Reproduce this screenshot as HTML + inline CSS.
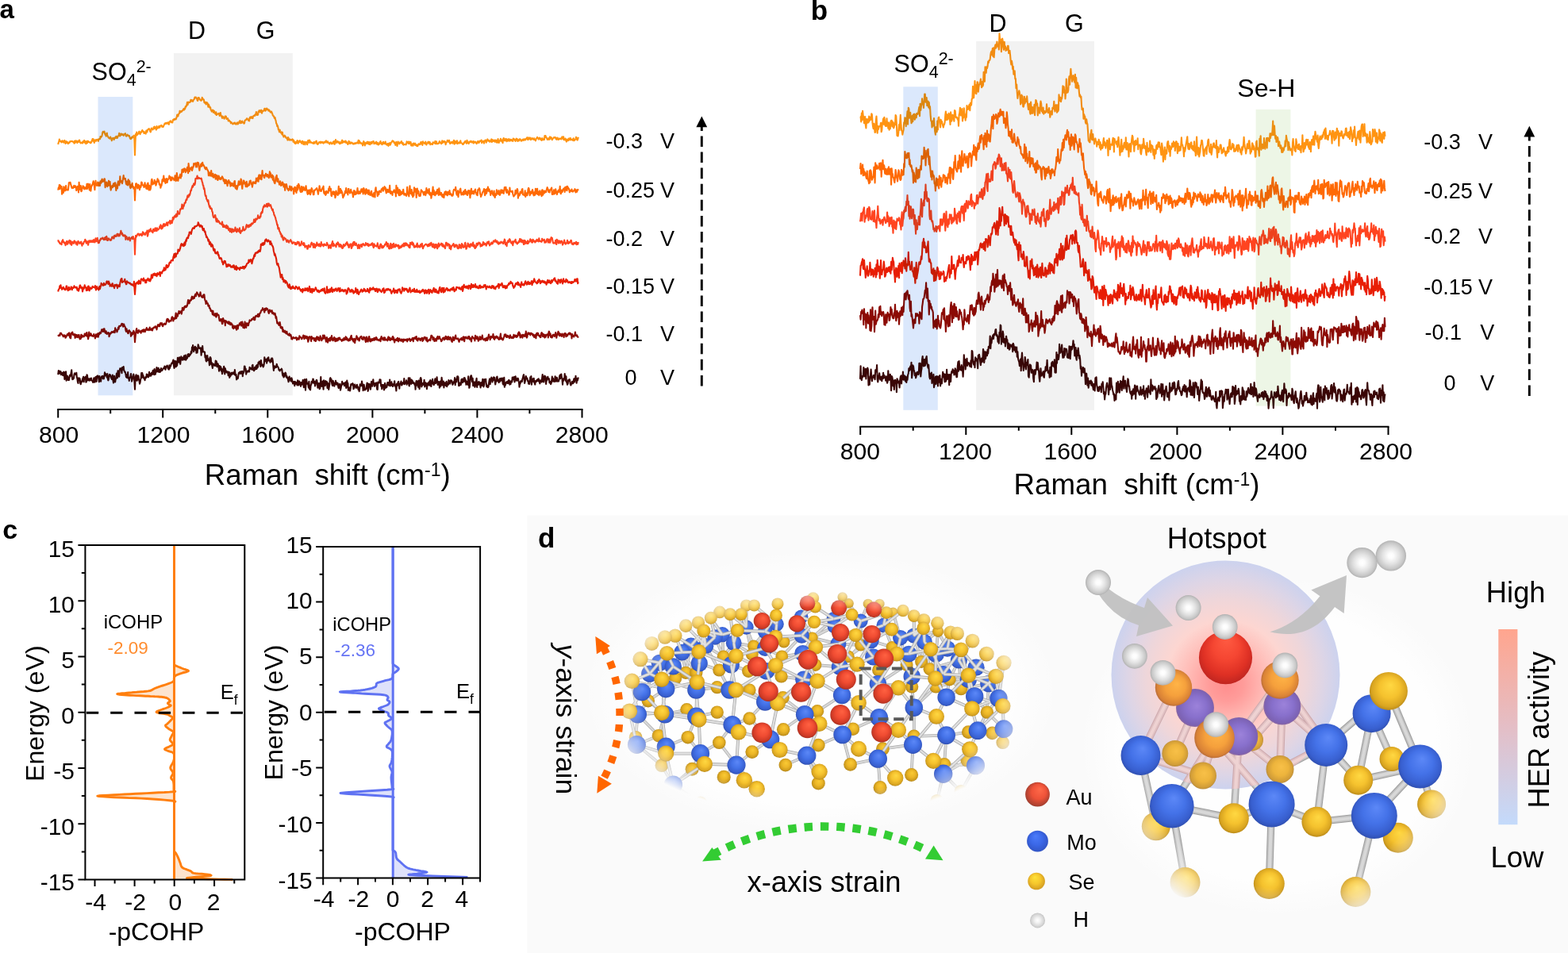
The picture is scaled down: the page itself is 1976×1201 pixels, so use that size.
<!DOCTYPE html>
<html lang="en"><head><meta charset="utf-8"><title>Figure</title>
<style>
html,body{margin:0;padding:0;background:#fff;}
body{width:1976px;height:1201px;overflow:hidden;}
svg{display:block;font-family:"Liberation Sans",Arial,Helvetica,sans-serif;}
</style></head><body>
<svg width="1976" height="1201" viewBox="0 0 1976 1201">
<rect width="1976" height="1201" fill="#fff"/>
<g id="panel-d">
<defs>
<radialGradient id="gY" cx="0.5" cy="0.5" r="0.6" fx="0.55" fy="0.34"><stop offset="0" stop-color="#FFD842"/><stop offset="0.45" stop-color="#F5C22E"/><stop offset="0.75" stop-color="#D9A521"/><stop offset="0.92" stop-color="#AE8016"/><stop offset="1" stop-color="#7E5E0E"/></radialGradient>
<radialGradient id="gYb" cx="0.5" cy="0.5" r="0.6" fx="0.55" fy="0.34"><stop offset="0" stop-color="#FACA34"/><stop offset="0.45" stop-color="#ECB627"/><stop offset="0.75" stop-color="#CC9A1C"/><stop offset="0.92" stop-color="#A47814"/><stop offset="1" stop-color="#7A5A0D"/></radialGradient>
<radialGradient id="gB" cx="0.5" cy="0.5" r="0.6" fx="0.55" fy="0.32"><stop offset="0" stop-color="#5C88F7"/><stop offset="0.45" stop-color="#4472E8"/><stop offset="0.75" stop-color="#385FCF"/><stop offset="0.92" stop-color="#2D4AA6"/><stop offset="1" stop-color="#22367A"/></radialGradient>
<radialGradient id="gR" cx="0.5" cy="0.5" r="0.6" fx="0.58" fy="0.32"><stop offset="0" stop-color="#FF6242"/><stop offset="0.45" stop-color="#F04C32"/><stop offset="0.75" stop-color="#CE3A26"/><stop offset="0.92" stop-color="#9E2C1E"/><stop offset="1" stop-color="#6E2016"/></radialGradient>
<radialGradient id="gH" cx="0.5" cy="0.5" r="0.5" fx="0.5" fy="0.5"><stop offset="0" stop-color="#FFFFFF"/><stop offset="0.18" stop-color="#FCFCFC"/><stop offset="0.55" stop-color="#E2E2E2"/><stop offset="0.85" stop-color="#C8C8C8"/><stop offset="1" stop-color="#B2B2B2"/></radialGradient>
<radialGradient id="gO" cx="0.5" cy="0.5" r="0.56" fx="0.6" fy="0.4"><stop offset="0" stop-color="#FFB447"/><stop offset="0.5" stop-color="#F5A03C"/><stop offset="0.82" stop-color="#D98236"/><stop offset="1" stop-color="#9C5A3A"/></radialGradient>
<radialGradient id="gP" cx="0.5" cy="0.5" r="0.56" fx="0.55" fy="0.45"><stop offset="0" stop-color="#9C82DA"/><stop offset="0.5" stop-color="#8870CC"/><stop offset="0.82" stop-color="#7C62B4"/><stop offset="1" stop-color="#9A6C8C"/></radialGradient>
<radialGradient id="gYt" cx="0.5" cy="0.5" r="0.56" fx="0.55" fy="0.4"><stop offset="0" stop-color="#F8C048"/><stop offset="0.5" stop-color="#EDB43C"/><stop offset="0.82" stop-color="#D09C38"/><stop offset="1" stop-color="#A07A40"/></radialGradient>
<radialGradient id="gAu" cx="0.5" cy="0.5" r="0.62" fx="0.52" fy="0.14"><stop offset="0" stop-color="#FF5B42"/><stop offset="0.4" stop-color="#F54632"/><stop offset="0.7" stop-color="#DE3024"/><stop offset="0.9" stop-color="#BC2420"/><stop offset="1" stop-color="#A01E1C"/></radialGradient>
<radialGradient id="gLR" cx="0.5" cy="0.5" r="0.6" fx="0.62" fy="0.28"><stop offset="0" stop-color="#FF6A4A"/><stop offset="0.5" stop-color="#EE5238"/><stop offset="0.85" stop-color="#A84030"/><stop offset="1" stop-color="#5A3A34"/></radialGradient>
<radialGradient id="gLB" cx="0.5" cy="0.5" r="0.6" fx="0.4" fy="0.25"><stop offset="0" stop-color="#4C7CFA"/><stop offset="0.5" stop-color="#3B68E8"/><stop offset="0.85" stop-color="#3256C8"/><stop offset="1" stop-color="#2C4AA8"/></radialGradient>
<radialGradient id="gLY" cx="0.5" cy="0.5" r="0.6" fx="0.4" fy="0.25"><stop offset="0" stop-color="#FFE23A"/><stop offset="0.5" stop-color="#F5C62C"/><stop offset="0.85" stop-color="#D6A022"/><stop offset="1" stop-color="#B08018"/></radialGradient>
<radialGradient id="gLH" cx="0.5" cy="0.5" r="0.5" fx="0.5" fy="0.5"><stop offset="0" stop-color="#FFFFFF"/><stop offset="0.3" stop-color="#F4F4F4"/><stop offset="0.8" stop-color="#D6D6D6"/><stop offset="1" stop-color="#C2C2C2"/></radialGradient>
<radialGradient id="glow" gradientUnits="userSpaceOnUse" cx="1544.5" cy="850.5" r="144" fx="1546" fy="864"><stop offset="0" stop-color="#FF8E8E"/><stop offset="0.15" stop-color="#FF9C9A"/><stop offset="0.35" stop-color="#FFBDB8"/><stop offset="0.52" stop-color="#FDD6D1"/><stop offset="0.7" stop-color="#EED6DA"/><stop offset="0.86" stop-color="#DDD5E6"/><stop offset="1" stop-color="#CCD2EE"/></radialGradient>
<radialGradient id="vgL" gradientUnits="userSpaceOnUse" cx="0" cy="0" r="1" gradientTransform="translate(1032 883) scale(277 147)"><stop offset="0" stop-color="#fff"/><stop offset="0.80" stop-color="#fff"/><stop offset="0.9" stop-color="#888"/><stop offset="1" stop-color="#000"/></radialGradient>
<mask id="mL" maskUnits="userSpaceOnUse" x="660" y="650" width="700" height="551"><rect x="660" y="650" width="700" height="551" fill="url(#vgL)"/></mask>
<radialGradient id="vgR" gradientUnits="userSpaceOnUse" cx="0" cy="0" r="1" gradientTransform="translate(1622 940) scale(235 235)"><stop offset="0" stop-color="#fff"/><stop offset="0.766" stop-color="#fff"/><stop offset="0.885" stop-color="#888"/><stop offset="1" stop-color="#000"/></radialGradient>
<mask id="mR" maskUnits="userSpaceOnUse" x="1340" y="650" width="520" height="551"><rect x="1340" y="650" width="520" height="551" fill="url(#vgR)"/></mask>
<radialGradient id="haloL" gradientUnits="userSpaceOnUse" cx="0" cy="0" r="1" gradientTransform="translate(1034 872) scale(300 180)"><stop offset="0" stop-color="#fff"/><stop offset="0.8" stop-color="#fff"/><stop offset="1" stop-color="#fff" stop-opacity="0"/></radialGradient>
<radialGradient id="haloR" gradientUnits="userSpaceOnUse" cx="0" cy="0" r="1" gradientTransform="translate(1610 940) scale(250 215)"><stop offset="0" stop-color="#fff"/><stop offset="0.8" stop-color="#fff"/><stop offset="1" stop-color="#fff" stop-opacity="0"/></radialGradient>
<linearGradient id="bar" x1="0" y1="0" x2="0" y2="1"><stop offset="0" stop-color="#FFA58E"/><stop offset="0.5" stop-color="#E4BEC6"/><stop offset="1" stop-color="#C3DAFB"/></linearGradient>
</defs>
<rect x="664.3" y="649.5" width="1312" height="552" fill="#fafafa"/>
<ellipse cx="1034" cy="872" rx="300" ry="180" fill="url(#haloL)" opacity="0.8"/>
<ellipse cx="1610" cy="940" rx="250" ry="215" fill="url(#haloR)" opacity="0.8"/>
<text x="678" y="689.5" font-size="35" font-weight="bold">d</text>
<g mask="url(#mL)">
<path d="M818.8 849.1L851.1 855M818.8 849.1L816.8 883.2M848.4 839.9L851.1 855M848.4 839.9L864.2 847.8M848.4 839.9L877.4 847.8M831.3 835.3L851.1 855M831.3 835.3L864.2 847.8M881.3 835.9L877.4 847.8M881.3 835.9L864.2 847.8M881.3 835.9L906.3 844.5M859.6 822.1L864.2 847.8M859.6 822.1L877.4 847.8M859.6 822.1L851.1 855M870.8 813.6L864.2 847.8M870.8 813.6L877.4 847.8M889.2 814.2L911.6 827.4M889.2 814.2L906.3 844.5M889.2 814.2L877.4 847.8M921.4 837.9L911.6 827.4M921.4 837.9L906.3 844.5M921.4 837.9L943.2 845.8M924.7 810.3L911.6 827.4M924.7 810.3L949.7 814.2M924.7 810.3L947.8 824.7M910.3 799.7L911.6 827.4M901.1 803L911.6 827.4M940.5 790.5L949.7 814.2M940.5 790.5L947.8 824.7M964.2 795.8L949.7 814.2M964.2 795.8L987.9 808.9M964.2 795.8L947.8 824.7M964.2 816.8L949.7 814.2M964.2 816.8L947.8 824.7M964.2 816.8L985.3 827.4M965.5 845.8L984.6 852.4M965.5 845.8L943.2 845.8M965.5 845.8L985.3 827.4M1010.3 801.1L1023.4 803.7M1010.3 801.1L987.9 808.9M1010.3 801.1L985.3 827.4M1009.6 777.4L1023.4 803.7M1011.6 823.4L1027.4 837.9M1011.6 823.4L1023.4 803.7M1011.6 823.4L985.3 827.4M1012.9 856.3L1027.4 837.9M1012.9 856.3L984.6 852.4M1012.9 856.3L986.6 879.2M808.9 872.1L816.8 883.2M839.2 868.2L851.1 855M839.2 868.2L816.8 883.2M839.2 868.2L864.2 847.8M877.4 869.5L877.4 847.8M877.4 869.5L864.2 847.8M877.4 869.5L903.7 866.2M919.5 869.5L903.7 866.2M919.5 869.5L944.5 869.5M919.5 869.5L906.3 844.5M978.7 786.6L987.9 808.9M1050.5 780L1069.6 760.3M1050.5 780L1061.7 752.4M1050.5 780L1023.4 803.7M1084.7 782.6L1093.9 760.9M1084.7 782.6L1069.6 760.3M1084.7 782.6L1084.7 812.9M1051.8 789.2L1023.4 803.7M1051.8 789.2L1069.6 760.3M1134.7 803.7L1124.2 815.5M1134.7 803.7L1125.5 772.1M1134.7 803.7L1142.6 837.9M1113.7 787.9L1125.5 772.1M1113.7 787.9L1108.4 760.9M1113.7 787.9L1124.2 815.5M1151.8 801.1L1182.1 795.8M1151.8 801.1L1124.2 815.5M1151.8 801.1L1161.1 833.9M1165 808.9L1182.1 795.8M1165 808.9L1161.1 833.9M1165 808.9L1171.6 843.2M1056.4 811.6L1068.9 827.4M1056.4 811.6L1084.7 812.9M1056.4 811.6L1023.4 803.7M1097.9 807.6L1084.7 812.9M1097.9 807.6L1124.2 815.5M1097.9 807.6L1068.9 827.4M1145.3 824.1L1142.6 837.9M1145.3 824.1L1161.1 833.9M1145.3 824.1L1124.2 815.5M1179.5 824.7L1171.6 843.2M1179.5 824.7L1161.1 833.9M1179.5 824.7L1182.1 795.8M1193.9 817.5L1182.1 795.8M1193.9 817.5L1171.6 843.2M1193.9 817.5L1161.1 833.9M1208.4 832L1196.6 856.3M1208.4 832L1211.1 868.2M1208.4 832L1171.6 843.2M1230.1 841.2L1211.1 868.2M1230.1 841.2L1196.6 856.3M1058.4 840.5L1068.9 827.4M1058.4 840.5L1027.4 837.9M1058.4 840.5L1084.7 812.9M1100.5 828L1107.1 844.5M1100.5 828L1084.7 812.9M1100.5 828L1124.2 815.5M1188.7 849.7L1179.5 865.5M1188.7 849.7L1171.6 843.2M1188.7 849.7L1211.1 868.2M1149.2 852.4L1149.2 865.5M1149.2 852.4L1142.6 837.9M1149.2 852.4L1161.1 833.9M1106.4 861.6L1107.1 844.5M1106.4 861.6L1149.2 865.5M1106.4 861.6L1142.6 837.9M1220.3 856.3L1211.1 868.2M1220.3 856.3L1196.6 856.3M1220.3 856.3L1179.5 865.5M1245.9 861.6L1211.1 868.2M1245.9 861.6L1243.9 897.6M1061.1 876.1L1030 896.3M1192.6 878.7L1179.5 865.5M1192.6 878.7L1211.1 868.2M1192.6 878.7L1196.6 856.3M1228.2 877.4L1211.1 868.2M1228.2 877.4L1243.9 897.6M1228.2 877.4L1196.6 856.3M1258.4 880L1243.9 897.6M803.7 900.3L816.8 883.2M803.7 900.3L801.1 929.2M803.7 900.3L830 927.2M837.9 900.3L816.8 883.2M837.9 900.3L830 927.2M837.9 900.3L865.5 894.3M877.4 902.9L865.5 894.3M877.4 902.9L903.7 897.6M877.4 902.9L866.8 929.2M922.8 913.4L944.5 905.5M922.8 913.4L903.7 897.6M922.8 913.4L906.3 935.8M964.2 884.5L986.6 879.2M964.2 884.5L944.5 869.5M964.2 884.5L944.5 905.5M1014.2 900.3L1030 896.3M1014.2 900.3L987.2 919.3M1014.2 900.3L986.6 879.2M970.8 931.8L987.2 919.3M970.8 931.8L947.8 947.6M970.8 931.8L944.5 905.5M839.2 941.1L830 927.2M839.2 941.1L833.9 964.7M839.2 941.1L866.8 929.2M882.6 949.6L872.1 969.3M882.6 949.6L866.8 929.2M882.6 949.6L906.3 935.8M928 964.1L912.2 979.2M928 964.1L947.8 947.6M928 964.1L906.3 935.8M1016.8 952.2L1031.3 939.1M1016.8 952.2L989.9 964.1M1016.8 952.2L1031.3 987.1M802.4 938.4L830 927.2M802.4 938.4L833.9 964.7M848.4 989.1L833.9 964.7M848.4 989.1L872.1 969.3M848.4 989.1L882.6 1012.1M1151.8 891.7L1149.2 865.5M1151.8 891.7L1151.8 927.9M1151.8 891.7L1179.5 865.5M1107.8 904.2L1074.9 918.7M1107.8 904.2L1112.4 943.7M1061.7 925.9L1074.9 918.7M1061.7 925.9L1031.3 939.1M1061.7 925.9L1071.6 963.4M1150.5 938.4L1148.6 976.6M1150.5 938.4L1112.4 943.7M1192.6 926.6L1220.3 922.6M1192.6 926.6L1190 963.4M1192.6 926.6L1151.8 927.9M1232.1 920.7L1220.3 922.6M1232.1 920.7L1250.5 923.9M1232.1 920.7L1243.9 897.6M1265 918.7L1250.5 923.9M1265 918.7L1263.7 935.8M1265 918.7L1243.9 897.6M1106.4 956.2L1112.4 943.7M1106.4 956.2L1071.6 963.4M1106.4 956.2L1109.1 992.4M1188.7 975.3L1211.1 997.6M1188.7 975.3L1218.9 958.2M1188.7 975.3L1180.8 1009.5M1229.5 964.7L1218.9 958.2M1229.5 964.7L1211.1 997.6M1229.5 964.7L1190 963.4" stroke="#a9a9a9" stroke-width="3.8" stroke-linecap="round" fill="none"/><path d="M818.8 849.1L851.1 855M818.8 849.1L816.8 883.2M848.4 839.9L851.1 855M848.4 839.9L864.2 847.8M848.4 839.9L877.4 847.8M831.3 835.3L851.1 855M831.3 835.3L864.2 847.8M881.3 835.9L877.4 847.8M881.3 835.9L864.2 847.8M881.3 835.9L906.3 844.5M859.6 822.1L864.2 847.8M859.6 822.1L877.4 847.8M859.6 822.1L851.1 855M870.8 813.6L864.2 847.8M870.8 813.6L877.4 847.8M889.2 814.2L911.6 827.4M889.2 814.2L906.3 844.5M889.2 814.2L877.4 847.8M921.4 837.9L911.6 827.4M921.4 837.9L906.3 844.5M921.4 837.9L943.2 845.8M924.7 810.3L911.6 827.4M924.7 810.3L949.7 814.2M924.7 810.3L947.8 824.7M910.3 799.7L911.6 827.4M901.1 803L911.6 827.4M940.5 790.5L949.7 814.2M940.5 790.5L947.8 824.7M964.2 795.8L949.7 814.2M964.2 795.8L987.9 808.9M964.2 795.8L947.8 824.7M964.2 816.8L949.7 814.2M964.2 816.8L947.8 824.7M964.2 816.8L985.3 827.4M965.5 845.8L984.6 852.4M965.5 845.8L943.2 845.8M965.5 845.8L985.3 827.4M1010.3 801.1L1023.4 803.7M1010.3 801.1L987.9 808.9M1010.3 801.1L985.3 827.4M1009.6 777.4L1023.4 803.7M1011.6 823.4L1027.4 837.9M1011.6 823.4L1023.4 803.7M1011.6 823.4L985.3 827.4M1012.9 856.3L1027.4 837.9M1012.9 856.3L984.6 852.4M1012.9 856.3L986.6 879.2M808.9 872.1L816.8 883.2M839.2 868.2L851.1 855M839.2 868.2L816.8 883.2M839.2 868.2L864.2 847.8M877.4 869.5L877.4 847.8M877.4 869.5L864.2 847.8M877.4 869.5L903.7 866.2M919.5 869.5L903.7 866.2M919.5 869.5L944.5 869.5M919.5 869.5L906.3 844.5M978.7 786.6L987.9 808.9M1050.5 780L1069.6 760.3M1050.5 780L1061.7 752.4M1050.5 780L1023.4 803.7M1084.7 782.6L1093.9 760.9M1084.7 782.6L1069.6 760.3M1084.7 782.6L1084.7 812.9M1051.8 789.2L1023.4 803.7M1051.8 789.2L1069.6 760.3M1134.7 803.7L1124.2 815.5M1134.7 803.7L1125.5 772.1M1134.7 803.7L1142.6 837.9M1113.7 787.9L1125.5 772.1M1113.7 787.9L1108.4 760.9M1113.7 787.9L1124.2 815.5M1151.8 801.1L1182.1 795.8M1151.8 801.1L1124.2 815.5M1151.8 801.1L1161.1 833.9M1165 808.9L1182.1 795.8M1165 808.9L1161.1 833.9M1165 808.9L1171.6 843.2M1056.4 811.6L1068.9 827.4M1056.4 811.6L1084.7 812.9M1056.4 811.6L1023.4 803.7M1097.9 807.6L1084.7 812.9M1097.9 807.6L1124.2 815.5M1097.9 807.6L1068.9 827.4M1145.3 824.1L1142.6 837.9M1145.3 824.1L1161.1 833.9M1145.3 824.1L1124.2 815.5M1179.5 824.7L1171.6 843.2M1179.5 824.7L1161.1 833.9M1179.5 824.7L1182.1 795.8M1193.9 817.5L1182.1 795.8M1193.9 817.5L1171.6 843.2M1193.9 817.5L1161.1 833.9M1208.4 832L1196.6 856.3M1208.4 832L1211.1 868.2M1208.4 832L1171.6 843.2M1230.1 841.2L1211.1 868.2M1230.1 841.2L1196.6 856.3M1058.4 840.5L1068.9 827.4M1058.4 840.5L1027.4 837.9M1058.4 840.5L1084.7 812.9M1100.5 828L1107.1 844.5M1100.5 828L1084.7 812.9M1100.5 828L1124.2 815.5M1188.7 849.7L1179.5 865.5M1188.7 849.7L1171.6 843.2M1188.7 849.7L1211.1 868.2M1149.2 852.4L1149.2 865.5M1149.2 852.4L1142.6 837.9M1149.2 852.4L1161.1 833.9M1106.4 861.6L1107.1 844.5M1106.4 861.6L1149.2 865.5M1106.4 861.6L1142.6 837.9M1220.3 856.3L1211.1 868.2M1220.3 856.3L1196.6 856.3M1220.3 856.3L1179.5 865.5M1245.9 861.6L1211.1 868.2M1245.9 861.6L1243.9 897.6M1061.1 876.1L1030 896.3M1192.6 878.7L1179.5 865.5M1192.6 878.7L1211.1 868.2M1192.6 878.7L1196.6 856.3M1228.2 877.4L1211.1 868.2M1228.2 877.4L1243.9 897.6M1228.2 877.4L1196.6 856.3M1258.4 880L1243.9 897.6M803.7 900.3L816.8 883.2M803.7 900.3L801.1 929.2M803.7 900.3L830 927.2M837.9 900.3L816.8 883.2M837.9 900.3L830 927.2M837.9 900.3L865.5 894.3M877.4 902.9L865.5 894.3M877.4 902.9L903.7 897.6M877.4 902.9L866.8 929.2M922.8 913.4L944.5 905.5M922.8 913.4L903.7 897.6M922.8 913.4L906.3 935.8M964.2 884.5L986.6 879.2M964.2 884.5L944.5 869.5M964.2 884.5L944.5 905.5M1014.2 900.3L1030 896.3M1014.2 900.3L987.2 919.3M1014.2 900.3L986.6 879.2M970.8 931.8L987.2 919.3M970.8 931.8L947.8 947.6M970.8 931.8L944.5 905.5M839.2 941.1L830 927.2M839.2 941.1L833.9 964.7M839.2 941.1L866.8 929.2M882.6 949.6L872.1 969.3M882.6 949.6L866.8 929.2M882.6 949.6L906.3 935.8M928 964.1L912.2 979.2M928 964.1L947.8 947.6M928 964.1L906.3 935.8M1016.8 952.2L1031.3 939.1M1016.8 952.2L989.9 964.1M1016.8 952.2L1031.3 987.1M802.4 938.4L830 927.2M802.4 938.4L833.9 964.7M848.4 989.1L833.9 964.7M848.4 989.1L872.1 969.3M848.4 989.1L882.6 1012.1M1151.8 891.7L1149.2 865.5M1151.8 891.7L1151.8 927.9M1151.8 891.7L1179.5 865.5M1107.8 904.2L1074.9 918.7M1107.8 904.2L1112.4 943.7M1061.7 925.9L1074.9 918.7M1061.7 925.9L1031.3 939.1M1061.7 925.9L1071.6 963.4M1150.5 938.4L1148.6 976.6M1150.5 938.4L1112.4 943.7M1192.6 926.6L1220.3 922.6M1192.6 926.6L1190 963.4M1192.6 926.6L1151.8 927.9M1232.1 920.7L1220.3 922.6M1232.1 920.7L1250.5 923.9M1232.1 920.7L1243.9 897.6M1265 918.7L1250.5 923.9M1265 918.7L1263.7 935.8M1265 918.7L1243.9 897.6M1106.4 956.2L1112.4 943.7M1106.4 956.2L1071.6 963.4M1106.4 956.2L1109.1 992.4M1188.7 975.3L1211.1 997.6M1188.7 975.3L1218.9 958.2M1188.7 975.3L1180.8 1009.5M1229.5 964.7L1218.9 958.2M1229.5 964.7L1211.1 997.6M1229.5 964.7L1190 963.4" stroke="#c6c6c6" stroke-width="3" stroke-linecap="round" fill="none"/><path d="M818.8 849.1L851.1 855M818.8 849.1L816.8 883.2M848.4 839.9L851.1 855M848.4 839.9L864.2 847.8M848.4 839.9L877.4 847.8M831.3 835.3L851.1 855M831.3 835.3L864.2 847.8M881.3 835.9L877.4 847.8M881.3 835.9L864.2 847.8M881.3 835.9L906.3 844.5M859.6 822.1L864.2 847.8M859.6 822.1L877.4 847.8M859.6 822.1L851.1 855M870.8 813.6L864.2 847.8M870.8 813.6L877.4 847.8M889.2 814.2L911.6 827.4M889.2 814.2L906.3 844.5M889.2 814.2L877.4 847.8M921.4 837.9L911.6 827.4M921.4 837.9L906.3 844.5M921.4 837.9L943.2 845.8M924.7 810.3L911.6 827.4M924.7 810.3L949.7 814.2M924.7 810.3L947.8 824.7M910.3 799.7L911.6 827.4M901.1 803L911.6 827.4M940.5 790.5L949.7 814.2M940.5 790.5L947.8 824.7M964.2 795.8L949.7 814.2M964.2 795.8L987.9 808.9M964.2 795.8L947.8 824.7M964.2 816.8L949.7 814.2M964.2 816.8L947.8 824.7M964.2 816.8L985.3 827.4M965.5 845.8L984.6 852.4M965.5 845.8L943.2 845.8M965.5 845.8L985.3 827.4M1010.3 801.1L1023.4 803.7M1010.3 801.1L987.9 808.9M1010.3 801.1L985.3 827.4M1009.6 777.4L1023.4 803.7M1011.6 823.4L1027.4 837.9M1011.6 823.4L1023.4 803.7M1011.6 823.4L985.3 827.4M1012.9 856.3L1027.4 837.9M1012.9 856.3L984.6 852.4M1012.9 856.3L986.6 879.2M808.9 872.1L816.8 883.2M839.2 868.2L851.1 855M839.2 868.2L816.8 883.2M839.2 868.2L864.2 847.8M877.4 869.5L877.4 847.8M877.4 869.5L864.2 847.8M877.4 869.5L903.7 866.2M919.5 869.5L903.7 866.2M919.5 869.5L944.5 869.5M919.5 869.5L906.3 844.5M978.7 786.6L987.9 808.9M1050.5 780L1069.6 760.3M1050.5 780L1061.7 752.4M1050.5 780L1023.4 803.7M1084.7 782.6L1093.9 760.9M1084.7 782.6L1069.6 760.3M1084.7 782.6L1084.7 812.9M1051.8 789.2L1023.4 803.7M1051.8 789.2L1069.6 760.3M1134.7 803.7L1124.2 815.5M1134.7 803.7L1125.5 772.1M1134.7 803.7L1142.6 837.9M1113.7 787.9L1125.5 772.1M1113.7 787.9L1108.4 760.9M1113.7 787.9L1124.2 815.5M1151.8 801.1L1182.1 795.8M1151.8 801.1L1124.2 815.5M1151.8 801.1L1161.1 833.9M1165 808.9L1182.1 795.8M1165 808.9L1161.1 833.9M1165 808.9L1171.6 843.2M1056.4 811.6L1068.9 827.4M1056.4 811.6L1084.7 812.9M1056.4 811.6L1023.4 803.7M1097.9 807.6L1084.7 812.9M1097.9 807.6L1124.2 815.5M1097.9 807.6L1068.9 827.4M1145.3 824.1L1142.6 837.9M1145.3 824.1L1161.1 833.9M1145.3 824.1L1124.2 815.5M1179.5 824.7L1171.6 843.2M1179.5 824.7L1161.1 833.9M1179.5 824.7L1182.1 795.8M1193.9 817.5L1182.1 795.8M1193.9 817.5L1171.6 843.2M1193.9 817.5L1161.1 833.9M1208.4 832L1196.6 856.3M1208.4 832L1211.1 868.2M1208.4 832L1171.6 843.2M1230.1 841.2L1211.1 868.2M1230.1 841.2L1196.6 856.3M1058.4 840.5L1068.9 827.4M1058.4 840.5L1027.4 837.9M1058.4 840.5L1084.7 812.9M1100.5 828L1107.1 844.5M1100.5 828L1084.7 812.9M1100.5 828L1124.2 815.5M1188.7 849.7L1179.5 865.5M1188.7 849.7L1171.6 843.2M1188.7 849.7L1211.1 868.2M1149.2 852.4L1149.2 865.5M1149.2 852.4L1142.6 837.9M1149.2 852.4L1161.1 833.9M1106.4 861.6L1107.1 844.5M1106.4 861.6L1149.2 865.5M1106.4 861.6L1142.6 837.9M1220.3 856.3L1211.1 868.2M1220.3 856.3L1196.6 856.3M1220.3 856.3L1179.5 865.5M1245.9 861.6L1211.1 868.2M1245.9 861.6L1243.9 897.6M1061.1 876.1L1030 896.3M1192.6 878.7L1179.5 865.5M1192.6 878.7L1211.1 868.2M1192.6 878.7L1196.6 856.3M1228.2 877.4L1211.1 868.2M1228.2 877.4L1243.9 897.6M1228.2 877.4L1196.6 856.3M1258.4 880L1243.9 897.6M803.7 900.3L816.8 883.2M803.7 900.3L801.1 929.2M803.7 900.3L830 927.2M837.9 900.3L816.8 883.2M837.9 900.3L830 927.2M837.9 900.3L865.5 894.3M877.4 902.9L865.5 894.3M877.4 902.9L903.7 897.6M877.4 902.9L866.8 929.2M922.8 913.4L944.5 905.5M922.8 913.4L903.7 897.6M922.8 913.4L906.3 935.8M964.2 884.5L986.6 879.2M964.2 884.5L944.5 869.5M964.2 884.5L944.5 905.5M1014.2 900.3L1030 896.3M1014.2 900.3L987.2 919.3M1014.2 900.3L986.6 879.2M970.8 931.8L987.2 919.3M970.8 931.8L947.8 947.6M970.8 931.8L944.5 905.5M839.2 941.1L830 927.2M839.2 941.1L833.9 964.7M839.2 941.1L866.8 929.2M882.6 949.6L872.1 969.3M882.6 949.6L866.8 929.2M882.6 949.6L906.3 935.8M928 964.1L912.2 979.2M928 964.1L947.8 947.6M928 964.1L906.3 935.8M1016.8 952.2L1031.3 939.1M1016.8 952.2L989.9 964.1M1016.8 952.2L1031.3 987.1M802.4 938.4L830 927.2M802.4 938.4L833.9 964.7M848.4 989.1L833.9 964.7M848.4 989.1L872.1 969.3M848.4 989.1L882.6 1012.1M1151.8 891.7L1149.2 865.5M1151.8 891.7L1151.8 927.9M1151.8 891.7L1179.5 865.5M1107.8 904.2L1074.9 918.7M1107.8 904.2L1112.4 943.7M1061.7 925.9L1074.9 918.7M1061.7 925.9L1031.3 939.1M1061.7 925.9L1071.6 963.4M1150.5 938.4L1148.6 976.6M1150.5 938.4L1112.4 943.7M1192.6 926.6L1220.3 922.6M1192.6 926.6L1190 963.4M1192.6 926.6L1151.8 927.9M1232.1 920.7L1220.3 922.6M1232.1 920.7L1250.5 923.9M1232.1 920.7L1243.9 897.6M1265 918.7L1250.5 923.9M1265 918.7L1263.7 935.8M1265 918.7L1243.9 897.6M1106.4 956.2L1112.4 943.7M1106.4 956.2L1071.6 963.4M1106.4 956.2L1109.1 992.4M1188.7 975.3L1211.1 997.6M1188.7 975.3L1218.9 958.2M1188.7 975.3L1180.8 1009.5M1229.5 964.7L1218.9 958.2M1229.5 964.7L1211.1 997.6M1229.5 964.7L1190 963.4" stroke="#dadada" stroke-width="1.6" stroke-linecap="round" fill="none"/>
<circle cx="1061.7" cy="752.4" r="6.2" fill="url(#gYb)"/>
<circle cx="1069.6" cy="760.3" r="6.2" fill="url(#gYb)"/>
<circle cx="1093.9" cy="760.9" r="6.2" fill="url(#gYb)"/>
<circle cx="1108.4" cy="760.9" r="6.2" fill="url(#gYb)"/>
<circle cx="1125.5" cy="772.1" r="6.5" fill="url(#gYb)"/>
<circle cx="1182.1" cy="795.8" r="7.1" fill="url(#gYb)"/>
<circle cx="1023.4" cy="803.7" r="7.3" fill="url(#gYb)"/>
<circle cx="987.9" cy="808.9" r="7.5" fill="url(#gYb)"/>
<circle cx="1084.7" cy="812.9" r="7.6" fill="url(#gYb)"/>
<circle cx="949.7" cy="814.2" r="7.6" fill="url(#gYb)"/>
<circle cx="1124.2" cy="815.5" r="7.6" fill="url(#gYb)"/>
<circle cx="947.8" cy="824.7" r="7.9" fill="url(#gYb)"/>
<circle cx="985.3" cy="827.4" r="7.9" fill="url(#gYb)"/>
<circle cx="911.6" cy="827.4" r="7.9" fill="url(#gYb)"/>
<circle cx="1068.9" cy="827.4" r="7.9" fill="url(#gYb)"/>
<circle cx="1161.1" cy="833.9" r="8" fill="url(#gYb)"/>
<circle cx="1027.4" cy="837.9" r="8" fill="url(#gYb)"/>
<circle cx="1142.6" cy="837.9" r="8" fill="url(#gYb)"/>
<circle cx="1171.6" cy="843.2" r="8" fill="url(#gYb)"/>
<circle cx="906.3" cy="844.5" r="8" fill="url(#gYb)"/>
<circle cx="1107.1" cy="844.5" r="8" fill="url(#gYb)"/>
<circle cx="943.2" cy="845.8" r="8.1" fill="url(#gYb)"/>
<circle cx="864.2" cy="847.8" r="8.1" fill="url(#gYb)"/>
<circle cx="877.4" cy="847.8" r="8.1" fill="url(#gYb)"/>
<circle cx="984.6" cy="852.4" r="8.1" fill="url(#gYb)"/>
<circle cx="851.1" cy="855" r="8.1" fill="url(#gYb)"/>
<circle cx="1196.6" cy="856.3" r="8.1" fill="url(#gYb)"/>
<circle cx="1179.5" cy="865.5" r="8.1" fill="url(#gYb)"/>
<circle cx="1149.2" cy="865.5" r="8.1" fill="url(#gYb)"/>
<circle cx="903.7" cy="866.2" r="8.1" fill="url(#gYb)"/>
<circle cx="1211.1" cy="868.2" r="8.1" fill="url(#gYb)"/>
<circle cx="944.5" cy="869.5" r="8.1" fill="url(#gYb)"/>
<circle cx="986.6" cy="879.2" r="8.2" fill="url(#gYb)"/>
<circle cx="816.8" cy="883.2" r="8.2" fill="url(#gYb)"/>
<circle cx="865.5" cy="894.3" r="8.2" fill="url(#gYb)"/>
<circle cx="1030" cy="896.3" r="8.2" fill="url(#gYb)"/>
<circle cx="903.7" cy="897.6" r="8.2" fill="url(#gYb)"/>
<circle cx="1243.9" cy="897.6" r="8.2" fill="url(#gYb)"/>
<circle cx="944.5" cy="905.5" r="8.2" fill="url(#gYb)"/>
<circle cx="1074.9" cy="918.7" r="8.3" fill="url(#gYb)"/>
<circle cx="987.2" cy="919.3" r="8.3" fill="url(#gYb)"/>
<circle cx="1220.3" cy="922.6" r="8.3" fill="url(#gYb)"/>
<circle cx="1250.5" cy="923.9" r="8.3" fill="url(#gYb)"/>
<circle cx="830" cy="927.2" r="8.3" fill="url(#gYb)"/>
<circle cx="1151.8" cy="927.9" r="8.3" fill="url(#gYb)"/>
<circle cx="866.8" cy="929.2" r="8.3" fill="url(#gYb)"/>
<circle cx="801.1" cy="929.2" r="8.3" fill="url(#gYb)"/>
<circle cx="906.3" cy="935.8" r="8.3" fill="url(#gYb)"/>
<circle cx="1263.7" cy="935.8" r="8.3" fill="url(#gYb)"/>
<circle cx="1031.3" cy="939.1" r="8.4" fill="url(#gYb)"/>
<circle cx="1112.4" cy="943.7" r="8.4" fill="url(#gYb)"/>
<circle cx="947.8" cy="947.6" r="8.4" fill="url(#gYb)"/>
<circle cx="1218.9" cy="958.2" r="8.4" fill="url(#gYb)"/>
<circle cx="1071.6" cy="963.4" r="8.4" fill="url(#gYb)"/>
<circle cx="1190" cy="963.4" r="8.4" fill="url(#gYb)"/>
<circle cx="989.9" cy="964.1" r="8.4" fill="url(#gYb)"/>
<circle cx="833.9" cy="964.7" r="8.4" fill="url(#gYb)"/>
<circle cx="872.1" cy="969.3" r="8.5" fill="url(#gYb)"/>
<circle cx="1148.6" cy="976.6" r="8.5" fill="url(#gYb)"/>
<circle cx="912.2" cy="979.2" r="8.5" fill="url(#gYb)"/>
<circle cx="1031.3" cy="987.1" r="8.5" fill="url(#gYb)"/>
<circle cx="1109.1" cy="992.4" r="8.5" fill="url(#gYb)"/>
<circle cx="1211.1" cy="997.6" r="8.6" fill="url(#gYb)"/>
<circle cx="1180.8" cy="1009.5" r="8.6" fill="url(#gYb)"/>
<circle cx="882.6" cy="1012.1" r="8.6" fill="url(#gYb)"/>
<circle cx="1009.6" cy="777.4" r="8.8" fill="url(#gB)"/>
<circle cx="1050.5" cy="780" r="8.9" fill="url(#gB)"/>
<circle cx="1084.7" cy="782.6" r="9" fill="url(#gB)"/>
<circle cx="978.7" cy="786.6" r="9.1" fill="url(#gB)"/>
<circle cx="1113.7" cy="787.9" r="9.2" fill="url(#gB)"/>
<circle cx="1051.8" cy="789.2" r="9.2" fill="url(#gB)"/>
<circle cx="940.5" cy="790.5" r="9.2" fill="url(#gB)"/>
<circle cx="964.2" cy="795.8" r="9.4" fill="url(#gB)"/>
<circle cx="910.3" cy="799.7" r="9.6" fill="url(#gB)"/>
<circle cx="1010.3" cy="801.1" r="9.6" fill="url(#gB)"/>
<circle cx="1151.8" cy="801.1" r="9.6" fill="url(#gB)"/>
<circle cx="901.1" cy="803" r="9.7" fill="url(#gB)"/>
<circle cx="1134.7" cy="803.7" r="9.7" fill="url(#gB)"/>
<circle cx="1097.9" cy="807.6" r="9.8" fill="url(#gB)"/>
<circle cx="1165" cy="808.9" r="9.9" fill="url(#gB)"/>
<circle cx="924.7" cy="810.3" r="9.9" fill="url(#gB)"/>
<circle cx="1056.4" cy="811.6" r="10" fill="url(#gB)"/>
<circle cx="870.8" cy="813.6" r="10" fill="url(#gB)"/>
<circle cx="889.2" cy="814.2" r="10.1" fill="url(#gB)"/>
<circle cx="964.2" cy="816.8" r="10.1" fill="url(#gB)"/>
<circle cx="1193.9" cy="817.5" r="10.2" fill="url(#gB)"/>
<circle cx="859.6" cy="822.1" r="10.3" fill="url(#gB)"/>
<circle cx="1011.6" cy="823.4" r="10.4" fill="url(#gB)"/>
<circle cx="1145.3" cy="824.1" r="10.4" fill="url(#gB)"/>
<circle cx="1179.5" cy="824.7" r="10.4" fill="url(#gB)"/>
<circle cx="1100.5" cy="828" r="10.5" fill="url(#gB)"/>
<circle cx="1208.4" cy="832" r="10.6" fill="url(#gB)"/>
<circle cx="831.3" cy="835.3" r="10.6" fill="url(#gB)"/>
<circle cx="881.3" cy="835.9" r="10.6" fill="url(#gB)"/>
<circle cx="921.4" cy="837.9" r="10.6" fill="url(#gB)"/>
<circle cx="848.4" cy="839.9" r="10.6" fill="url(#gB)"/>
<circle cx="1058.4" cy="840.5" r="10.6" fill="url(#gB)"/>
<circle cx="1230.1" cy="841.2" r="10.6" fill="url(#gB)"/>
<circle cx="965.5" cy="845.8" r="10.7" fill="url(#gB)"/>
<circle cx="818.8" cy="849.1" r="10.7" fill="url(#gB)"/>
<circle cx="1188.7" cy="849.7" r="10.7" fill="url(#gB)"/>
<circle cx="1149.2" cy="852.4" r="10.7" fill="url(#gB)"/>
<circle cx="1012.9" cy="856.3" r="10.7" fill="url(#gB)"/>
<circle cx="1220.3" cy="856.3" r="10.7" fill="url(#gB)"/>
<circle cx="1106.4" cy="861.6" r="10.7" fill="url(#gB)"/>
<circle cx="1245.9" cy="861.6" r="10.7" fill="url(#gB)"/>
<path d="M819.6 849.4L833.9 856.3M818.2 848.2L807 830.7M817.7 849.5L796.4 858.3M819.9 847.8L840.5 823.4M848 839L840.5 823.4M847.7 840.7L833.9 856.3M849.9 840.9L878.4 859.6M831.8 834.7L840.5 823.4M831.4 836.3L833.9 856.3M830.1 835L807 830.7M881.3 835.2L880.7 821.4M881.2 837.1L878.4 859.6M881.6 833.9L886.8 795.1M858.7 822.2L840.5 823.4M860.7 822.1L880.7 821.4M859.2 821.1L850.8 801.1M871.3 813.9L880.7 821.4M869.8 812.9L850.8 801.1M871.6 812.6L886.8 795.1M889.1 813.3L886.8 795.1M888.8 812.7L880 784.6M888 812.9L864.2 788.6M921.7 837.3L927.4 826.7M921.7 839.5L927.4 869.5M919.4 837.1L880.7 821.4M925 809.5L929.3 794.5M924.9 811.1L927.4 826.7M924.5 808.5L920.1 774.1M911.2 799.5L929.3 794.5M909.1 799.5L886.8 795.1M909.5 798.7L895.8 778.7M900.3 802.6L886.8 795.1M900.8 801.8L895.8 778.7M900 803.9L880.7 821.4M940.2 789.7L933.9 774.1M939.5 789.7L920.1 774.1M940.5 789.1L940.5 762.9M964.9 796.1L977.4 802.4M964.9 794.8L978 775.4M962.5 795.7L929.3 794.5M964.9 816.1L977.4 802.4M964.9 817.9L977.4 838.6M962.4 817.3L927.4 826.7M966.1 845.4L977.4 838.6M963.6 844.8L927.4 826.7M966.3 847.8L980 886.4M963.6 847L927.4 869.5M1011.2 801.8L1028 815.5M1011.1 800.2L1026.1 783.9M1008.6 801.1L977.4 802.4M1010.4 777.7L1026.1 783.9M1010.5 776.7L1027.4 764.9M1010.4 776.2L1024.7 753.7M1012.4 823L1028 815.5M1009.9 824.2L977.4 838.6M1012.5 825.2L1030 858.3M1013.8 856.4L1030 858.3M1011.1 855.4L977.4 838.6M1013.7 854.3L1028 815.5M1011.2 857.8L980 886.4M808.3 871.4L796.4 858.3M808.2 873.3L793.2 896.3M810.2 871.3L833.9 856.3M810.2 873.4L833.9 898.3M838.9 867.6L833.9 856.3M838.9 869.7L833.9 898.3M841.2 867.7L878.4 859.6M837.1 867.7L796.4 858.3M877.5 871.3L880.7 906.8M875.2 868.8L833.9 856.3M917.4 869L878.4 859.6M919.9 867.3L927.4 826.7M978.6 787.4L977.4 802.4M978.8 785.3L980 760.9M977.3 785.4L950.4 762.9M1051.7 779.7L1073.6 774.7M1049.3 780.2L1026.1 783.9M1049.4 779.2L1027.4 764.9M1084.2 782.2L1073.6 774.7M1084.4 783.5L1078.2 800.4M1086.3 782.1L1117 772.1M1052.9 788.5L1073.6 774.7M1050.6 788.9L1026.1 783.9M1053.2 789.8L1078.2 800.4M1134.2 803.2L1123.6 793.2M1134.5 804.7L1130.1 824.1M1136.2 803.1L1163.7 791.8M1113.8 787.1L1117 772.1M1114.9 787L1138 769.5M1111.9 788.5L1078.2 800.4M1152.4 800.6L1163.7 791.8M1152.5 800.1L1164.3 781.3M1151.8 799.8L1151.8 776.1M1165.4 809.4L1172.9 818.2M1164.9 808.1L1163.7 791.8M1165 807.6L1164.3 781.3M1057.5 811L1078.2 800.4M1055 811.8L1028 815.5M1057.6 812.9L1080.1 837.2M1096.9 807.3L1078.2 800.4M1099.2 806.9L1123.6 793.2M1097 809.1L1080.1 837.2M1144.5 824.1L1130.1 824.1M1146.6 823.8L1172.9 818.2M1146.2 822.5L1163.7 791.8M1179.4 826.2L1178.8 855M1181.1 824.4L1211.1 818.8M1180.4 823.4L1197.9 797.1M1194.8 817.6L1211.1 818.8M1194.1 816.5L1197.9 797.1M1192.9 817.5L1172.9 818.2M1208.6 831.3L1211.1 818.8M1209 832.9L1220.3 851.1M1209.3 830.8L1225.5 807.6M1229.6 841.7L1220.3 851.1M1230.8 840.3L1243.3 824.1M1231.4 841.7L1255.1 852.4M1229.2 840.1L1211.1 818.8M1059.5 840.4L1080.1 837.2M1057 841.4L1030 858.3M1056.9 839.3L1028 815.5M1059.4 838.5L1078.2 800.4M1099.5 828.5L1080.1 837.2M1102 827.8L1130.1 824.1M1099.4 826.6L1078.2 800.4M1190.3 849.8L1220.3 851.1M1187.9 848.2L1172.9 818.2M1189.8 848.2L1211.1 818.8M1148.4 853.1L1132.1 866.8M1150.7 852.5L1178.8 855M1148.3 851L1130.1 824.1M1150.4 850.7L1172.9 818.2M1107.7 861.8L1132.1 866.8M1105.2 862.8L1082.1 885.8M1105.1 860.4L1080.1 837.2M1107.6 859.7L1130.1 824.1M1222 856.1L1255.1 852.4M1220.5 858.2L1224.9 893M1219.8 854.4L1211.1 818.8M1221.4 854.7L1243.3 824.1M1246.4 861.1L1255.1 852.4M1244.6 861.1L1220.3 851.1M1246.9 860.3L1265 835.3M1246.8 863L1263.7 889.7M1062.1 876.5L1082.1 885.8M1059.5 875.2L1030 858.3M1062 874.1L1080.1 837.2M1192 879.9L1180.1 902.9M1191.9 877.5L1178.8 855M1194.2 879.4L1224.9 893M1194 877.3L1220.3 851.1M1228 878.2L1224.9 893M1227.8 876.1L1220.3 851.1M1229.5 876.1L1255.1 852.4M1229.9 878L1263.7 889.7M1258.3 878.6L1255.1 852.4M1256.7 880.7L1224.9 893M1258.8 877.8L1265 835.3M805.2 900.2L833.9 898.3M803.3 898.2L796.4 858.3M840 900.6L880.7 906.8M837.7 898.1L833.9 856.3M835.7 900.1L793.2 896.3M877.4 900.7L878.4 859.6M875.2 902.7L833.9 898.3M923.2 913.9L930.7 922.6M920.7 913.1L880.7 906.8M923 911.2L927.4 869.5M965 884.6L980 886.4M962.4 883.7L927.4 869.5M1015.1 900.9L1032.6 912.1M1012.5 899.6L980 886.4M1015 898.2L1030 858.3M971.4 932.5L982.6 945M968.8 931.4L930.7 922.6M971.2 929.6L980 886.4M838.9 938.9L833.9 898.3M882.9 950.3L887.9 962.8M882.5 947.5L880.7 906.8M880.5 949.6L839.2 949.6M928.5 965L937.9 983.2M929.3 965.6L953.7 994.3M926 964L887.9 962.8M928.2 962L930.7 922.6M1017.6 953.3L1032.6 972.6M1015.1 951.9L982.6 945M1017.6 950.2L1032.6 912.1M804.2 939L839.2 949.6M801.9 936.3L793.2 896.3M848 987.1L839.2 949.6M850.4 987.8L887.9 962.8M1153.3 892.3L1180.1 902.9M1150.9 890.5L1132.1 866.8M1150.9 893.1L1132.1 920M1153.2 889.9L1178.8 855M1109 905L1132.1 920M1106.5 903.3L1082.1 885.8M1109 902.3L1132.1 866.8M1062.7 926.8L1082.1 943.7M1060.3 925.2L1032.6 912.1M1062.7 923.9L1082.1 885.8M1149.6 937.5L1132.1 920M1151.8 939.4L1176.2 958.8M1152 936.6L1180.1 902.9M1192 925.4L1180.1 902.9M1194.1 927.5L1222.2 944.3M1191.8 928.2L1176.2 958.8M1194.2 924.9L1224.9 893M1231.6 921.8L1222.2 944.3M1231.7 919.3L1224.9 893M1233.7 919.1L1263.7 889.7M1264.9 917.2L1263.7 889.7M1105.2 955.6L1082.1 943.7M1107.5 957.4L1128.2 980.5M1107.7 954.4L1132.1 920M1188.1 974.4L1176.2 958.8M1190.4 973.7L1222.2 944.3M1229.1 963.7L1222.2 944.3" stroke="#a2a2a2" stroke-width="3.9" stroke-linecap="round" fill="none"/><path d="M819.6 849.4L833.9 856.3M818.2 848.2L807 830.7M817.7 849.5L796.4 858.3M819.9 847.8L840.5 823.4M848 839L840.5 823.4M847.7 840.7L833.9 856.3M849.9 840.9L878.4 859.6M831.8 834.7L840.5 823.4M831.4 836.3L833.9 856.3M830.1 835L807 830.7M881.3 835.2L880.7 821.4M881.2 837.1L878.4 859.6M881.6 833.9L886.8 795.1M858.7 822.2L840.5 823.4M860.7 822.1L880.7 821.4M859.2 821.1L850.8 801.1M871.3 813.9L880.7 821.4M869.8 812.9L850.8 801.1M871.6 812.6L886.8 795.1M889.1 813.3L886.8 795.1M888.8 812.7L880 784.6M888 812.9L864.2 788.6M921.7 837.3L927.4 826.7M921.7 839.5L927.4 869.5M919.4 837.1L880.7 821.4M925 809.5L929.3 794.5M924.9 811.1L927.4 826.7M924.5 808.5L920.1 774.1M911.2 799.5L929.3 794.5M909.1 799.5L886.8 795.1M909.5 798.7L895.8 778.7M900.3 802.6L886.8 795.1M900.8 801.8L895.8 778.7M900 803.9L880.7 821.4M940.2 789.7L933.9 774.1M939.5 789.7L920.1 774.1M940.5 789.1L940.5 762.9M964.9 796.1L977.4 802.4M964.9 794.8L978 775.4M962.5 795.7L929.3 794.5M964.9 816.1L977.4 802.4M964.9 817.9L977.4 838.6M962.4 817.3L927.4 826.7M966.1 845.4L977.4 838.6M963.6 844.8L927.4 826.7M966.3 847.8L980 886.4M963.6 847L927.4 869.5M1011.2 801.8L1028 815.5M1011.1 800.2L1026.1 783.9M1008.6 801.1L977.4 802.4M1010.4 777.7L1026.1 783.9M1010.5 776.7L1027.4 764.9M1010.4 776.2L1024.7 753.7M1012.4 823L1028 815.5M1009.9 824.2L977.4 838.6M1012.5 825.2L1030 858.3M1013.8 856.4L1030 858.3M1011.1 855.4L977.4 838.6M1013.7 854.3L1028 815.5M1011.2 857.8L980 886.4M808.3 871.4L796.4 858.3M808.2 873.3L793.2 896.3M810.2 871.3L833.9 856.3M810.2 873.4L833.9 898.3M838.9 867.6L833.9 856.3M838.9 869.7L833.9 898.3M841.2 867.7L878.4 859.6M837.1 867.7L796.4 858.3M877.5 871.3L880.7 906.8M875.2 868.8L833.9 856.3M917.4 869L878.4 859.6M919.9 867.3L927.4 826.7M978.6 787.4L977.4 802.4M978.8 785.3L980 760.9M977.3 785.4L950.4 762.9M1051.7 779.7L1073.6 774.7M1049.3 780.2L1026.1 783.9M1049.4 779.2L1027.4 764.9M1084.2 782.2L1073.6 774.7M1084.4 783.5L1078.2 800.4M1086.3 782.1L1117 772.1M1052.9 788.5L1073.6 774.7M1050.6 788.9L1026.1 783.9M1053.2 789.8L1078.2 800.4M1134.2 803.2L1123.6 793.2M1134.5 804.7L1130.1 824.1M1136.2 803.1L1163.7 791.8M1113.8 787.1L1117 772.1M1114.9 787L1138 769.5M1111.9 788.5L1078.2 800.4M1152.4 800.6L1163.7 791.8M1152.5 800.1L1164.3 781.3M1151.8 799.8L1151.8 776.1M1165.4 809.4L1172.9 818.2M1164.9 808.1L1163.7 791.8M1165 807.6L1164.3 781.3M1057.5 811L1078.2 800.4M1055 811.8L1028 815.5M1057.6 812.9L1080.1 837.2M1096.9 807.3L1078.2 800.4M1099.2 806.9L1123.6 793.2M1097 809.1L1080.1 837.2M1144.5 824.1L1130.1 824.1M1146.6 823.8L1172.9 818.2M1146.2 822.5L1163.7 791.8M1179.4 826.2L1178.8 855M1181.1 824.4L1211.1 818.8M1180.4 823.4L1197.9 797.1M1194.8 817.6L1211.1 818.8M1194.1 816.5L1197.9 797.1M1192.9 817.5L1172.9 818.2M1208.6 831.3L1211.1 818.8M1209 832.9L1220.3 851.1M1209.3 830.8L1225.5 807.6M1229.6 841.7L1220.3 851.1M1230.8 840.3L1243.3 824.1M1231.4 841.7L1255.1 852.4M1229.2 840.1L1211.1 818.8M1059.5 840.4L1080.1 837.2M1057 841.4L1030 858.3M1056.9 839.3L1028 815.5M1059.4 838.5L1078.2 800.4M1099.5 828.5L1080.1 837.2M1102 827.8L1130.1 824.1M1099.4 826.6L1078.2 800.4M1190.3 849.8L1220.3 851.1M1187.9 848.2L1172.9 818.2M1189.8 848.2L1211.1 818.8M1148.4 853.1L1132.1 866.8M1150.7 852.5L1178.8 855M1148.3 851L1130.1 824.1M1150.4 850.7L1172.9 818.2M1107.7 861.8L1132.1 866.8M1105.2 862.8L1082.1 885.8M1105.1 860.4L1080.1 837.2M1107.6 859.7L1130.1 824.1M1222 856.1L1255.1 852.4M1220.5 858.2L1224.9 893M1219.8 854.4L1211.1 818.8M1221.4 854.7L1243.3 824.1M1246.4 861.1L1255.1 852.4M1244.6 861.1L1220.3 851.1M1246.9 860.3L1265 835.3M1246.8 863L1263.7 889.7M1062.1 876.5L1082.1 885.8M1059.5 875.2L1030 858.3M1062 874.1L1080.1 837.2M1192 879.9L1180.1 902.9M1191.9 877.5L1178.8 855M1194.2 879.4L1224.9 893M1194 877.3L1220.3 851.1M1228 878.2L1224.9 893M1227.8 876.1L1220.3 851.1M1229.5 876.1L1255.1 852.4M1229.9 878L1263.7 889.7M1258.3 878.6L1255.1 852.4M1256.7 880.7L1224.9 893M1258.8 877.8L1265 835.3M805.2 900.2L833.9 898.3M803.3 898.2L796.4 858.3M840 900.6L880.7 906.8M837.7 898.1L833.9 856.3M835.7 900.1L793.2 896.3M877.4 900.7L878.4 859.6M875.2 902.7L833.9 898.3M923.2 913.9L930.7 922.6M920.7 913.1L880.7 906.8M923 911.2L927.4 869.5M965 884.6L980 886.4M962.4 883.7L927.4 869.5M1015.1 900.9L1032.6 912.1M1012.5 899.6L980 886.4M1015 898.2L1030 858.3M971.4 932.5L982.6 945M968.8 931.4L930.7 922.6M971.2 929.6L980 886.4M838.9 938.9L833.9 898.3M882.9 950.3L887.9 962.8M882.5 947.5L880.7 906.8M880.5 949.6L839.2 949.6M928.5 965L937.9 983.2M929.3 965.6L953.7 994.3M926 964L887.9 962.8M928.2 962L930.7 922.6M1017.6 953.3L1032.6 972.6M1015.1 951.9L982.6 945M1017.6 950.2L1032.6 912.1M804.2 939L839.2 949.6M801.9 936.3L793.2 896.3M848 987.1L839.2 949.6M850.4 987.8L887.9 962.8M1153.3 892.3L1180.1 902.9M1150.9 890.5L1132.1 866.8M1150.9 893.1L1132.1 920M1153.2 889.9L1178.8 855M1109 905L1132.1 920M1106.5 903.3L1082.1 885.8M1109 902.3L1132.1 866.8M1062.7 926.8L1082.1 943.7M1060.3 925.2L1032.6 912.1M1062.7 923.9L1082.1 885.8M1149.6 937.5L1132.1 920M1151.8 939.4L1176.2 958.8M1152 936.6L1180.1 902.9M1192 925.4L1180.1 902.9M1194.1 927.5L1222.2 944.3M1191.8 928.2L1176.2 958.8M1194.2 924.9L1224.9 893M1231.6 921.8L1222.2 944.3M1231.7 919.3L1224.9 893M1233.7 919.1L1263.7 889.7M1264.9 917.2L1263.7 889.7M1105.2 955.6L1082.1 943.7M1107.5 957.4L1128.2 980.5M1107.7 954.4L1132.1 920M1188.1 974.4L1176.2 958.8M1190.4 973.7L1222.2 944.3M1229.1 963.7L1222.2 944.3" stroke="#c8c8c8" stroke-width="3" stroke-linecap="round" fill="none"/><path d="M819.6 849.4L833.9 856.3M818.2 848.2L807 830.7M817.7 849.5L796.4 858.3M819.9 847.8L840.5 823.4M848 839L840.5 823.4M847.7 840.7L833.9 856.3M849.9 840.9L878.4 859.6M831.8 834.7L840.5 823.4M831.4 836.3L833.9 856.3M830.1 835L807 830.7M881.3 835.2L880.7 821.4M881.2 837.1L878.4 859.6M881.6 833.9L886.8 795.1M858.7 822.2L840.5 823.4M860.7 822.1L880.7 821.4M859.2 821.1L850.8 801.1M871.3 813.9L880.7 821.4M869.8 812.9L850.8 801.1M871.6 812.6L886.8 795.1M889.1 813.3L886.8 795.1M888.8 812.7L880 784.6M888 812.9L864.2 788.6M921.7 837.3L927.4 826.7M921.7 839.5L927.4 869.5M919.4 837.1L880.7 821.4M925 809.5L929.3 794.5M924.9 811.1L927.4 826.7M924.5 808.5L920.1 774.1M911.2 799.5L929.3 794.5M909.1 799.5L886.8 795.1M909.5 798.7L895.8 778.7M900.3 802.6L886.8 795.1M900.8 801.8L895.8 778.7M900 803.9L880.7 821.4M940.2 789.7L933.9 774.1M939.5 789.7L920.1 774.1M940.5 789.1L940.5 762.9M964.9 796.1L977.4 802.4M964.9 794.8L978 775.4M962.5 795.7L929.3 794.5M964.9 816.1L977.4 802.4M964.9 817.9L977.4 838.6M962.4 817.3L927.4 826.7M966.1 845.4L977.4 838.6M963.6 844.8L927.4 826.7M966.3 847.8L980 886.4M963.6 847L927.4 869.5M1011.2 801.8L1028 815.5M1011.1 800.2L1026.1 783.9M1008.6 801.1L977.4 802.4M1010.4 777.7L1026.1 783.9M1010.5 776.7L1027.4 764.9M1010.4 776.2L1024.7 753.7M1012.4 823L1028 815.5M1009.9 824.2L977.4 838.6M1012.5 825.2L1030 858.3M1013.8 856.4L1030 858.3M1011.1 855.4L977.4 838.6M1013.7 854.3L1028 815.5M1011.2 857.8L980 886.4M808.3 871.4L796.4 858.3M808.2 873.3L793.2 896.3M810.2 871.3L833.9 856.3M810.2 873.4L833.9 898.3M838.9 867.6L833.9 856.3M838.9 869.7L833.9 898.3M841.2 867.7L878.4 859.6M837.1 867.7L796.4 858.3M877.5 871.3L880.7 906.8M875.2 868.8L833.9 856.3M917.4 869L878.4 859.6M919.9 867.3L927.4 826.7M978.6 787.4L977.4 802.4M978.8 785.3L980 760.9M977.3 785.4L950.4 762.9M1051.7 779.7L1073.6 774.7M1049.3 780.2L1026.1 783.9M1049.4 779.2L1027.4 764.9M1084.2 782.2L1073.6 774.7M1084.4 783.5L1078.2 800.4M1086.3 782.1L1117 772.1M1052.9 788.5L1073.6 774.7M1050.6 788.9L1026.1 783.9M1053.2 789.8L1078.2 800.4M1134.2 803.2L1123.6 793.2M1134.5 804.7L1130.1 824.1M1136.2 803.1L1163.7 791.8M1113.8 787.1L1117 772.1M1114.9 787L1138 769.5M1111.9 788.5L1078.2 800.4M1152.4 800.6L1163.7 791.8M1152.5 800.1L1164.3 781.3M1151.8 799.8L1151.8 776.1M1165.4 809.4L1172.9 818.2M1164.9 808.1L1163.7 791.8M1165 807.6L1164.3 781.3M1057.5 811L1078.2 800.4M1055 811.8L1028 815.5M1057.6 812.9L1080.1 837.2M1096.9 807.3L1078.2 800.4M1099.2 806.9L1123.6 793.2M1097 809.1L1080.1 837.2M1144.5 824.1L1130.1 824.1M1146.6 823.8L1172.9 818.2M1146.2 822.5L1163.7 791.8M1179.4 826.2L1178.8 855M1181.1 824.4L1211.1 818.8M1180.4 823.4L1197.9 797.1M1194.8 817.6L1211.1 818.8M1194.1 816.5L1197.9 797.1M1192.9 817.5L1172.9 818.2M1208.6 831.3L1211.1 818.8M1209 832.9L1220.3 851.1M1209.3 830.8L1225.5 807.6M1229.6 841.7L1220.3 851.1M1230.8 840.3L1243.3 824.1M1231.4 841.7L1255.1 852.4M1229.2 840.1L1211.1 818.8M1059.5 840.4L1080.1 837.2M1057 841.4L1030 858.3M1056.9 839.3L1028 815.5M1059.4 838.5L1078.2 800.4M1099.5 828.5L1080.1 837.2M1102 827.8L1130.1 824.1M1099.4 826.6L1078.2 800.4M1190.3 849.8L1220.3 851.1M1187.9 848.2L1172.9 818.2M1189.8 848.2L1211.1 818.8M1148.4 853.1L1132.1 866.8M1150.7 852.5L1178.8 855M1148.3 851L1130.1 824.1M1150.4 850.7L1172.9 818.2M1107.7 861.8L1132.1 866.8M1105.2 862.8L1082.1 885.8M1105.1 860.4L1080.1 837.2M1107.6 859.7L1130.1 824.1M1222 856.1L1255.1 852.4M1220.5 858.2L1224.9 893M1219.8 854.4L1211.1 818.8M1221.4 854.7L1243.3 824.1M1246.4 861.1L1255.1 852.4M1244.6 861.1L1220.3 851.1M1246.9 860.3L1265 835.3M1246.8 863L1263.7 889.7M1062.1 876.5L1082.1 885.8M1059.5 875.2L1030 858.3M1062 874.1L1080.1 837.2M1192 879.9L1180.1 902.9M1191.9 877.5L1178.8 855M1194.2 879.4L1224.9 893M1194 877.3L1220.3 851.1M1228 878.2L1224.9 893M1227.8 876.1L1220.3 851.1M1229.5 876.1L1255.1 852.4M1229.9 878L1263.7 889.7M1258.3 878.6L1255.1 852.4M1256.7 880.7L1224.9 893M1258.8 877.8L1265 835.3M805.2 900.2L833.9 898.3M803.3 898.2L796.4 858.3M840 900.6L880.7 906.8M837.7 898.1L833.9 856.3M835.7 900.1L793.2 896.3M877.4 900.7L878.4 859.6M875.2 902.7L833.9 898.3M923.2 913.9L930.7 922.6M920.7 913.1L880.7 906.8M923 911.2L927.4 869.5M965 884.6L980 886.4M962.4 883.7L927.4 869.5M1015.1 900.9L1032.6 912.1M1012.5 899.6L980 886.4M1015 898.2L1030 858.3M971.4 932.5L982.6 945M968.8 931.4L930.7 922.6M971.2 929.6L980 886.4M838.9 938.9L833.9 898.3M882.9 950.3L887.9 962.8M882.5 947.5L880.7 906.8M880.5 949.6L839.2 949.6M928.5 965L937.9 983.2M929.3 965.6L953.7 994.3M926 964L887.9 962.8M928.2 962L930.7 922.6M1017.6 953.3L1032.6 972.6M1015.1 951.9L982.6 945M1017.6 950.2L1032.6 912.1M804.2 939L839.2 949.6M801.9 936.3L793.2 896.3M848 987.1L839.2 949.6M850.4 987.8L887.9 962.8M1153.3 892.3L1180.1 902.9M1150.9 890.5L1132.1 866.8M1150.9 893.1L1132.1 920M1153.2 889.9L1178.8 855M1109 905L1132.1 920M1106.5 903.3L1082.1 885.8M1109 902.3L1132.1 866.8M1062.7 926.8L1082.1 943.7M1060.3 925.2L1032.6 912.1M1062.7 923.9L1082.1 885.8M1149.6 937.5L1132.1 920M1151.8 939.4L1176.2 958.8M1152 936.6L1180.1 902.9M1192 925.4L1180.1 902.9M1194.1 927.5L1222.2 944.3M1191.8 928.2L1176.2 958.8M1194.2 924.9L1224.9 893M1231.6 921.8L1222.2 944.3M1231.7 919.3L1224.9 893M1233.7 919.1L1263.7 889.7M1264.9 917.2L1263.7 889.7M1105.2 955.6L1082.1 943.7M1107.5 957.4L1128.2 980.5M1107.7 954.4L1132.1 920M1188.1 974.4L1176.2 958.8M1190.4 973.7L1222.2 944.3M1229.1 963.7L1222.2 944.3" stroke="#e2e2e2" stroke-width="1.6" stroke-linecap="round" fill="none"/>
<circle cx="839.2" cy="868.2" r="11.2" fill="url(#gB)"/>
<circle cx="877.4" cy="869.5" r="11.2" fill="url(#gB)"/>
<circle cx="919.5" cy="869.5" r="11.2" fill="url(#gB)"/>
<circle cx="808.9" cy="872.1" r="11.2" fill="url(#gB)"/>
<circle cx="1061.1" cy="876.1" r="11.2" fill="url(#gB)"/>
<circle cx="1228.2" cy="877.4" r="11.2" fill="url(#gB)"/>
<circle cx="1192.6" cy="878.7" r="11.2" fill="url(#gB)"/>
<circle cx="1258.4" cy="880" r="11.2" fill="url(#gB)"/>
<circle cx="964.2" cy="884.5" r="11.2" fill="url(#gB)"/>
<circle cx="1151.8" cy="891.7" r="11.3" fill="url(#gB)"/>
<circle cx="803.7" cy="900.3" r="11.3" fill="url(#gB)"/>
<circle cx="837.9" cy="900.3" r="11.3" fill="url(#gB)"/>
<circle cx="1014.2" cy="900.3" r="11.3" fill="url(#gB)"/>
<circle cx="877.4" cy="902.9" r="11.3" fill="url(#gB)"/>
<circle cx="1107.8" cy="904.2" r="11.3" fill="url(#gB)"/>
<circle cx="922.8" cy="913.4" r="11.4" fill="url(#gB)"/>
<circle cx="1265" cy="918.7" r="11.4" fill="url(#gB)"/>
<circle cx="1232.1" cy="920.7" r="11.4" fill="url(#gB)"/>
<circle cx="1061.7" cy="925.9" r="11.4" fill="url(#gB)"/>
<circle cx="1192.6" cy="926.6" r="11.4" fill="url(#gB)"/>
<circle cx="970.8" cy="931.8" r="11.5" fill="url(#gB)"/>
<circle cx="802.4" cy="938.4" r="11.5" fill="url(#gB)"/>
<circle cx="1150.5" cy="938.4" r="11.5" fill="url(#gB)"/>
<circle cx="839.2" cy="941.1" r="11.5" fill="url(#gB)"/>
<circle cx="882.6" cy="949.6" r="11.5" fill="url(#gB)"/>
<circle cx="1016.8" cy="952.2" r="11.6" fill="url(#gB)"/>
<circle cx="1106.4" cy="956.2" r="11.6" fill="url(#gB)"/>
<circle cx="928" cy="964.1" r="11.6" fill="url(#gB)"/>
<circle cx="1229.5" cy="964.7" r="11.6" fill="url(#gB)"/>
<circle cx="1188.7" cy="975.3" r="11.7" fill="url(#gB)"/>
<circle cx="848.4" cy="989.1" r="11.7" fill="url(#gB)"/>
<circle cx="1024.7" cy="753.7" r="7.5" fill="url(#gY)"/>
<circle cx="980" cy="760.9" r="7.5" fill="url(#gY)"/>
<circle cx="940.5" cy="762.9" r="7.5" fill="url(#gY)"/>
<circle cx="950.4" cy="762.9" r="7.5" fill="url(#gY)"/>
<circle cx="1027.4" cy="764.9" r="7.6" fill="url(#gY)"/>
<circle cx="1138" cy="769.5" r="7.7" fill="url(#gY)"/>
<circle cx="907" cy="771.4" r="7.8" fill="url(#gY)"/>
<circle cx="1117" cy="772.1" r="7.8" fill="url(#gY)"/>
<circle cx="933.9" cy="774.1" r="7.9" fill="url(#gY)"/>
<circle cx="920.1" cy="774.1" r="7.9" fill="url(#gY)"/>
<circle cx="1073.6" cy="774.7" r="7.9" fill="url(#gY)"/>
<circle cx="978" cy="775.4" r="7.9" fill="url(#gY)"/>
<circle cx="1151.8" cy="776.1" r="7.9" fill="url(#gY)"/>
<circle cx="895.8" cy="778.7" r="8" fill="url(#gY)"/>
<circle cx="1164.3" cy="781.3" r="8.1" fill="url(#gY)"/>
<circle cx="1026.1" cy="783.9" r="8.2" fill="url(#gY)"/>
<circle cx="880" cy="784.6" r="8.2" fill="url(#gY)"/>
<circle cx="1181.4" cy="785.3" r="8.2" fill="url(#gY)"/>
<circle cx="864.2" cy="788.6" r="8.3" fill="url(#gY)"/>
<circle cx="1163.7" cy="791.8" r="8.4" fill="url(#gY)"/>
<circle cx="1123.6" cy="793.2" r="8.5" fill="url(#gY)"/>
<circle cx="929.3" cy="794.5" r="8.5" fill="url(#gY)"/>
<circle cx="886.8" cy="795.1" r="8.5" fill="url(#gY)"/>
<circle cx="1197.9" cy="797.1" r="8.6" fill="url(#gY)"/>
<circle cx="1206.4" cy="798.4" r="8.6" fill="url(#gY)"/>
<circle cx="1078.2" cy="800.4" r="8.7" fill="url(#gY)"/>
<circle cx="850.8" cy="801.1" r="8.7" fill="url(#gY)"/>
<circle cx="977.4" cy="802.4" r="8.7" fill="url(#gY)"/>
<circle cx="837.9" cy="803" r="8.8" fill="url(#gY)"/>
<circle cx="1225.5" cy="807.6" r="8.9" fill="url(#gY)"/>
<circle cx="821.4" cy="810.9" r="9" fill="url(#gY)"/>
<circle cx="1028" cy="815.5" r="9.2" fill="url(#gY)"/>
<circle cx="1172.9" cy="818.2" r="9.2" fill="url(#gY)"/>
<circle cx="1211.1" cy="818.8" r="9.3" fill="url(#gY)"/>
<circle cx="880.7" cy="821.4" r="9.3" fill="url(#gY)"/>
<circle cx="840.5" cy="823.4" r="9.4" fill="url(#gY)"/>
<circle cx="1243.3" cy="824.1" r="9.4" fill="url(#gY)"/>
<circle cx="1130.1" cy="824.1" r="9.4" fill="url(#gY)"/>
<circle cx="927.4" cy="826.7" r="9.5" fill="url(#gY)"/>
<circle cx="807" cy="830.7" r="9.6" fill="url(#gY)"/>
<circle cx="1265" cy="835.3" r="9.6" fill="url(#gY)"/>
<circle cx="1080.1" cy="837.2" r="9.6" fill="url(#gY)"/>
<circle cx="977.4" cy="838.6" r="9.6" fill="url(#gY)"/>
<circle cx="1220.3" cy="851.1" r="9.7" fill="url(#gY)"/>
<circle cx="1255.1" cy="852.4" r="9.7" fill="url(#gY)"/>
<circle cx="1178.8" cy="855" r="9.7" fill="url(#gY)"/>
<circle cx="833.9" cy="856.3" r="9.7" fill="url(#gY)"/>
<circle cx="1030" cy="858.3" r="9.7" fill="url(#gY)"/>
<circle cx="796.4" cy="858.3" r="9.7" fill="url(#gY)"/>
<circle cx="878.4" cy="859.6" r="9.7" fill="url(#gY)"/>
<circle cx="1132.1" cy="866.8" r="9.7" fill="url(#gY)"/>
<circle cx="927.4" cy="869.5" r="9.8" fill="url(#gY)"/>
<circle cx="1082.1" cy="885.8" r="9.8" fill="url(#gY)"/>
<circle cx="980" cy="886.4" r="9.8" fill="url(#gY)"/>
<circle cx="1263.7" cy="889.7" r="9.8" fill="url(#gY)"/>
<circle cx="1224.9" cy="893" r="9.8" fill="url(#gY)"/>
<circle cx="793.2" cy="896.3" r="9.9" fill="url(#gY)"/>
<circle cx="833.9" cy="898.3" r="9.9" fill="url(#gY)"/>
<circle cx="1180.1" cy="902.9" r="9.9" fill="url(#gY)"/>
<circle cx="880.7" cy="906.8" r="9.9" fill="url(#gY)"/>
<circle cx="1032.6" cy="912.1" r="9.9" fill="url(#gY)"/>
<circle cx="1132.1" cy="920" r="10" fill="url(#gY)"/>
<circle cx="930.7" cy="922.6" r="10" fill="url(#gY)"/>
<circle cx="1082.1" cy="943.7" r="10" fill="url(#gY)"/>
<circle cx="1222.2" cy="944.3" r="10.1" fill="url(#gY)"/>
<circle cx="982.6" cy="945" r="10.1" fill="url(#gY)"/>
<circle cx="839.2" cy="949.6" r="10.1" fill="url(#gY)"/>
<circle cx="1176.2" cy="958.8" r="10.1" fill="url(#gY)"/>
<circle cx="887.9" cy="962.8" r="10.1" fill="url(#gY)"/>
<circle cx="1032.6" cy="972.6" r="10.2" fill="url(#gY)"/>
<circle cx="1128.2" cy="980.5" r="10.2" fill="url(#gY)"/>
<circle cx="937.9" cy="983.2" r="10.2" fill="url(#gY)"/>
<circle cx="953.7" cy="994.3" r="10.2" fill="url(#gY)"/>
<circle cx="1017.5" cy="760.3" r="9.8" fill="url(#gR)"/>
<circle cx="1057.1" cy="766.2" r="9.9" fill="url(#gR)"/>
<circle cx="1101.2" cy="768.2" r="10" fill="url(#gR)"/>
<circle cx="960.3" cy="782.6" r="10.6" fill="url(#gR)"/>
<circle cx="1004.3" cy="785.9" r="10.7" fill="url(#gR)"/>
<circle cx="1059.1" cy="797.1" r="11.1" fill="url(#gR)"/>
<circle cx="1098.6" cy="799.1" r="11.2" fill="url(#gR)"/>
<circle cx="969.5" cy="810.9" r="11.7" fill="url(#gR)"/>
<circle cx="1055.1" cy="824.1" r="12.2" fill="url(#gR)"/>
<circle cx="1113.7" cy="830" r="12.4" fill="url(#gR)"/>
<circle cx="1018.2" cy="831.3" r="12.4" fill="url(#gR)"/>
<circle cx="954.3" cy="839.9" r="12.4" fill="url(#gR)"/>
<circle cx="1066.3" cy="856.3" r="12.5" fill="url(#gR)"/>
<circle cx="968.2" cy="871.4" r="12.6" fill="url(#gR)"/>
<circle cx="1009.6" cy="872.1" r="12.6" fill="url(#gR)"/>
<circle cx="1113" cy="874.1" r="12.6" fill="url(#gR)"/>
<circle cx="1059.1" cy="900.9" r="12.8" fill="url(#gR)"/>
<circle cx="1017.5" cy="917.4" r="12.8" fill="url(#gR)"/>
<circle cx="1111.1" cy="922.6" r="12.9" fill="url(#gR)"/>
<circle cx="960.3" cy="923.3" r="12.9" fill="url(#gR)"/>
</g>
<rect x="1084.7" y="842.5" width="64" height="63.7" fill="none" stroke="#595959" stroke-width="4" stroke-dasharray="13 6.6"/>
<path d="M760.2 815.4A178 178 0 0 1 764.3 823.7M768.6 833.8A178 178 0 0 1 771.8 842.4M774.9 852.9A178 178 0 0 1 777.1 861.9M779 872.7A178 178 0 0 1 780.2 881.8M780.9 892.8A178 178 0 0 1 781 902M780.4 913A178 178 0 0 1 779.5 922.1M777.7 933A178 178 0 0 1 775.7 942M772.8 952.6A178 178 0 0 1 769.8 961.3M765.6 971.4A178 178 0 0 1 761.6 979.7" fill="none" stroke="#FF6600" stroke-width="9.4"/>
<path d="M750.3 802L768.9 814L751.9 824.3Z" fill="#FF6600"/>
<path d="M752.3 999.7L753.9 977.7L770.9 987.7Z" fill="#FF6600"/>
<path d="M897.8 1077.2A295 295 0 0 1 907 1072.4M915.9 1068.2A295 295 0 0 1 925.5 1064M934.7 1060.4A295 295 0 0 1 944.5 1056.9M953.9 1053.9A295 295 0 0 1 963.9 1051.1M973.5 1048.7A295 295 0 0 1 983.7 1046.6M993.5 1045A295 295 0 0 1 1003.8 1043.6M1013.6 1042.6A295 295 0 0 1 1024 1041.9M1033.9 1041.5A295 295 0 0 1 1044.3 1041.6M1054.2 1041.9A295 295 0 0 1 1064.6 1042.7M1074.4 1043.7A295 295 0 0 1 1084.7 1045.1M1094.4 1046.9A295 295 0 0 1 1104.6 1049M1114.2 1051.4A295 295 0 0 1 1124.2 1054.2M1133.7 1057.3A295 295 0 0 1 1143.4 1060.8M1152.6 1064.5A295 295 0 0 1 1162.1 1068.7" fill="none" stroke="#33CC33" stroke-width="10.4"/>
<path d="M885.1 1085.6L897.3 1067.9L908.8 1083.8Z" fill="#33CC33"/>
<path d="M1188.5 1084.3L1176.6 1065.6L1166 1082.5Z" fill="#33CC33"/>
<text x="1038.5" y="1124.4" font-size="36.4" text-anchor="middle">x-axis strain</text>
<text transform="translate(700.5,906.4) rotate(90)" font-size="35.6" text-anchor="middle"><tspan font-style="italic">y</tspan>-axis strain</text>
<circle cx="1307.5" cy="1001.1" r="15.4" fill="url(#gLR)"/>
<circle cx="1307.5" cy="1060.1" r="13.4" fill="url(#gLB)"/>
<circle cx="1306.1" cy="1110.5" r="10.8" fill="url(#gLY)"/>
<circle cx="1307.5" cy="1159.9" r="9.5" fill="url(#gLH)"/>
<text x="1343.6" y="1014" font-size="27">Au</text>
<text x="1344.2" y="1070.7" font-size="27">Mo</text>
<text x="1346.6" y="1121.1" font-size="27">Se</text>
<text x="1352.6" y="1168.2" font-size="27">H</text>
<clipPath id="cpG"><circle cx="1544.5" cy="850.5" r="144"/></clipPath>
<g mask="url(#mR)">
<path d="M1479 866.5L1437.5 952M1506 892L1480.8 949.5M1479 866.5L1561.3 928M1613 857L1561.3 928M1615.8 890L1578 932.4M1615.8 890L1613 969.5M1530.5 930L1476.8 1015.7M1530.5 930L1516 977.5M1530.5 930L1602.6 1013.4M1561.3 928L1613 969.5M1561.3 928L1554.8 1031.3M1437.5 952L1516 977.5M1613 969.5L1671.2 938.9M1613 857L1671.2 938.9M1615.8 890L1671.2 938.9" stroke="#9e9e9e" stroke-width="9.2" stroke-linecap="round" fill="none"/><path d="M1479 866.5L1437.5 952M1506 892L1480.8 949.5M1479 866.5L1561.3 928M1613 857L1561.3 928M1615.8 890L1578 932.4M1615.8 890L1613 969.5M1530.5 930L1476.8 1015.7M1530.5 930L1516 977.5M1530.5 930L1602.6 1013.4M1561.3 928L1613 969.5M1561.3 928L1554.8 1031.3M1437.5 952L1516 977.5M1613 969.5L1671.2 938.9M1613 857L1671.2 938.9M1615.8 890L1671.2 938.9" stroke="#c0c0c0" stroke-width="7.2" stroke-linecap="round" fill="none"/><path d="M1479 866.5L1437.5 952M1506 892L1480.8 949.5M1479 866.5L1561.3 928M1613 857L1561.3 928M1615.8 890L1578 932.4M1615.8 890L1613 969.5M1530.5 930L1476.8 1015.7M1530.5 930L1516 977.5M1530.5 930L1602.6 1013.4M1561.3 928L1613 969.5M1561.3 928L1554.8 1031.3M1437.5 952L1516 977.5M1613 969.5L1671.2 938.9M1613 857L1671.2 938.9M1615.8 890L1671.2 938.9" stroke="#d8d8d8" stroke-width="3.9" stroke-linecap="round" fill="none"/>
</g>
<circle cx="1544.5" cy="850.5" r="144" fill="url(#glow)"/>
<g clip-path="url(#cpG)">
<path d="M1479 866.5L1437.5 952M1506 892L1480.8 949.5M1479 866.5L1561.3 928M1613 857L1561.3 928M1615.8 890L1578 932.4M1615.8 890L1613 969.5M1530.5 930L1476.8 1015.7M1530.5 930L1516 977.5M1530.5 930L1602.6 1013.4M1561.3 928L1613 969.5M1561.3 928L1554.8 1031.3M1437.5 952L1516 977.5M1613 969.5L1671.2 938.9M1613 857L1671.2 938.9M1615.8 890L1671.2 938.9" stroke="#cda9ad" stroke-width="9.6" stroke-linecap="round" fill="none"/><path d="M1479 866.5L1437.5 952M1506 892L1480.8 949.5M1479 866.5L1561.3 928M1613 857L1561.3 928M1615.8 890L1578 932.4M1615.8 890L1613 969.5M1530.5 930L1476.8 1015.7M1530.5 930L1516 977.5M1530.5 930L1602.6 1013.4M1561.3 928L1613 969.5M1561.3 928L1554.8 1031.3M1437.5 952L1516 977.5M1613 969.5L1671.2 938.9M1613 857L1671.2 938.9M1615.8 890L1671.2 938.9" stroke="#e0c1c3" stroke-width="7.5" stroke-linecap="round" fill="none"/><path d="M1479 866.5L1437.5 952M1506 892L1480.8 949.5M1479 866.5L1561.3 928M1613 857L1561.3 928M1615.8 890L1578 932.4M1615.8 890L1613 969.5M1530.5 930L1476.8 1015.7M1530.5 930L1516 977.5M1530.5 930L1602.6 1013.4M1561.3 928L1613 969.5M1561.3 928L1554.8 1031.3M1437.5 952L1516 977.5M1613 969.5L1671.2 938.9M1613 857L1671.2 938.9M1615.8 890L1671.2 938.9" stroke="#eed2d2" stroke-width="4" stroke-linecap="round" fill="none"/>
</g>
<circle cx="1578" cy="932.4" r="14" fill="url(#gYt)"/>
<circle cx="1506" cy="892" r="24" fill="url(#gP)"/>
<circle cx="1615.8" cy="890" r="23.5" fill="url(#gP)"/>
<circle cx="1561.3" cy="928" r="24" fill="url(#gP)"/>
<circle cx="1480.8" cy="949.5" r="16.5" fill="url(#gYt)"/>
<circle cx="1516" cy="977.5" r="17" fill="url(#gYt)"/>
<circle cx="1613" cy="969.5" r="17.5" fill="url(#gYt)"/>
<circle cx="1479" cy="866.5" r="23.2" fill="url(#gO)"/>
<circle cx="1613" cy="857" r="23.7" fill="url(#gO)"/>
<circle cx="1530.5" cy="930" r="25.3" fill="url(#gO)"/>
<g mask="url(#mR)">
<path d="M1437.5 952L1456.8 1041.3M1476.8 1015.7L1456.8 1041.3M1476.8 1015.7L1554.8 1031.3M1554.8 1031.3L1602.6 1013.4M1602.6 1013.4L1659.4 1035.7M1659.4 1035.7L1731.8 1027.9M1731.8 1027.9L1761.8 1055.7M1476.8 1015.7L1493.5 1112M1602.6 1013.4L1599.3 1113.6M1731.8 1027.9L1708.4 1124M1731.8 1027.9L1789.6 966M1789.6 966L1711.7 983.2M1789.6 966L1804.1 1013.4M1789.6 966L1749.9 870.9M1749.9 870.9L1671.2 938.9M1671.2 938.9L1711.7 983.2M1728.6 899.2L1711.7 983.2M1728.6 899.2L1754 956.5M1789.6 966L1754 956.5M1671.2 938.9L1659.4 1035.7M1728.6 899.2L1749.9 870.9" stroke="#9e9e9e" stroke-width="9.2" stroke-linecap="round" fill="none"/><path d="M1437.5 952L1456.8 1041.3M1476.8 1015.7L1456.8 1041.3M1476.8 1015.7L1554.8 1031.3M1554.8 1031.3L1602.6 1013.4M1602.6 1013.4L1659.4 1035.7M1659.4 1035.7L1731.8 1027.9M1731.8 1027.9L1761.8 1055.7M1476.8 1015.7L1493.5 1112M1602.6 1013.4L1599.3 1113.6M1731.8 1027.9L1708.4 1124M1731.8 1027.9L1789.6 966M1789.6 966L1711.7 983.2M1789.6 966L1804.1 1013.4M1789.6 966L1749.9 870.9M1749.9 870.9L1671.2 938.9M1671.2 938.9L1711.7 983.2M1728.6 899.2L1711.7 983.2M1728.6 899.2L1754 956.5M1789.6 966L1754 956.5M1671.2 938.9L1659.4 1035.7M1728.6 899.2L1749.9 870.9" stroke="#c0c0c0" stroke-width="7.2" stroke-linecap="round" fill="none"/><path d="M1437.5 952L1456.8 1041.3M1476.8 1015.7L1456.8 1041.3M1476.8 1015.7L1554.8 1031.3M1554.8 1031.3L1602.6 1013.4M1602.6 1013.4L1659.4 1035.7M1659.4 1035.7L1731.8 1027.9M1731.8 1027.9L1761.8 1055.7M1476.8 1015.7L1493.5 1112M1602.6 1013.4L1599.3 1113.6M1731.8 1027.9L1708.4 1124M1731.8 1027.9L1789.6 966M1789.6 966L1711.7 983.2M1789.6 966L1804.1 1013.4M1789.6 966L1749.9 870.9M1749.9 870.9L1671.2 938.9M1671.2 938.9L1711.7 983.2M1728.6 899.2L1711.7 983.2M1728.6 899.2L1754 956.5M1789.6 966L1754 956.5M1671.2 938.9L1659.4 1035.7M1728.6 899.2L1749.9 870.9" stroke="#d8d8d8" stroke-width="3.9" stroke-linecap="round" fill="none"/>
<circle cx="1456.8" cy="1041.3" r="18" fill="url(#gY)"/>
<circle cx="1754" cy="956.5" r="15.5" fill="url(#gY)"/>
<circle cx="1711.7" cy="983.2" r="18.5" fill="url(#gY)"/>
<circle cx="1804.1" cy="1013.4" r="18" fill="url(#gY)"/>
<circle cx="1493.5" cy="1112" r="19" fill="url(#gY)"/>
<circle cx="1708.4" cy="1124" r="19" fill="url(#gY)"/>
<circle cx="1599.3" cy="1113.6" r="19.5" fill="url(#gY)"/>
<circle cx="1554.8" cy="1031.3" r="19" fill="url(#gY)"/>
<circle cx="1659.4" cy="1035.7" r="19" fill="url(#gY)"/>
<circle cx="1761.8" cy="1055.7" r="19" fill="url(#gY)"/>
</g>
<circle cx="1728.6" cy="899.2" r="24" fill="url(#gB)"/>
<circle cx="1437.5" cy="952" r="25" fill="url(#gB)"/>
<circle cx="1671.2" cy="938.9" r="27" fill="url(#gB)"/>
<circle cx="1789.6" cy="966" r="27.5" fill="url(#gB)"/>
<circle cx="1749.9" cy="870.9" r="24" fill="url(#gY)"/>
<circle cx="1476.8" cy="1015.7" r="27.8" fill="url(#gB)"/>
<circle cx="1602.6" cy="1013.4" r="29" fill="url(#gB)"/>
<circle cx="1731.8" cy="1027.9" r="29" fill="url(#gB)"/>
<path d="M1397 742Q1416 757 1442 766L1446 753L1478 788.5L1432 802L1435 788Q1403 778 1384 748Z" fill="#c1c1c1" fill-opacity="0.95"/>
<path d="M1600.5 796.3C1622 790 1645 775 1663.4 751.3L1652.4 743.5L1697 724.9L1693.7 772.9L1682 764.9C1665 788 1640 806 1600.5 796.3Z" fill="#c1c1c1" fill-opacity="0.95"/>
<circle cx="1544.5" cy="828.7" r="33.6" fill="url(#gAu)"/>
<circle cx="1384" cy="734" r="16" fill="url(#gH)"/>
<circle cx="1497.6" cy="766" r="16" fill="url(#gH)"/>
<circle cx="1543.7" cy="790" r="15.9" fill="url(#gH)"/>
<circle cx="1429.9" cy="826.8" r="15.9" fill="url(#gH)"/>
<circle cx="1465.5" cy="847.8" r="15.9" fill="url(#gH)"/>
<circle cx="1619.4" cy="838.5" r="15.9" fill="url(#gH)"/>
<circle cx="1532.3" cy="913.1" r="15.9" fill="url(#gH)"/>
<circle cx="1752.8" cy="700.4" r="19.2" fill="url(#gH)"/>
<circle cx="1716.5" cy="709.1" r="19.2" fill="url(#gH)"/>
<text x="1533.4" y="691.3" font-size="36.3" text-anchor="middle">Hotspot</text>
<rect x="1888.3" y="793" width="24.1" height="246.2" fill="url(#bar)"/>
<text x="1910.2" y="759.4" font-size="36.3" text-anchor="middle">High</text>
<text x="1912" y="1093.4" font-size="36.5" text-anchor="middle">Low</text>
<text transform="translate(1951.6,919.6) rotate(-90)" font-size="36.3" text-anchor="middle">HER activity</text>
</g>
<g id="panel-a">
<rect x="123.5" y="122" width="43.8" height="376.3" fill="#dbe8fc"/>
<rect x="219" y="67" width="149.8" height="431.3" fill="#f2f2f2"/>
<polyline points="73.2,182 73.8,179.6 74.3,178.5 74.8,175.6 75.4,177.6 75.9,178 76.5,177.8 77,178.9 77.6,179.4 78.1,177.6 78.7,177.3 79.2,177.7 79.8,179.3 80.3,179.7 80.9,177.4 81.4,176.9 82,179.1 82.5,180.9 83.1,179.5 83.6,178.2 84.2,180 84.7,178.8 85.3,179.7 85.8,181.1 86.4,180.4 86.9,179.5 87.5,180 88,178.4 88.6,178.4 89.1,177.9 89.7,178.2 90.2,178 90.8,178.3 91.3,178.1 91.9,178.7 92.4,178.8 93,179.2 93.5,180.7 94.1,177.5 94.6,180 95.2,178.9 95.7,177.3 96.3,178 96.8,178.7 97.4,180.1 97.9,177.9 98.5,178.8 99,178.9 99.6,176.7 100.1,176.6 100.7,178.8 101.2,179.7 101.8,180.5 102.3,180.1 102.9,179.7 103.4,179.3 104,180.5 104.5,178.3 105.1,178.4 105.6,179.1 106.2,176.9 106.7,179.7 107.3,178.1 107.8,178.4 108.4,181.3 108.9,178.5 109.5,177.9 110,180.3 110.6,177.8 111.1,177.7 111.7,178.8 112.2,179.1 112.8,179.4 113.3,179.1 113.9,180.2 114.4,180.2 115,179.6 115.5,177.7 116.1,176.9 116.6,175.1 117.2,177.7 117.7,175.4 118.3,177.9 118.8,180 119.4,176.9 119.9,176.3 120.5,176.2 121,177.8 121.6,176.1 122.1,176.4 122.7,175.9 123.2,176 123.8,177.9 124.3,175.4 124.9,175.5 125.4,175.2 126,175.3 126.5,172 127.1,173.3 127.6,172.2 128.2,171.9 128.7,170.2 129.3,166.7 129.8,165.9 130.4,166.9 130.9,165.9 131.5,165.5 132,168.2 132.6,169.9 133.1,168.9 133.7,171.7 134.2,168.4 134.8,167.6 135.3,171.3 135.9,171.5 136.4,173 137,173.7 137.5,173.5 138.1,174.6 138.6,174.6 139.2,172.6 139.7,174.3 140.3,174.9 140.8,177.2 141.4,174.2 141.9,174.5 142.5,173.9 143,174 143.6,176.1 144.1,175 144.7,173.4 145.2,173.4 145.8,174 146.3,171.8 146.9,171.8 147.4,173.9 148,173.7 148.5,172.3 149.1,171.1 149.6,171 150.2,167.9 150.7,171.3 151.3,171.5 151.8,170.8 152.4,168.6 152.9,168.5 153.5,169.9 154,170 154.6,169.1 155.1,170 155.7,170.9 156.2,169.2 156.8,168.9 157.3,168.6 157.9,168.2 158.4,170.8 159,171.5 159.5,171.7 160.1,170 160.6,169.6 161.2,170.8 161.7,170.9 162.3,171.6 162.8,170.9 163.4,172.5 163.9,174.5 164.5,175 165,175.2 165.6,173.4 166.1,173.9 166.7,172.4 167.2,173.4 167.8,172.1 168.3,171.3 168.9,170.6 169.4,176.7 170,195.5 170.5,179.4 171.1,168.9 171.6,169.6 172.2,166.6 172.7,170.4 173.3,169.2 173.8,169 174.4,168.5 174.9,166.3 175.5,165.7 176,167 176.6,169.3 177.1,166.7 177.7,166.2 178.2,166.8 178.8,164.8 179.3,164 179.9,165.2 180.4,166 181,165.8 181.5,168 182.1,166.6 182.6,166.6 183.2,168.1 183.7,168.7 184.3,164.6 184.8,164.6 185.4,166.5 185.9,163.8 186.5,163.4 187,162.6 187.6,162.2 188.1,162.2 188.7,163.8 189.2,165.6 189.8,166.5 190.3,164.7 190.9,161.5 191.4,162.6 192,162.6 192.5,163.3 193.1,162.8 193.6,160.4 194.2,162.2 194.7,159.6 195.3,160.3 195.8,161.7 196.4,162.1 196.9,163.6 197.5,159.1 198,160.7 198.6,161.6 199.1,160.5 199.7,161.2 200.2,159.1 200.8,160.5 201.3,160.6 201.9,158.6 202.4,158.2 203,158.4 203.5,157.8 204.1,159.6 204.6,159.2 205.2,160 205.7,160 206.3,158.4 206.8,157.4 207.4,155.9 207.9,155.4 208.5,155 209,156.2 209.6,154.8 210.1,155.4 210.7,155.6 211.2,154.5 211.8,154.4 212.3,156.2 212.9,156.8 213.4,153.8 214,153.3 214.5,152.7 215.1,152.3 215.6,154.3 216.2,153.7 216.7,154 217.3,154.5 217.8,151.6 218.4,150.6 218.9,150.3 219.5,151.2 220,149.8 220.6,150 221.1,150.5 221.7,150.3 222.2,149 222.8,146.7 223.3,144.5 223.9,146.8 224.4,146.4 225,144 225.5,143.3 226.1,142.7 226.6,139.7 227.2,141.7 227.7,140.4 228.3,140.1 228.8,140.9 229.4,139.6 229.9,139.6 230.5,138.9 231,137.8 231.6,137 232.1,138.6 232.7,136.2 233.2,137.3 233.8,134 234.3,134.6 234.9,133.7 235.4,131.9 236,128.8 236.5,132.2 237.1,129.7 237.6,128.6 238.2,129.3 238.7,129.1 239.3,129 239.8,128 240.4,125.8 240.9,127.7 241.5,126 242,126.6 242.6,127.1 243.1,127.9 243.7,126.3 244.2,125.4 244.8,125.1 245.3,122.8 245.9,122.4 246.4,123 247,122.7 247.5,124.1 248.1,124 248.6,126.4 249.2,127 249.7,123 250.3,124.2 250.8,123.2 251.4,125 251.9,125.2 252.5,126.4 253,126.1 253.6,126.8 254.1,125.9 254.7,122.9 255.2,123.8 255.8,124.7 256.3,125.7 256.9,125.6 257.4,129.2 258,128.4 258.5,130.2 259.1,129 259.6,131.4 260.2,128.9 260.7,130.8 261.3,129.5 261.8,131.9 262.4,134.7 262.9,131.6 263.5,132.9 264,135.2 264.6,135.8 265.1,135.2 265.7,138.6 266.2,138.7 266.8,140.6 267.3,140.3 267.9,138.6 268.4,139.1 269,141.9 269.5,139.6 270.1,140.2 270.6,142 271.2,143.4 271.7,143.8 272.3,141.2 272.8,145 273.4,143.7 273.9,143.6 274.5,143.8 275,143.7 275.6,142.9 276.1,143.6 276.7,146.1 277.2,143.1 277.8,142 278.3,145 278.9,146 279.4,147.1 280,148.9 280.5,146.5 281.1,147.2 281.6,147.8 282.2,149.2 282.7,149.6 283.3,147.6 283.8,146.4 284.4,147.6 284.9,146.6 285.5,149.9 286,149.4 286.6,149.5 287.1,149.2 287.7,152.4 288.2,152.2 288.8,151.5 289.3,152.8 289.9,152.7 290.4,153.7 291,155.3 291.5,154 292.1,154.8 292.6,155.2 293.2,156.4 293.7,156.3 294.3,155.7 294.8,154.8 295.4,155.7 295.9,154.5 296.5,156.2 297,156.1 297.6,156.7 298.1,155.5 298.7,154.7 299.2,154.3 299.8,156.6 300.3,155.7 300.9,155.2 301.4,153.2 302,154.5 302.5,152.1 303.1,155.3 303.6,154.8 304.2,154.9 304.7,152.9 305.3,152.6 305.8,154.5 306.4,154 306.9,154.6 307.5,155.7 308,155.2 308.6,151.7 309.1,151.4 309.7,151 310.2,151.1 310.8,149.5 311.3,149.3 311.9,150 312.4,150.4 313,151.8 313.5,150.7 314.1,152.5 314.6,148.7 315.2,147.5 315.7,148.9 316.3,148.4 316.8,147 317.4,148.4 317.9,148.9 318.5,149.1 319,146.6 319.6,146 320.1,145.8 320.7,145.2 321.2,146 321.8,144.2 322.3,144.4 322.9,141 323.4,143.3 324,145.1 324.5,143.4 325.1,144.7 325.6,140.5 326.2,140.8 326.7,139.2 327.3,140.8 327.8,141.5 328.4,139.1 328.9,138.8 329.5,138.9 330,142.6 330.6,140.6 331.1,139.9 331.7,139.9 332.2,139.6 332.8,138.7 333.3,136.8 333.9,136.9 334.4,139.8 335,139.1 335.5,138 336.1,136.5 336.6,137.6 337.2,138.2 337.7,137.7 338.3,139.6 338.8,138.5 339.4,138.8 339.9,140.4 340.5,140.3 341,141.7 341.6,140.7 342.1,140.6 342.7,142.3 343.2,143.2 343.8,145.4 344.3,145.9 344.9,146.2 345.4,147.6 346,149.2 346.5,148 347.1,150.6 347.6,152.1 348.2,155.7 348.7,155.9 349.3,159 349.8,158.2 350.4,160.4 350.9,163.5 351.5,163.7 352,166.2 352.6,163.5 353.1,165.6 353.7,167 354.2,167.6 354.8,166.4 355.3,169.2 355.9,166.7 356.4,170.4 357,171.1 357.5,172.6 358.1,171.8 358.6,170.7 359.2,171.3 359.7,171.9 360.3,173.6 360.8,173.3 361.4,174.3 361.9,175 362.5,176.6 363,173 363.6,174 364.1,175.9 364.7,176.7 365.2,175.6 365.8,175.8 366.3,176.2 366.9,176.7 367.4,176.2 368,176 368.5,175.4 369.1,176.2 369.6,178.8 370.2,176.8 370.7,178.6 371.3,180.5 371.8,179 372.4,181.1 372.9,179 373.5,180.5 374,178.9 374.6,177 375.1,178.3 375.7,180.8 376.2,178.5 376.8,179.2 377.3,177.5 377.9,177.2 378.4,178.8 379,178.6 379.5,179.5 380.1,180.7 380.6,178.1 381.2,177.8 381.7,178.7 382.3,181.9 382.8,179.7 383.4,178.7 383.9,179.6 384.5,182.3 385,179.4 385.6,178.9 386.1,179.2 386.7,180.2 387.2,182.3 387.8,178.7 388.3,176.9 388.9,178.6 389.4,179.7 390,176.6 390.5,177.5 391.1,179.8 391.6,178.8 392.2,179.7 392.7,179.6 393.3,180.2 393.8,180.1 394.4,179.9 394.9,181 395.5,179.1 396,179.3 396.6,180.7 397.1,179 397.7,178.7 398.2,178.1 398.8,177.6 399.3,181.2 399.9,180.5 400.4,182 401,181.1 401.5,180 402.1,179.2 402.6,179.5 403.2,179.3 403.7,180.4 404.3,178.5 404.8,179.2 405.4,179.8 405.9,179.1 406.5,178.9 407,179.8 407.6,180.7 408.1,179.4 408.7,179.3 409.2,178.6 409.8,179.7 410.3,179.3 410.9,177.3 411.4,178.2 412,179.7 412.5,179.8 413.1,178.3 413.6,179.9 414.2,180.3 414.7,180.4 415.3,181.6 415.8,179.7 416.4,180.2 416.9,179.4 417.5,180.6 418,181.3 418.6,180.6 419.1,180.8 419.7,178.8 420.2,180 420.8,178.1 421.3,181.7 421.9,181.7 422.4,178.3 423,176.1 423.5,179.7 424.1,178.5 424.6,179.8 425.2,177.9 425.7,179 426.3,178.5 426.8,179.9 427.4,179.2 427.9,181.3 428.5,179.2 429,181 429.6,180 430.1,180.4 430.7,177.8 431.2,176.7 431.8,179.9 432.3,178.1 432.9,178.7 433.4,178.9 434,178.2 434.5,179.4 435.1,177.8 435.6,177.5 436.2,180.1 436.7,178.8 437.3,180.3 437.8,180.8 438.4,182 438.9,181.1 439.5,177.9 440,178.3 440.6,178.8 441.1,181 441.7,180.7 442.2,179.5 442.8,180.3 443.3,179.6 443.9,180.5 444.4,180.3 445,181.4 445.5,180.9 446.1,181.5 446.6,180.5 447.2,181 447.7,180.2 448.3,180.9 448.8,180.6 449.4,180.1 449.9,179.5 450.5,179.5 451,180.5 451.6,176.8 452.1,180.7 452.7,177.3 453.2,178.9 453.8,179.2 454.3,180.7 454.9,180.6 455.4,180.3 456,180.3 456.5,181.4 457.1,183.4 457.6,181.8 458.2,178.1 458.7,178.9 459.3,180.3 459.8,183.4 460.4,180.7 460.9,179.9 461.5,181.1 462,180.9 462.6,178.8 463.1,180.9 463.7,178.8 464.2,179.4 464.8,181.7 465.3,179.1 465.9,179.4 466.4,182.1 467,180.6 467.5,179.1 468.1,179.1 468.6,181 469.2,178.6 469.7,178.9 470.3,178 470.8,178.1 471.4,181.2 471.9,180.6 472.5,179.9 473,180.8 473.6,179.6 474.1,178.6 474.7,181.2 475.2,181.8 475.8,179.8 476.3,181.1 476.9,182.5 477.4,181.8 478,181.6 478.5,179.3 479.1,179.9 479.6,177.9 480.2,181 480.7,180.5 481.3,182.2 481.8,180.1 482.4,181.5 482.9,178.9 483.5,179.4 484,180.9 484.6,181.1 485.1,180.7 485.7,178.5 486.2,181.5 486.8,181.8 487.3,182.5 487.9,182.7 488.4,180.9 489,181.2 489.5,183.9 490.1,180.8 490.6,181.2 491.2,180.1 491.7,182.7 492.3,181.6 492.8,179.7 493.4,179.5 493.9,178.5 494.5,177.4 495,177.5 495.6,178.1 496.1,178.3 496.7,180.1 497.2,179.4 497.8,180.6 498.3,182.9 498.9,180 499.4,178.9 500,181.4 500.5,184 501.1,180.8 501.6,178.6 502.2,179.6 502.7,179.9 503.3,181.4 503.8,179.6 504.4,180 504.9,180.1 505.5,178.5 506,178 506.6,180.4 507.1,181.4 507.7,180 508.2,182.5 508.8,182.6 509.3,182.1 509.9,182 510.4,181.7 511,182.1 511.5,182.4 512.1,181.5 512.6,178.4 513.2,179.8 513.7,179.4 514.3,178.8 514.8,180.9 515.4,178.6 515.9,181.1 516.5,180.1 517,179 517.6,179.1 518.1,183.3 518.7,183.6 519.2,181.5 519.8,182.5 520.3,183.7 520.9,180.7 521.4,180.5 522,182.4 522.5,181.8 523.1,180.7 523.6,182.9 524.2,182.3 524.7,182.4 525.3,184.1 525.8,182.8 526.4,184.1 526.9,182.7 527.5,181.3 528,181.2 528.6,182.1 529.1,182.2 529.7,181.8 530.2,179.3 530.8,178.9 531.3,179.8 531.9,181.4 532.4,182.9 533,178.4 533.5,179.8 534.1,179.9 534.6,180.3 535.2,180.9 535.7,179.7 536.3,178.7 536.8,181.4 537.4,182.5 537.9,180.6 538.5,180.5 539,179.8 539.6,178.6 540.1,180.8 540.7,179.9 541.2,178.9 541.8,179.3 542.3,182.3 542.9,181.8 543.4,181.4 544,181 544.5,181.9 545.1,182 545.6,179.4 546.2,179.8 546.7,179.5 547.3,180.4 547.8,180.4 548.4,177.9 548.9,181.1 549.5,181 550,178.4 550.6,181.2 551.1,180.9 551.7,181.2 552.2,180.7 552.8,180.8 553.3,179.5 553.9,178 554.4,178.7 555,180 555.5,180.2 556.1,181.1 556.6,180.4 557.2,177.4 557.7,180.1 558.3,179.1 558.8,178 559.4,179 559.9,177.9 560.5,179.6 561,178.7 561.6,182.1 562.1,180.4 562.7,179.4 563.2,178.9 563.8,176.8 564.3,177.7 564.9,178.1 565.4,178.8 566,176.7 566.5,178.7 567.1,181.1 567.6,179.7 568.2,179.7 568.7,180.3 569.3,178.9 569.8,178.8 570.4,180.6 570.9,180.2 571.5,178.3 572,176.8 572.6,181.6 573.1,180.9 573.7,178 574.2,179.2 574.8,180.3 575.3,180 575.9,177.2 576.4,181.1 577,180.8 577.5,179.7 578.1,180.4 578.6,179.5 579.2,179 579.7,180.4 580.3,177.2 580.8,179.9 581.4,180 581.9,180.5 582.5,180.9 583,181.9 583.6,182 584.1,181.4 584.7,179.5 585.2,180.2 585.8,178.9 586.3,177.8 586.9,179.3 587.4,179.6 588,180.8 588.5,176.9 589.1,179.1 589.6,179.9 590.2,179.5 590.7,181.1 591.3,178.6 591.8,179.3 592.4,178.6 592.9,178.8 593.5,177.6 594,178.3 594.6,179.5 595.1,179.2 595.7,179.4 596.2,178 596.8,180.6 597.3,178.5 597.9,178.7 598.4,179.5 599,178.7 599.5,179.7 600.1,179.3 600.6,181.1 601.2,180.2 601.7,179.7 602.3,177.9 602.8,178.9 603.4,180 603.9,179.5 604.5,177.7 605,177.5 605.6,177.8 606.1,178.2 606.7,176.5 607.2,180.1 607.8,178.8 608.3,178.6 608.9,177.8 609.4,177.9 610,180.6 610.5,177.8 611.1,177.3 611.6,176.5 612.2,176.8 612.7,179.6 613.3,177.8 613.8,177.3 614.4,175.4 614.9,176.6 615.5,177.7 616,177.2 616.6,177.1 617.1,178.6 617.7,178.7 618.2,178 618.8,176.8 619.3,175.4 619.9,179 620.4,176.1 621,177.9 621.5,177.4 622.1,176.6 622.6,178.3 623.2,176.8 623.7,178.8 624.3,176.6 624.8,177.7 625.4,179.1 625.9,176.7 626.5,179.8 627,179.2 627.6,175.1 628.1,178.2 628.7,180 629.2,178.1 629.8,177.1 630.3,177.6 630.9,174.8 631.4,176.4 632,178 632.5,176.6 633.1,178.9 633.6,180.1 634.2,174.9 634.7,174 635.3,174.9 635.8,177 636.4,177.3 636.9,175.7 637.5,174.9 638,175.1 638.6,178.2 639.1,175.9 639.7,175.6 640.2,177.4 640.8,176.5 641.3,175.2 641.9,177.8 642.4,177.3 643,175.8 643.5,175.7 644.1,177.3 644.6,176.2 645.2,176.6 645.7,177.5 646.3,177.9 646.8,174.5 647.4,175 647.9,175.3 648.5,176 649,177 649.6,177.9 650.1,176.1 650.7,174.7 651.2,175.8 651.8,175.2 652.3,177.9 652.9,177.1 653.4,176.4 654,177.3 654.5,175.5 655.1,175.3 655.6,175.4 656.2,176.5 656.7,177.7 657.3,177.4 657.8,177.3 658.4,175.9 658.9,176.2 659.5,175.5 660,177 660.6,175.3 661.1,175.3 661.7,175.7 662.2,176.5 662.8,174.9 663.3,174.9 663.9,173.6 664.4,173.2 665,175.9 665.5,176.1 666.1,173.6 666.6,173.4 667.2,175.2 667.7,174.4 668.3,173.5 668.8,176.1 669.4,174.8 669.9,174.5 670.5,175.5 671,174.2 671.6,174.7 672.1,175 672.7,175.9 673.2,174.2 673.8,176 674.3,175.6 674.9,177.3 675.4,175.9 676,174.4 676.5,173.9 677.1,172.9 677.6,174 678.2,174.3 678.7,175.6 679.3,175 679.8,173.6 680.4,175.5 680.9,174.3 681.5,174.8 682,176.4 682.6,176.8 683.1,174.3 683.7,174.2 684.2,176 684.8,176.2 685.3,175.7 685.9,176 686.4,171.1 687,173.2 687.5,171.1 688.1,172.7 688.6,173.3 689.2,174.5 689.7,175.9 690.3,175.8 690.8,175.2 691.4,174.1 691.9,175.9 692.5,175.6 693,172.4 693.6,173.6 694.1,174.7 694.7,173.2 695.2,174.3 695.8,176.3 696.3,174.7 696.9,174.5 697.4,174.4 698,173.2 698.5,173.5 699.1,172.9 699.6,173.6 700.2,173.3 700.7,175.4 701.3,174.8 701.8,175.9 702.4,173.5 702.9,174.3 703.5,175.4 704,176 704.6,174.5 705.1,174.7 705.7,175 706.2,174.6 706.8,174.4 707.3,175.5 707.9,173.8 708.4,172.4 709,173.6 709.5,175 710.1,172.3 710.6,176.3 711.2,175.7 711.7,176.2 712.3,174.6 712.8,175.1 713.4,177.6 713.9,178.6 714.5,177.4 715,175.8 715.6,175.5 716.1,177.2 716.7,175.2 717.2,174.3 717.8,174.9 718.3,176.5 718.9,174 719.4,175.7 720,176.1 720.5,176 721.1,175.6 721.6,176.8 722.2,176.8 722.7,174.2 723.3,177.3 723.8,176.8 724.4,176.5 724.9,175.6 725.5,175.3 726,172.7 726.6,174.3 727.1,176 727.7,176.6 728.2,175.2 728.8,172.8" fill="none" stroke="#FF9412" stroke-width="2.1" stroke-linejoin="round" style="mix-blend-mode:multiply"/>
<polyline points="73.2,239.6 73.8,236.4 74.3,237.9 74.8,233 75.4,238.1 75.9,233.5 76.5,236.2 77,236.7 77.6,235 78.1,244.6 78.7,238.4 79.2,239.1 79.8,242.9 80.3,235.4 80.9,240.5 81.4,238.2 82,240.5 82.5,235.9 83.1,234 83.6,239.5 84.2,239.5 84.7,239 85.3,239.5 85.8,239.5 86.4,234.8 86.9,230.2 87.5,230 88,230 88.6,229.9 89.1,232.2 89.7,233.9 90.2,235.8 90.8,237.2 91.3,236 91.9,235.9 92.4,236.8 93,234.1 93.5,233.9 94.1,235.9 94.6,234.6 95.2,234.4 95.7,235.6 96.3,240 96.8,238.7 97.4,236.4 97.9,234.9 98.5,235.6 99,242.4 99.6,229.8 100.1,235.6 100.7,236.7 101.2,238.9 101.8,234 102.3,241.3 102.9,240.8 103.4,237.6 104,237.1 104.5,234.4 105.1,235.6 105.6,235.4 106.2,238.4 106.7,237.7 107.3,236.3 107.8,237.8 108.4,238 108.9,237.1 109.5,231.9 110,237.9 110.6,232.8 111.1,231.7 111.7,233.8 112.2,236.2 112.8,239.5 113.3,232 113.9,238.1 114.4,240.6 115,235.6 115.5,234.5 116.1,233.1 116.6,232.4 117.2,230.1 117.7,228.2 118.3,231.7 118.8,234.1 119.4,239.2 119.9,233.1 120.5,227.8 121,232.1 121.6,231.9 122.1,234 122.7,232.5 123.2,229.6 123.8,230 124.3,234.2 124.9,234 125.4,230.3 126,233.9 126.5,228.4 127.1,228.8 127.6,230.7 128.2,226.8 128.7,225.7 129.3,228.4 129.8,228.9 130.4,228.5 130.9,227.3 131.5,225.4 132,225.5 132.6,236.2 133.1,229.9 133.7,233.8 134.2,229.5 134.8,233.8 135.3,235.2 135.9,233.8 136.4,230.7 137,227.9 137.5,233.8 138.1,230 138.6,229 139.2,236.7 139.7,239.6 140.3,236.9 140.8,235.3 141.4,233.8 141.9,236.1 142.5,234.7 143,231.2 143.6,232 144.1,234.8 144.7,230.5 145.2,230.3 145.8,233 146.3,240 146.9,235 147.4,233.3 148,237.5 148.5,230.3 149.1,228.4 149.6,231.8 150.2,233.4 150.7,231.8 151.3,222.4 151.8,228.1 152.4,229.5 152.9,228 153.5,229 154,231.2 154.6,228.3 155.1,224.6 155.7,221.1 156.2,225.4 156.8,225.1 157.3,225.8 157.9,224.9 158.4,228.8 159,231.9 159.5,232.5 160.1,228.6 160.6,233.1 161.2,233.5 161.7,226.2 162.3,232.2 162.8,227.8 163.4,228.9 163.9,235.7 164.5,237.2 165,234.4 165.6,232.9 166.1,235.8 166.7,230.9 167.2,235.3 167.8,234.9 168.3,237.6 168.9,236.1 169.4,236.4 170,252.4 170.5,240.7 171.1,231.6 171.6,231.2 172.2,231.4 172.7,234.5 173.3,237.5 173.8,236.6 174.4,232.7 174.9,233.7 175.5,236.7 176,239.2 176.6,234.4 177.1,236.2 177.7,234.9 178.2,229.6 178.8,230.1 179.3,232.3 179.9,233.2 180.4,233.9 181,233.5 181.5,236 182.1,233.2 182.6,230.4 183.2,235.2 183.7,233.7 184.3,237.7 184.8,233.5 185.4,238.2 185.9,231.4 186.5,230.6 187,235.1 187.6,239.5 188.1,233.8 188.7,238.3 189.2,239.5 189.8,237.8 190.3,234.3 190.9,227.4 191.4,225.8 192,228.3 192.5,232.4 193.1,231.7 193.6,230.1 194.2,231.4 194.7,226.9 195.3,230.6 195.8,228.5 196.4,233.7 196.9,232.3 197.5,229.2 198,228.6 198.6,225.3 199.1,229 199.7,227 200.2,228.7 200.8,232.6 201.3,231.7 201.9,232.7 202.4,236.8 203,234.2 203.5,234.1 204.1,230.2 204.6,226.2 205.2,228.6 205.7,225.6 206.3,221.6 206.8,227 207.4,228.9 207.9,225.6 208.5,231 209,228.9 209.6,227.1 210.1,225 210.7,230 211.2,227.3 211.8,226.1 212.3,225.7 212.9,224.6 213.4,221.6 214,223.1 214.5,223.1 215.1,227.4 215.6,223.3 216.2,227.2 216.7,225.2 217.3,223.5 217.8,224.6 218.4,225.5 218.9,225.9 219.5,227.2 220,226.5 220.6,221.2 221.1,221.6 221.7,228.1 222.2,225.3 222.8,218 223.3,222.1 223.9,227.6 224.4,227.8 225,224.5 225.5,223.5 226.1,224.1 226.6,221.7 227.2,219.7 227.7,224.5 228.3,220.2 228.8,222.3 229.4,213.8 229.9,215 230.5,213.4 231,216.9 231.6,214.9 232.1,212.6 232.7,212.4 233.2,214.5 233.8,217.3 234.3,213.6 234.9,215.4 235.4,214.1 236,210.9 236.5,213.3 237.1,218.2 237.6,206.1 238.2,211.4 238.7,216 239.3,211.9 239.8,212.8 240.4,213.5 240.9,212.2 241.5,210.7 242,215 242.6,213 243.1,210.3 243.7,210.5 244.2,206.1 244.8,206.6 245.3,207.5 245.9,207.4 246.4,205.6 247,210.4 247.5,209.5 248.1,210.3 248.6,204.9 249.2,205.2 249.7,204.8 250.3,206.1 250.8,211.7 251.4,214.8 251.9,211.1 252.5,209.9 253,207.9 253.6,206.3 254.1,209.7 254.7,207.3 255.2,204.7 255.8,208.5 256.3,207.7 256.9,208.9 257.4,209.5 258,211.8 258.5,212 259.1,213.3 259.6,211.3 260.2,211.1 260.7,212.8 261.3,213.6 261.8,215 262.4,215.6 262.9,221.3 263.5,217.3 264,218.2 264.6,218.6 265.1,221.6 265.7,217.4 266.2,215 266.8,221.1 267.3,222.3 267.9,221.4 268.4,218.7 269,223.7 269.5,223.4 270.1,220.7 270.6,220.3 271.2,219.9 271.7,225.7 272.3,223.6 272.8,220.8 273.4,221.2 273.9,226.4 274.5,227 275,223.8 275.6,221.6 276.1,222.6 276.7,225.6 277.2,224.9 277.8,224.4 278.3,226.1 278.9,225.2 279.4,223.6 280,222.4 280.5,223.4 281.1,224.5 281.6,227.7 282.2,228.5 282.7,226.4 283.3,231.1 283.8,226.5 284.4,231 284.9,226.8 285.5,227.7 286,231.4 286.6,234.3 287.1,228.7 287.7,229.8 288.2,227.1 288.8,228.8 289.3,231.2 289.9,229.5 290.4,234.6 291,233.7 291.5,234 292.1,230.8 292.6,230.9 293.2,232.2 293.7,234.3 294.3,234.7 294.8,231.8 295.4,228.5 295.9,228 296.5,236.7 297,237 297.6,238 298.1,234 298.7,238.6 299.2,236 299.8,234.4 300.3,231.7 300.9,228.3 301.4,232.9 302,232.8 302.5,232.6 303.1,228.8 303.6,225.6 304.2,227 304.7,232.9 305.3,237.8 305.8,232.5 306.4,231.4 306.9,227.6 307.5,227.8 308,231.5 308.6,229.8 309.1,231.5 309.7,235.2 310.2,232.6 310.8,228.9 311.3,235.4 311.9,234.7 312.4,233.3 313,233.8 313.5,231.4 314.1,233.3 314.6,228.2 315.2,230.1 315.7,227.5 316.3,229.6 316.8,232.3 317.4,230.9 317.9,235.7 318.5,232.3 319,229.2 319.6,230.7 320.1,230.8 320.7,230.9 321.2,229.9 321.8,228.9 322.3,231.2 322.9,224.6 323.4,228.6 324,226.1 324.5,226.3 325.1,223.9 325.6,228.8 326.2,221.1 326.7,220.4 327.3,222.1 327.8,225.5 328.4,220.8 328.9,223.9 329.5,226.3 330,221.3 330.6,215.1 331.1,221.3 331.7,220.9 332.2,220.8 332.8,223.9 333.3,224.1 333.9,220.5 334.4,221.3 335,218.7 335.5,221.5 336.1,221.1 336.6,222.6 337.2,219.9 337.7,221.4 338.3,222.3 338.8,224.3 339.4,222.4 339.9,216.3 340.5,221.3 341,218.4 341.6,223.6 342.1,222.6 342.7,222.4 343.2,220.6 343.8,226.7 344.3,222 344.9,226.5 345.4,229 346,230.7 346.5,231.1 347.1,226.8 347.6,223.1 348.2,222.7 348.7,220.9 349.3,228.6 349.8,228.8 350.4,225.2 350.9,229.5 351.5,229.6 352,232.6 352.6,232.1 353.1,228.3 353.7,230.8 354.2,234 354.8,233.1 355.3,233.1 355.9,229.5 356.4,230.1 357,232.4 357.5,235.5 358.1,232.9 358.6,232.1 359.2,239.8 359.7,233.8 360.3,233.9 360.8,232 361.4,234.1 361.9,237.3 362.5,238.6 363,238 363.6,240.3 364.1,237.7 364.7,238.7 365.2,234.6 365.8,238.9 366.3,235.9 366.9,240.3 367.4,235.4 368,237.6 368.5,238.4 369.1,238.7 369.6,237.7 370.2,244.4 370.7,240.6 371.3,235.8 371.8,235.9 372.4,240.9 372.9,236.8 373.5,243 374,239.1 374.6,233.8 375.1,239.5 375.7,236.6 376.2,231.7 376.8,233.3 377.3,234.1 377.9,237.9 378.4,240.7 379,242 379.5,239.7 380.1,235.1 380.6,241.6 381.2,240.6 381.7,240.1 382.3,235.6 382.8,236.4 383.4,239 383.9,239 384.5,240.1 385,237.2 385.6,234.3 386.1,239 386.7,239.3 387.2,242.9 387.8,244.9 388.3,241.5 388.9,239.7 389.4,243.8 390,244.1 390.5,239.3 391.1,245.3 391.6,243 392.2,241 392.7,237.1 393.3,238.5 393.8,241.5 394.4,242.1 394.9,245.3 395.5,245.2 396,239.7 396.6,240 397.1,239.7 397.7,238.6 398.2,238.2 398.8,237.5 399.3,237.2 399.9,239.6 400.4,241.6 401,244.8 401.5,240.2 402.1,239.4 402.6,234.2 403.2,237.6 403.7,240.6 404.3,239.6 404.8,240.9 405.4,239 405.9,238.5 406.5,236.5 407,236.7 407.6,234.7 408.1,242.5 408.7,244.2 409.2,242.8 409.8,241.7 410.3,245.9 410.9,244.7 411.4,240.9 412,241.7 412.5,242.7 413.1,243 413.6,243.2 414.2,237.7 414.7,238.3 415.3,235.1 415.8,240.4 416.4,240.3 416.9,237.8 417.5,246.6 418,247.2 418.6,242.5 419.1,244.5 419.7,241.2 420.2,244.4 420.8,245.1 421.3,241.7 421.9,244.4 422.4,249.2 423,246.9 423.5,240.6 424.1,242.8 424.6,244.6 425.2,243.8 425.7,246 426.3,241.7 426.8,234.8 427.4,244.3 427.9,240 428.5,241.3 429,237.7 429.6,243.1 430.1,239.7 430.7,241.9 431.2,242.2 431.8,246.5 432.3,249.1 432.9,247 433.4,246.9 434,244.7 434.5,243.8 435.1,240.5 435.6,243.2 436.2,237 436.7,242.8 437.3,242.7 437.8,242.3 438.4,245.4 438.9,238.1 439.5,238 440,242.2 440.6,241.2 441.1,243.4 441.7,241.8 442.2,238.7 442.8,242 443.3,242.5 443.9,243.7 444.4,244 445,248.3 445.5,241.5 446.1,240.1 446.6,245.3 447.2,240.7 447.7,241.8 448.3,244.9 448.8,244 449.4,244 449.9,242.4 450.5,237 451,242.1 451.6,244.3 452.1,243.9 452.7,241.3 453.2,242.2 453.8,243.9 454.3,241.4 454.9,240.2 455.4,238.2 456,241.7 456.5,238.3 457.1,239.1 457.6,244.5 458.2,237 458.7,237.8 459.3,242.8 459.8,241.3 460.4,244.8 460.9,239.4 461.5,238.2 462,243.5 462.6,239.4 463.1,240.9 463.7,240.5 464.2,245 464.8,239.6 465.3,240.9 465.9,243.8 466.4,245.9 467,243.5 467.5,244.5 468.1,240.8 468.6,246.7 469.2,244.8 469.7,245 470.3,247.9 470.8,244.7 471.4,242.9 471.9,244.2 472.5,248.5 473,239.5 473.6,236.2 474.1,241.5 474.7,241.1 475.2,241.5 475.8,247.2 476.3,243 476.9,241.8 477.4,245.1 478,240.5 478.5,241.6 479.1,240.8 479.6,241.7 480.2,242.2 480.7,238.3 481.3,239 481.8,238.8 482.4,236.6 482.9,240.7 483.5,239.2 484,237.2 484.6,235.2 485.1,237.6 485.7,236.5 486.2,240.5 486.8,243.4 487.3,240.5 487.9,238.7 488.4,238.9 489,242.1 489.5,239.3 490.1,241.9 490.6,239.5 491.2,233.8 491.7,243 492.3,244 492.8,241.4 493.4,241.5 493.9,241.7 494.5,245.9 495,241.8 495.6,242.1 496.1,240.7 496.7,239.3 497.2,241.7 497.8,242.7 498.3,240.2 498.9,247.5 499.4,233.8 500,243.3 500.5,238.7 501.1,236.7 501.6,241.9 502.2,244.1 502.7,246.1 503.3,239 503.8,246.3 504.4,240.3 504.9,242 505.5,245.3 506,243 506.6,241.8 507.1,244 507.7,242.5 508.2,238.7 508.8,243.8 509.3,245.6 509.9,244.8 510.4,244 511,245.9 511.5,246.2 512.1,246.9 512.6,244.9 513.2,235.9 513.7,242.6 514.3,244.2 514.8,245.4 515.4,247.5 515.9,240.2 516.5,234.2 517,241.8 517.6,244 518.1,242.9 518.7,239 519.2,246 519.8,242.6 520.3,248.3 520.9,245.3 521.4,246.5 522,236.4 522.5,241.8 523.1,240 523.6,237.7 524.2,239.7 524.7,248.9 525.3,243 525.8,237.5 526.4,243.8 526.9,240.3 527.5,241.3 528,246.7 528.6,246.9 529.1,245.9 529.7,246.8 530.2,243.8 530.8,239.4 531.3,241 531.9,240.6 532.4,241.8 533,242 533.5,243.7 534.1,245.6 534.6,242 535.2,241.5 535.7,243 536.3,246.1 536.8,242.8 537.4,237.1 537.9,243.4 538.5,239.2 539,240.3 539.6,240.5 540.1,243.6 540.7,238 541.2,244.9 541.8,242.4 542.3,246.1 542.9,243.2 543.4,249.8 544,246.4 544.5,243.4 545.1,240.6 545.6,235.6 546.2,245.3 546.7,239.9 547.3,242.7 547.8,245.5 548.4,246.2 548.9,244.2 549.5,241.6 550,244.5 550.6,243.5 551.1,238.9 551.7,239 552.2,243.6 552.8,246 553.3,237.3 553.9,242.1 554.4,242.2 555,245.5 555.5,244.3 556.1,243 556.6,245.9 557.2,247.4 557.7,248.1 558.3,245.1 558.8,245.5 559.4,249.2 559.9,245.2 560.5,242 561,244.3 561.6,241.2 562.1,245.4 562.7,241.9 563.2,242.1 563.8,246.3 564.3,242 564.9,242.1 565.4,244.2 566,244.9 566.5,240 567.1,245 567.6,243.6 568.2,244 568.7,245.7 569.3,246.6 569.8,245.4 570.4,246.7 570.9,245.3 571.5,240.5 572,238.8 572.6,239.2 573.1,239.1 573.7,239.7 574.2,235.9 574.8,240.9 575.3,244.4 575.9,245.7 576.4,244 577,240.3 577.5,248.2 578.1,242.8 578.6,241.6 579.2,242.7 579.7,238.7 580.3,237.7 580.8,241.3 581.4,245.5 581.9,242.8 582.5,244.2 583,245 583.6,245.3 584.1,241 584.7,245.3 585.2,243.3 585.8,240.3 586.3,239 586.9,244.4 587.4,243.9 588,241.4 588.5,245.4 589.1,246 589.6,244.2 590.2,240 590.7,241.7 591.3,243.4 591.8,240.4 592.4,249.3 592.9,244.9 593.5,240.7 594,237.8 594.6,244.2 595.1,243.1 595.7,243 596.2,241 596.8,244.2 597.3,244.4 597.9,240.4 598.4,240.8 599,238.5 599.5,242.6 600.1,242.7 600.6,245.4 601.2,245.4 601.7,246.1 602.3,239 602.8,239.5 603.4,238.4 603.9,237.2 604.5,238.5 605,244.2 605.6,245.6 606.1,248 606.7,246.2 607.2,245.5 607.8,242.9 608.3,241.9 608.9,241.5 609.4,240 610,238.1 610.5,241.5 611.1,246.1 611.6,241 612.2,238.7 612.7,244.2 613.3,242.8 613.8,238 614.4,240.5 614.9,235.5 615.5,240.8 616,240.8 616.6,238.4 617.1,241.6 617.7,240.9 618.2,246 618.8,241.9 619.3,243.7 619.9,240.3 620.4,243 621,244.8 621.5,245.8 622.1,246.5 622.6,240.6 623.2,247.2 623.7,249 624.3,244.8 624.8,244.2 625.4,246 625.9,239.2 626.5,240.9 627,243.3 627.6,244.4 628.1,244.7 628.7,240.1 629.2,244.5 629.8,245.9 630.3,245.1 630.9,241.8 631.4,239.3 632,241 632.5,243.1 633.1,239.6 633.6,240.2 634.2,243.1 634.7,243.8 635.3,240.4 635.8,236.1 636.4,239.3 636.9,236.3 637.5,235.8 638,242 638.6,243 639.1,239.1 639.7,240.4 640.2,241.4 640.8,243.1 641.3,245.6 641.9,244.6 642.4,236.6 643,241.3 643.5,241 644.1,241.3 644.6,241.8 645.2,241.4 645.7,240.7 646.3,244.5 646.8,246 647.4,247.6 647.9,246.7 648.5,246.2 649,244.8 649.6,239.8 650.1,244.4 650.7,242.2 651.2,241.8 651.8,238 652.3,239.3 652.9,249.6 653.4,244 654,245.2 654.5,246.6 655.1,245.2 655.6,241.9 656.2,241.8 656.7,243.5 657.3,241.7 657.8,238.5 658.4,238.1 658.9,245.2 659.5,245.4 660,245.4 660.6,246.1 661.1,244.5 661.7,240.4 662.2,248 662.8,243.4 663.3,243.6 663.9,243.3 664.4,246.3 665,243.3 665.5,238.6 666.1,236.9 666.6,237.7 667.2,243.2 667.7,246.3 668.3,243.3 668.8,241.6 669.4,244.1 669.9,243.4 670.5,240.9 671,239 671.6,241.6 672.1,245.1 672.7,246.4 673.2,245.9 673.8,242.1 674.3,245.6 674.9,237.8 675.4,241.3 676,244 676.5,240.4 677.1,237.8 677.6,245 678.2,242.4 678.7,241.7 679.3,246.1 679.8,245.2 680.4,240.2 680.9,242.1 681.5,242.1 682,245.2 682.6,247.3 683.1,239.5 683.7,239.3 684.2,245.7 684.8,243.6 685.3,242.7 685.9,240.6 686.4,243.1 687,240.8 687.5,241.9 688.1,242.1 688.6,240.3 689.2,237.7 689.7,236.2 690.3,238 690.8,238.8 691.4,242 691.9,242 692.5,242.5 693,239.2 693.6,239.4 694.1,239 694.7,237.5 695.2,236.5 695.8,245 696.3,243.1 696.9,244.8 697.4,243.1 698,239.4 698.5,244.5 699.1,243.9 699.6,242.1 700.2,238.4 700.7,240.4 701.3,243.2 701.8,245.1 702.4,243.2 702.9,241.4 703.5,240.2 704,242.1 704.6,239 705.1,240.5 705.7,234.9 706.2,243 706.8,244.2 707.3,241.5 707.9,239.5 708.4,242.2 709,240.8 709.5,239.2 710.1,237.8 710.6,239 711.2,237 711.7,242 712.3,235.9 712.8,239.1 713.4,239.5 713.9,235.3 714.5,240.1 715,234.7 715.6,236.4 716.1,236.5 716.7,238.1 717.2,238.3 717.8,242.3 718.3,240.8 718.9,240 719.4,240.1 720,240.9 720.5,238.5 721.1,241.4 721.6,241.1 722.2,241.5 722.7,240.5 723.3,240.2 723.8,240.1 724.4,238.2 724.9,239.9 725.5,242.5 726,239.4 726.6,239.7 727.1,241.7 727.7,239.9 728.2,238.9 728.8,240" fill="none" stroke="#FF6A05" stroke-width="2.1" stroke-linejoin="round" style="mix-blend-mode:multiply"/>
<polyline points="73.2,302.2 73.8,304.8 74.3,304.4 74.8,305.2 75.4,307 75.9,306.3 76.5,307.5 77,307.2 77.6,308.1 78.1,304.2 78.7,303.3 79.2,302.2 79.8,305 80.3,304.6 80.9,306.5 81.4,306.2 82,305.7 82.5,309.1 83.1,307.7 83.6,306.1 84.2,303.9 84.7,307.7 85.3,307.6 85.8,304.3 86.4,304.8 86.9,305.7 87.5,302.8 88,304.1 88.6,307.5 89.1,303.5 89.7,305.7 90.2,308.9 90.8,305.7 91.3,304.9 91.9,305.8 92.4,306.6 93,306.7 93.5,303.5 94.1,303.6 94.6,305.2 95.2,305 95.7,307.5 96.3,305.8 96.8,305.2 97.4,308.8 97.9,306.7 98.5,303.7 99,305.3 99.6,305.2 100.1,306.8 100.7,306.9 101.2,305.6 101.8,305 102.3,304.6 102.9,307.6 103.4,309.8 104,307 104.5,307.1 105.1,307.3 105.6,305 106.2,304.4 106.7,304.2 107.3,301.7 107.8,302.7 108.4,305.1 108.9,306.7 109.5,305.3 110,304.2 110.6,305.9 111.1,308.8 111.7,304.6 112.2,303.4 112.8,303.5 113.3,305.2 113.9,303.3 114.4,304.8 115,303.3 115.5,304.9 116.1,303.9 116.6,303.3 117.2,305.2 117.7,302.4 118.3,302 118.8,304.4 119.4,305.3 119.9,304.6 120.5,300.2 121,303.6 121.6,304.1 122.1,303 122.7,299.9 123.2,303.5 123.8,306.3 124.3,305.1 124.9,306 125.4,302.9 126,303.2 126.5,301.8 127.1,300.5 127.6,301.3 128.2,300.6 128.7,300.6 129.3,299.5 129.8,301.1 130.4,301.4 130.9,302.2 131.5,300.1 132,302 132.6,299 133.1,301.1 133.7,301.8 134.2,297.9 134.8,299.9 135.3,303 135.9,302.9 136.4,301.2 137,300.4 137.5,301.5 138.1,301.6 138.6,302.7 139.2,301.9 139.7,302.8 140.3,302.2 140.8,299.9 141.4,298.5 141.9,298.7 142.5,300.2 143,298.4 143.6,300.6 144.1,296.9 144.7,297.6 145.2,296.5 145.8,298 146.3,298 146.9,297.4 147.4,295.1 148,294.7 148.5,294.8 149.1,297.5 149.6,295.4 150.2,296.4 150.7,297.4 151.3,294.5 151.8,294 152.4,290.8 152.9,292.8 153.5,295.5 154,293.8 154.6,295.6 155.1,297.3 155.7,297.4 156.2,296.3 156.8,297.4 157.3,296.5 157.9,296.8 158.4,302 159,299.2 159.5,298.2 160.1,299.6 160.6,300.6 161.2,302.1 161.7,300.2 162.3,299.2 162.8,299.1 163.4,301.9 163.9,303.4 164.5,300.7 165,300.1 165.6,300.5 166.1,298.9 166.7,298.9 167.2,301.2 167.8,298.1 168.3,299.5 168.9,301.1 169.4,301.8 170,320.8 170.5,305.9 171.1,296.9 171.6,298.6 172.2,297.6 172.7,296.5 173.3,295.4 173.8,294.5 174.4,294.5 174.9,295 175.5,296.8 176,295.5 176.6,295.9 177.1,294.8 177.7,295.8 178.2,295.2 178.8,297.1 179.3,296 179.9,292.2 180.4,293.5 181,293.3 181.5,295.5 182.1,294.7 182.6,295.7 183.2,295.8 183.7,293.3 184.3,293 184.8,293.4 185.4,290.6 185.9,297.6 186.5,295.9 187,291.8 187.6,290.1 188.1,292 188.7,291.7 189.2,289.5 189.8,288.3 190.3,290.8 190.9,290.7 191.4,292 192,291.5 192.5,293.3 193.1,288.7 193.6,291.2 194.2,289.5 194.7,288.5 195.3,291.3 195.8,287.2 196.4,288.8 196.9,288.7 197.5,291.2 198,287.4 198.6,289 199.1,289.6 199.7,288.9 200.2,288.6 200.8,287.9 201.3,285.3 201.9,285.8 202.4,283.4 203,287.3 203.5,288.5 204.1,284.7 204.6,287.6 205.2,286.1 205.7,283 206.3,282.1 206.8,285.2 207.4,284.6 207.9,282.4 208.5,284.5 209,283.4 209.6,282.3 210.1,280.4 210.7,282.5 211.2,284.3 211.8,280.4 212.3,280.3 212.9,280 213.4,280.4 214,278 214.5,282.2 215.1,280.4 215.6,280.5 216.2,278.1 216.7,281.1 217.3,279 217.8,274 218.4,276.7 218.9,275.5 219.5,272.9 220,273.4 220.6,271.7 221.1,273.5 221.7,273.5 222.2,269.7 222.8,271.5 223.3,272.3 223.9,266 224.4,269.8 225,269.6 225.5,269.2 226.1,269.6 226.6,266.6 227.2,263.6 227.7,264.1 228.3,262.8 228.8,262.8 229.4,257.5 229.9,258.3 230.5,263.1 231,260.4 231.6,259.9 232.1,258 232.7,255.5 233.2,256 233.8,255.3 234.3,252.5 234.9,251.1 235.4,251.9 236,248.3 236.5,246.4 237.1,248.4 237.6,248.4 238.2,245.3 238.7,246.5 239.3,245 239.8,242.9 240.4,239.9 240.9,240.3 241.5,237.4 242,236.3 242.6,234.1 243.1,235.6 243.7,233.4 244.2,231.5 244.8,231.2 245.3,233 245.9,231 246.4,225.1 247,225.2 247.5,225 248.1,223.3 248.6,221.6 249.2,225.3 249.7,224.7 250.3,224.7 250.8,223.9 251.4,224.8 251.9,225 252.5,225.1 253,225.1 253.6,224.6 254.1,226.1 254.7,229.1 255.2,230.1 255.8,233.7 256.3,234 256.9,238.1 257.4,237.1 258,240.9 258.5,245.1 259.1,247.1 259.6,246.6 260.2,250.8 260.7,251.2 261.3,253 261.8,254.1 262.4,252.3 262.9,256.6 263.5,258.8 264,260.9 264.6,259.6 265.1,263 265.7,262.6 266.2,262.3 266.8,263.2 267.3,266.5 267.9,267.3 268.4,271.7 269,273.7 269.5,274.2 270.1,273.1 270.6,271.8 271.2,271 271.7,273.6 272.3,277.6 272.8,279.5 273.4,275.5 273.9,277.9 274.5,279.8 275,278 275.6,279.4 276.1,279 276.7,280.8 277.2,281.8 277.8,281.6 278.3,282.2 278.9,281.7 279.4,283.2 280,279.5 280.5,283.1 281.1,286 281.6,283.2 282.2,284.3 282.7,286.2 283.3,284.9 283.8,284.5 284.4,285.6 284.9,287.5 285.5,283.7 286,286.6 286.6,287.9 287.1,285.3 287.7,287.1 288.2,290.1 288.8,288.7 289.3,288.1 289.9,292 290.4,288.3 291,288.3 291.5,291 292.1,292.8 292.6,288.6 293.2,288.7 293.7,290 294.3,291.9 294.8,291.3 295.4,289.3 295.9,291.1 296.5,286.5 297,289.1 297.6,291 298.1,292.4 298.7,291.8 299.2,288.3 299.8,291.2 300.3,289.7 300.9,289.3 301.4,291.9 302,287.4 302.5,293.1 303.1,293.9 303.6,292.4 304.2,290.5 304.7,291.2 305.3,291.1 305.8,290.4 306.4,285.8 306.9,289 307.5,289.2 308,290.3 308.6,289.6 309.1,289 309.7,288.4 310.2,285.1 310.8,283.2 311.3,285.3 311.9,284.8 312.4,286.5 313,283.8 313.5,283.8 314.1,285.8 314.6,285.1 315.2,283 315.7,284.6 316.3,284.4 316.8,281.8 317.4,281.4 317.9,282.4 318.5,281.8 319,281.2 319.6,280.2 320.1,276.6 320.7,279.5 321.2,280 321.8,279.1 322.3,275.5 322.9,276.2 323.4,276.7 324,276.1 324.5,275.6 325.1,271.3 325.6,274.1 326.2,274.6 326.7,274.3 327.3,274.8 327.8,272.6 328.4,273.2 328.9,268.3 329.5,269 330,266.7 330.6,267.8 331.1,264 331.7,261.7 332.2,260 332.8,260.7 333.3,258.4 333.9,260.2 334.4,260.3 335,259 335.5,258.5 336.1,256.9 336.6,260.6 337.2,260.1 337.7,256.6 338.3,259.2 338.8,256.6 339.4,258.3 339.9,259.6 340.5,258.6 341,258.2 341.6,260.3 342.1,262.3 342.7,263.3 343.2,265 343.8,263.8 344.3,266.9 344.9,267.6 345.4,270.9 346,271.2 346.5,272.9 347.1,274.2 347.6,276.5 348.2,278.5 348.7,280.5 349.3,283.5 349.8,283.1 350.4,288.4 350.9,287.9 351.5,287.2 352,291 352.6,291.8 353.1,292.9 353.7,295.2 354.2,294.3 354.8,298.5 355.3,296.4 355.9,297.3 356.4,300.9 357,302.6 357.5,302.2 358.1,299.3 358.6,300.3 359.2,300.5 359.7,300.7 360.3,301.6 360.8,303.2 361.4,304.8 361.9,304.6 362.5,302.5 363,303.5 363.6,304.3 364.1,305.7 364.7,303.8 365.2,303.4 365.8,303.1 366.3,302.2 366.9,304.6 367.4,303.9 368,306.2 368.5,307 369.1,305.9 369.6,306 370.2,305.1 370.7,305.8 371.3,306 371.8,308 372.4,306 372.9,308.1 373.5,308.2 374,307.8 374.6,305.2 375.1,304.6 375.7,306.2 376.2,307.1 376.8,305.2 377.3,309.7 377.9,308.7 378.4,308 379,309.3 379.5,307.1 380.1,304.3 380.6,306.8 381.2,306.7 381.7,308 382.3,308.8 382.8,306.1 383.4,306.6 383.9,309.7 384.5,311.8 385,309.9 385.6,309.7 386.1,310 386.7,310 387.2,313.6 387.8,313.6 388.3,309.8 388.9,308.9 389.4,311.1 390,310.9 390.5,311.4 391.1,311.1 391.6,308.3 392.2,306.6 392.7,305.6 393.3,306.6 393.8,308.8 394.4,307.9 394.9,311.9 395.5,307.1 396,307.6 396.6,310.1 397.1,312.3 397.7,308.2 398.2,308.9 398.8,309.8 399.3,305.5 399.9,308.8 400.4,308.9 401,307.9 401.5,309.9 402.1,309.1 402.6,307.4 403.2,310.4 403.7,308 404.3,310.5 404.8,305.1 405.4,308.8 405.9,308 406.5,308.8 407,308.9 407.6,310.4 408.1,307.7 408.7,307.9 409.2,307.7 409.8,309 410.3,308.7 410.9,309 411.4,309.3 412,305.9 412.5,307.2 413.1,308.2 413.6,308.8 414.2,312.8 414.7,311.4 415.3,311.8 415.8,308.9 416.4,310.1 416.9,312.8 417.5,309.1 418,307.7 418.6,305.7 419.1,304.1 419.7,310.3 420.2,306.7 420.8,307.7 421.3,309.6 421.9,309.3 422.4,309.3 423,308.7 423.5,311.3 424.1,306.8 424.6,307.3 425.2,308.1 425.7,305.2 426.3,306.2 426.8,307.4 427.4,310.8 427.9,308.3 428.5,310.5 429,308.1 429.6,311.3 430.1,309 430.7,310.5 431.2,312.9 431.8,312.3 432.3,312.4 432.9,308.1 433.4,309.5 434,310.2 434.5,308.9 435.1,309.2 435.6,307 436.2,307.2 436.7,306 437.3,305.1 437.8,308.7 438.4,307.3 438.9,308.7 439.5,311.9 440,311.7 440.6,308.6 441.1,308.2 441.7,307.4 442.2,308.2 442.8,312.9 443.3,312.5 443.9,309.1 444.4,306.5 445,309.7 445.5,305.1 446.1,308.4 446.6,304.7 447.2,308 447.7,308.9 448.3,308 448.8,306.6 449.4,308.9 449.9,309.6 450.5,309.3 451,313 451.6,309.8 452.1,308.2 452.7,311.1 453.2,313.1 453.8,309.9 454.3,308.9 454.9,308.1 455.4,309.1 456,311.1 456.5,308.1 457.1,308.2 457.6,307 458.2,308.6 458.7,308.3 459.3,309.4 459.8,308.7 460.4,309.1 460.9,306.1 461.5,306.9 462,307.5 462.6,308.7 463.1,307 463.7,307.3 464.2,310 464.8,310.1 465.3,308.2 465.9,308.6 466.4,308.3 467,309.1 467.5,308.5 468.1,307.2 468.6,308.5 469.2,306.2 469.7,309.1 470.3,310.7 470.8,312.2 471.4,307.4 471.9,308.2 472.5,310.2 473,309.8 473.6,309.9 474.1,309.6 474.7,310.6 475.2,309.4 475.8,306.4 476.3,308.7 476.9,312.7 477.4,312.9 478,311.1 478.5,313.2 479.1,309.3 479.6,307.5 480.2,307.9 480.7,309.5 481.3,312.4 481.8,312.2 482.4,310.2 482.9,312.1 483.5,310.8 484,310.3 484.6,309.4 485.1,307.8 485.7,308.4 486.2,307.3 486.8,305 487.3,306.4 487.9,310.6 488.4,309.3 489,306.9 489.5,308.5 490.1,313.2 490.6,310.5 491.2,313.5 491.7,311.9 492.3,306.7 492.8,309 493.4,312.9 493.9,311.5 494.5,308.1 495,309.7 495.6,311.8 496.1,306.8 496.7,309.1 497.2,309.9 497.8,311.5 498.3,309.6 498.9,308 499.4,310.1 500,310.3 500.5,309.7 501.1,308.8 501.6,310.7 502.2,309.1 502.7,313.2 503.3,310.2 503.8,312 504.4,312.3 504.9,311.3 505.5,309.9 506,311.6 506.6,310.5 507.1,308.4 507.7,309.3 508.2,310.2 508.8,306.8 509.3,310.5 509.9,306.6 510.4,308.9 511,309.2 511.5,306.4 512.1,307.4 512.6,307.2 513.2,309.4 513.7,308.3 514.3,309.5 514.8,310.1 515.4,311.7 515.9,308.8 516.5,312.2 517,305.7 517.6,306.7 518.1,307.7 518.7,306 519.2,305.2 519.8,308.5 520.3,306.1 520.9,306.9 521.4,310 522,311.7 522.5,309.6 523.1,310.8 523.6,311.3 524.2,311.1 524.7,309.6 525.3,307.9 525.8,306.5 526.4,311.6 526.9,310.9 527.5,309.8 528,309.5 528.6,310.9 529.1,311.6 529.7,310.2 530.2,307.9 530.8,310.4 531.3,309.2 531.9,306.9 532.4,311 533,313.3 533.5,311.5 534.1,310.2 534.6,309.7 535.2,308.7 535.7,308.7 536.3,307.9 536.8,307.6 537.4,308 537.9,308.8 538.5,309.5 539,310.4 539.6,308.1 540.1,310.1 540.7,308.1 541.2,307.4 541.8,309.6 542.3,306.6 542.9,308.4 543.4,305.8 544,307.4 544.5,310 545.1,311.2 545.6,308.3 546.2,307.4 546.7,311.6 547.3,311.1 547.8,312.6 548.4,308.1 548.9,311.7 549.5,311.1 550,308.1 550.6,309.3 551.1,313.3 551.7,311.7 552.2,308.4 552.8,306.6 553.3,310.7 553.9,309.6 554.4,308.4 555,308.4 555.5,308.1 556.1,306.7 556.6,308.3 557.2,309.8 557.7,307.2 558.3,310.7 558.8,308.7 559.4,310 559.9,311.3 560.5,311.9 561,313.1 561.6,308 562.1,305.8 562.7,305.7 563.2,307.3 563.8,309.7 564.3,307.8 564.9,307.2 565.4,308 566,308.1 566.5,312.9 567.1,309.1 567.6,312.6 568.2,314.3 568.7,311.3 569.3,310 569.8,309.7 570.4,308.6 570.9,308.4 571.5,307 572,309.5 572.6,311.3 573.1,308.9 573.7,310.9 574.2,309.4 574.8,308.4 575.3,309.5 575.9,309.1 576.4,312.4 577,313.1 577.5,313.3 578.1,312.4 578.6,308.4 579.2,308.3 579.7,309 580.3,312.5 580.8,309.3 581.4,312.6 581.9,307 582.5,307.9 583,308.4 583.6,311.1 584.1,311.8 584.7,310.6 585.2,311.2 585.8,307.6 586.3,305.7 586.9,310.1 587.4,313.8 588,313 588.5,310.1 589.1,310.5 589.6,306.5 590.2,308 590.7,308.2 591.3,311.2 591.8,310.4 592.4,311.3 592.9,307.5 593.5,308.1 594,307.3 594.6,309.8 595.1,309.7 595.7,309.5 596.2,305.5 596.8,310.7 597.3,308.9 597.9,308.8 598.4,313 599,312.8 599.5,310.4 600.1,311.4 600.6,306.9 601.2,306.6 601.7,309.1 602.3,307.7 602.8,307.6 603.4,305.5 603.9,306.1 604.5,306.3 605,306.5 605.6,310.6 606.1,308.7 606.7,308.3 607.2,310 607.8,308.1 608.3,309.1 608.9,305 609.4,306.2 610,308.1 610.5,306.5 611.1,308.1 611.6,307.1 612.2,308.4 612.7,309.6 613.3,307.8 613.8,305.5 614.4,304.9 614.9,306.6 615.5,306.9 616,304.3 616.6,307.9 617.1,309.5 617.7,307.9 618.2,307.9 618.8,307.8 619.3,305.6 619.9,306.4 620.4,307.3 621,306.7 621.5,304.5 622.1,303.4 622.6,304.4 623.2,304.6 623.7,304.6 624.3,302.3 624.8,304.4 625.4,304.7 625.9,305.5 626.5,303.7 627,306.3 627.6,306.1 628.1,307.7 628.7,305.4 629.2,307.1 629.8,306.9 630.3,305.6 630.9,306.1 631.4,304.5 632,305.2 632.5,305.6 633.1,305.6 633.6,306.2 634.2,307.1 634.7,304.3 635.3,305.9 635.8,301.6 636.4,302.5 636.9,308.1 637.5,307.7 638,306.3 638.6,310.1 639.1,305.5 639.7,305.1 640.2,303.3 640.8,305.3 641.3,304 641.9,301.4 642.4,301.4 643,302.6 643.5,305.4 644.1,305.9 644.6,306.6 645.2,306.1 645.7,304.3 646.3,309.1 646.8,304.8 647.4,305.6 647.9,304 648.5,303.7 649,303.9 649.6,301.7 650.1,305.8 650.7,304.9 651.2,306.4 651.8,307.4 652.3,306.7 652.9,305.6 653.4,305.8 654,303.9 654.5,304.9 655.1,301 655.6,301.6 656.2,304.6 656.7,301.6 657.3,303.7 657.8,305.3 658.4,304.5 658.9,302.7 659.5,305.2 660,308 660.6,307.8 661.1,302.7 661.7,306.7 662.2,303.9 662.8,306.6 663.3,304.9 663.9,305.4 664.4,306.9 665,303.3 665.5,307 666.1,304.7 666.6,305.4 667.2,304.2 667.7,303.4 668.3,301.3 668.8,302.5 669.4,304.8 669.9,302.5 670.5,305.6 671,305.5 671.6,301.8 672.1,302.9 672.7,304.1 673.2,303.5 673.8,304.2 674.3,305.5 674.9,303.5 675.4,304.3 676,303.4 676.5,301.7 677.1,303.7 677.6,302.6 678.2,302.7 678.7,304.5 679.3,300.2 679.8,303.2 680.4,303.9 680.9,303.8 681.5,304.4 682,304.2 682.6,304.8 683.1,300.9 683.7,301.7 684.2,303.1 684.8,302.9 685.3,303.3 685.9,301.8 686.4,305.8 687,304.2 687.5,304.8 688.1,305.4 688.6,303.1 689.2,301.8 689.7,301.1 690.3,303.3 690.8,305.6 691.4,305.3 691.9,301.6 692.5,304.6 693,305.8 693.6,304.7 694.1,301 694.7,299.2 695.2,300.7 695.8,299.8 696.3,302.8 696.9,305.5 697.4,306.6 698,306.3 698.5,306.3 699.1,306.5 699.6,305 700.2,302.7 700.7,306.7 701.3,308 701.8,301.7 702.4,305.4 702.9,305 703.5,303.3 704,306.5 704.6,303.5 705.1,303.5 705.7,304 706.2,306.4 706.8,304 707.3,304.6 707.9,303.6 708.4,304.8 709,308.6 709.5,307.7 710.1,305.9 710.6,305.3 711.2,302.6 711.7,306.4 712.3,305.9 712.8,307.8 713.4,306.7 713.9,306.5 714.5,305.4 715,302.7 715.6,305.9 716.1,307 716.7,304.9 717.2,306.2 717.8,306.1 718.3,304.9 718.9,304.1 719.4,302.8 720,303.1 720.5,306.8 721.1,307.7 721.6,306.8 722.2,308.2 722.7,307.9 723.3,305.8 723.8,307 724.4,306.2 724.9,305.8 725.5,307.1 726,304.8 726.6,308.2 727.1,307.9 727.7,306.2 728.2,307.8 728.8,305.1" fill="none" stroke="#FF4420" stroke-width="2.1" stroke-linejoin="round" style="mix-blend-mode:multiply"/>
<polyline points="73.2,367.4 73.8,365 74.3,364.3 74.8,363.7 75.4,360.3 75.9,362.6 76.5,359.4 77,362.9 77.6,362.4 78.1,364.9 78.7,363.7 79.2,363.6 79.8,361.8 80.3,363.9 80.9,363.4 81.4,364.5 82,365.2 82.5,365.3 83.1,363.8 83.6,360.5 84.2,360.6 84.7,363.8 85.3,365.3 85.8,366.2 86.4,363.6 86.9,361.9 87.5,364.4 88,365.2 88.6,364.1 89.1,363.7 89.7,361.4 90.2,362.4 90.8,365.3 91.3,362.6 91.9,362.4 92.4,362.9 93,362.8 93.5,360.3 94.1,361.6 94.6,361.9 95.2,362.4 95.7,362 96.3,363.2 96.8,361.8 97.4,365.6 97.9,363.7 98.5,366 99,366.7 99.6,364.8 100.1,362.1 100.7,359.5 101.2,359.6 101.8,361.7 102.3,363.1 102.9,362.1 103.4,362.2 104,367.4 104.5,365.3 105.1,362.2 105.6,364 106.2,362.1 106.7,359.2 107.3,362.2 107.8,361.7 108.4,362.9 108.9,366.2 109.5,364.5 110,362.4 110.6,365.7 111.1,360.7 111.7,360.6 112.2,364.7 112.8,366.3 113.3,364 113.9,362.4 114.4,363.5 115,363.9 115.5,363.8 116.1,362.7 116.6,360.9 117.2,361.3 117.7,361.9 118.3,362.1 118.8,361.8 119.4,362.5 119.9,360.1 120.5,363.6 121,365.6 121.6,363.1 122.1,361 122.7,363 123.2,364.1 123.8,363.4 124.3,365.6 124.9,362.7 125.4,360.8 126,364.1 126.5,361.7 127.1,360.6 127.6,356.8 128.2,358.3 128.7,358.1 129.3,358.7 129.8,359.9 130.4,359.4 130.9,356.8 131.5,359.3 132,359 132.6,359 133.1,357.9 133.7,357.7 134.2,355.3 134.8,354.3 135.3,355.6 135.9,356.2 136.4,358 137,354.6 137.5,356.3 138.1,357.1 138.6,360.7 139.2,359.3 139.7,358.9 140.3,359.8 140.8,360.9 141.4,357.3 141.9,357.3 142.5,360.4 143,361 143.6,360.8 144.1,363.1 144.7,358.9 145.2,360 145.8,359.3 146.3,360.1 146.9,358.5 147.4,359.3 148,363.1 148.5,361 149.1,359.3 149.6,360.8 150.2,359.5 150.7,361.3 151.3,356.8 151.8,354.7 152.4,352.1 152.9,351.3 153.5,351.1 154,355.9 154.6,355.3 155.1,355.3 155.7,354.7 156.2,354.2 156.8,353.7 157.3,351.7 157.9,356.2 158.4,354.9 159,358.3 159.5,358.1 160.1,354.2 160.6,355 161.2,355.9 161.7,355.9 162.3,356.1 162.8,357.1 163.4,356.8 163.9,356.6 164.5,358 165,358.5 165.6,357.9 166.1,359.2 166.7,358.3 167.2,359.3 167.8,358.9 168.3,360.5 168.9,354.8 169.4,362.8 170,370.9 170.5,364.2 171.1,357.1 171.6,356.7 172.2,357.4 172.7,356.1 173.3,355.3 173.8,355.4 174.4,358 174.9,353.5 175.5,354.6 176,357.3 176.6,355.3 177.1,357.5 177.7,351.9 178.2,351.3 178.8,352.3 179.3,352 179.9,352 180.4,354 181,350.6 181.5,353.2 182.1,353.6 182.6,352.8 183.2,356.3 183.7,353.3 184.3,356.2 184.8,352.6 185.4,353.1 185.9,352.9 186.5,350.8 187,352.5 187.6,353.8 188.1,353.2 188.7,351.8 189.2,354.4 189.8,352.7 190.3,351.8 190.9,346.2 191.4,348 192,350.3 192.5,347.6 193.1,345.2 193.6,345.2 194.2,346.7 194.7,344.6 195.3,345.7 195.8,347.1 196.4,345.3 196.9,345.1 197.5,348.1 198,346.4 198.6,344 199.1,345.5 199.7,346.1 200.2,345.2 200.8,344.4 201.3,342.8 201.9,347.9 202.4,343.3 203,343.2 203.5,343.6 204.1,344.4 204.6,342 205.2,342 205.7,340.3 206.3,341 206.8,337.3 207.4,340.8 207.9,340.2 208.5,340.3 209,338.4 209.6,334.2 210.1,334.1 210.7,334.7 211.2,337.3 211.8,335.2 212.3,335.8 212.9,333.9 213.4,331.3 214,330.5 214.5,331.2 215.1,331.2 215.6,328.2 216.2,328.2 216.7,327.7 217.3,328 217.8,328.5 218.4,324 218.9,322.7 219.5,320 220,324.7 220.6,323.1 221.1,319.3 221.7,323.5 222.2,320.7 222.8,319.8 223.3,319.3 223.9,319.4 224.4,314.5 225,315.3 225.5,316.6 226.1,316 226.6,314.4 227.2,312.6 227.7,309.9 228.3,307.9 228.8,307.1 229.4,309.4 229.9,309.6 230.5,307.8 231,307.9 231.6,310.3 232.1,307.5 232.7,305.2 233.2,308.9 233.8,305.6 234.3,302.4 234.9,303.8 235.4,300.2 236,299.6 236.5,299.1 237.1,300.2 237.6,296.3 238.2,296.8 238.7,292.6 239.3,292.8 239.8,292.7 240.4,292.6 240.9,294.9 241.5,291.5 242,289.7 242.6,288.3 243.1,287.3 243.7,287.7 244.2,287 244.8,287.9 245.3,285.2 245.9,285.9 246.4,285.6 247,284.8 247.5,284.9 248.1,284.7 248.6,284 249.2,283.8 249.7,280.3 250.3,281.5 250.8,283.2 251.4,284.9 251.9,285.6 252.5,284.8 253,283.8 253.6,285.4 254.1,285.9 254.7,284.9 255.2,288 255.8,290.2 256.3,289.9 256.9,288.1 257.4,290.6 258,292.4 258.5,291.6 259.1,295 259.6,296.3 260.2,299 260.7,298.3 261.3,299.6 261.8,300.8 262.4,303.6 262.9,302 263.5,303.7 264,307.8 264.6,306.6 265.1,305.3 265.7,309.3 266.2,310.7 266.8,307.6 267.3,310 267.9,309 268.4,311.4 269,314.6 269.5,316 270.1,313.9 270.6,314.1 271.2,318.8 271.7,319.2 272.3,318.6 272.8,319.6 273.4,318.5 273.9,317.3 274.5,317.8 275,321.5 275.6,321.1 276.1,324 276.7,325.9 277.2,326 277.8,324.8 278.3,325.1 278.9,325.4 279.4,327.4 280,330.2 280.5,330 281.1,333.2 281.6,332.1 282.2,330.6 282.7,328.8 283.3,329.4 283.8,329.1 284.4,332.3 284.9,332.7 285.5,336.3 286,335.8 286.6,335.9 287.1,333.4 287.7,333 288.2,335 288.8,335.1 289.3,333.7 289.9,333.9 290.4,335.2 291,336.6 291.5,336.6 292.1,335.6 292.6,335.4 293.2,336.9 293.7,336.7 294.3,334.2 294.8,334.4 295.4,336.8 295.9,339.3 296.5,339.2 297,336.6 297.6,335.2 298.1,340.1 298.7,338.8 299.2,337.2 299.8,337.6 300.3,338.4 300.9,337.7 301.4,337.8 302,340.1 302.5,337.6 303.1,336.9 303.6,338 304.2,337.9 304.7,337.4 305.3,337.8 305.8,336.2 306.4,336.9 306.9,336 307.5,338.7 308,336.1 308.6,336 309.1,337.2 309.7,334.9 310.2,335.2 310.8,333.1 311.3,332.3 311.9,331.7 312.4,331.3 313,331.5 313.5,327.5 314.1,329.8 314.6,330 315.2,328.5 315.7,327.2 316.3,327.9 316.8,327.4 317.4,332.2 317.9,330.2 318.5,327.6 319,325.5 319.6,325.6 320.1,322.3 320.7,320.9 321.2,322.9 321.8,318.9 322.3,319.5 322.9,318.3 323.4,318.7 324,318.8 324.5,317.3 325.1,318.2 325.6,316.4 326.2,317.2 326.7,315.4 327.3,316.8 327.8,316.9 328.4,313.7 328.9,307.7 329.5,308.1 330,308.8 330.6,306.5 331.1,306.4 331.7,308.9 332.2,306.3 332.8,305.9 333.3,307.7 333.9,303.7 334.4,302.3 335,303.4 335.5,301.4 336.1,302.8 336.6,304.2 337.2,304.5 337.7,303.2 338.3,302.5 338.8,304 339.4,304.1 339.9,305 340.5,308 341,304.1 341.6,307.6 342.1,306.6 342.7,309.2 343.2,309.6 343.8,310.6 344.3,312.2 344.9,316.5 345.4,318.3 346,321.6 346.5,320.1 347.1,322.2 347.6,324 348.2,326.6 348.7,330.9 349.3,333.6 349.8,333.3 350.4,332.1 350.9,335.4 351.5,336.3 352,338.7 352.6,342.6 353.1,345.2 353.7,349.6 354.2,347.2 354.8,346.2 355.3,346 355.9,352 356.4,349.9 357,352 357.5,355.3 358.1,352.9 358.6,355 359.2,353.5 359.7,356.7 360.3,354.1 360.8,355.1 361.4,355.8 361.9,356.9 362.5,359.6 363,361 363.6,362.1 364.1,362.7 364.7,358.4 365.2,359.8 365.8,363 366.3,364.2 366.9,364 367.4,361.9 368,363.2 368.5,362 369.1,360.6 369.6,363.1 370.2,362.6 370.7,362.5 371.3,363.5 371.8,364.2 372.4,362.6 372.9,360.9 373.5,361.7 374,361.7 374.6,362.9 375.1,364.4 375.7,363.7 376.2,363.1 376.8,361.7 377.3,363.9 377.9,363.8 378.4,365.3 379,366.7 379.5,366.2 380.1,364.8 380.6,366 381.2,368.4 381.7,364.1 382.3,365.6 382.8,366.1 383.4,366.2 383.9,365.7 384.5,363.2 385,363.9 385.6,366.2 386.1,363.8 386.7,363.7 387.2,363.1 387.8,365.6 388.3,367.3 388.9,364.1 389.4,363.6 390,360.9 390.5,364.9 391.1,368.2 391.6,367 392.2,364.1 392.7,365.7 393.3,368.9 393.8,364.7 394.4,363.9 394.9,366.9 395.5,364.9 396,366.7 396.6,364.7 397.1,364.6 397.7,362.3 398.2,363.2 398.8,365.1 399.3,365.7 399.9,367.5 400.4,367.5 401,365.8 401.5,367.6 402.1,368.4 402.6,366.5 403.2,366.6 403.7,367.2 404.3,366.5 404.8,365 405.4,366 405.9,366.3 406.5,364.1 407,365.3 407.6,366.5 408.1,365.5 408.7,363.2 409.2,368.6 409.8,369.5 410.3,369.7 410.9,368.5 411.4,366.4 412,361.3 412.5,366.3 413.1,369 413.6,365.1 414.2,366.2 414.7,365.8 415.3,368.4 415.8,364.4 416.4,367.8 416.9,367.2 417.5,363.8 418,362.4 418.6,365.5 419.1,368 419.7,365.2 420.2,364.9 420.8,364.7 421.3,366.8 421.9,366 422.4,364.7 423,363.9 423.5,363.4 424.1,365.6 424.6,367 425.2,365.4 425.7,365.5 426.3,363 426.8,365.5 427.4,365.3 427.9,367.5 428.5,363.1 429,367.1 429.6,366.2 430.1,366.1 430.7,366.5 431.2,364.9 431.8,366.4 432.3,366.8 432.9,365.6 433.4,367.4 434,366.9 434.5,365.2 435.1,365.3 435.6,365.3 436.2,366.7 436.7,370.5 437.3,367.5 437.8,368.8 438.4,364.1 438.9,363.2 439.5,363.5 440,364.9 440.6,365.2 441.1,367.8 441.7,366.5 442.2,366 442.8,367.6 443.3,364.9 443.9,365.7 444.4,367.8 445,366.2 445.5,369.6 446.1,368.8 446.6,367.4 447.2,367.4 447.7,368.2 448.3,363.1 448.8,366.4 449.4,364.9 449.9,369.8 450.5,364.8 451,366.1 451.6,368.7 452.1,370.9 452.7,368.8 453.2,368.2 453.8,367.9 454.3,366.2 454.9,365.4 455.4,364.6 456,366.2 456.5,367.8 457.1,366 457.6,366.9 458.2,366.7 458.7,363.8 459.3,366.3 459.8,364.7 460.4,366.9 460.9,367.5 461.5,366.9 462,367 462.6,365.7 463.1,363.9 463.7,366.9 464.2,365.4 464.8,368.4 465.3,368.7 465.9,364.2 466.4,362.8 467,365.6 467.5,365.2 468.1,364.3 468.6,363.7 469.2,364.4 469.7,364.8 470.3,362.3 470.8,364.4 471.4,364 471.9,365 472.5,364 473,367 473.6,366.4 474.1,364.4 474.7,363.5 475.2,366.4 475.8,368.2 476.3,367.5 476.9,364.2 477.4,364.7 478,365.6 478.5,364.5 479.1,366.1 479.6,367 480.2,366.9 480.7,368.2 481.3,366.8 481.8,365.6 482.4,364 482.9,366.5 483.5,363.2 484,369 484.6,368.7 485.1,368.1 485.7,365.5 486.2,365.8 486.8,364.2 487.3,364.2 487.9,365.7 488.4,364.8 489,363.9 489.5,365.1 490.1,364.6 490.6,365.1 491.2,366 491.7,364.8 492.3,365.7 492.8,368.2 493.4,369.8 493.9,367.5 494.5,367.8 495,366.3 495.6,367.1 496.1,363.6 496.7,365.7 497.2,369.4 497.8,366.2 498.3,367.3 498.9,365.9 499.4,368.5 500,366 500.5,369.2 501.1,367.9 501.6,364.7 502.2,365.9 502.7,364.6 503.3,364.7 503.8,364.3 504.4,368.2 504.9,367.8 505.5,369.8 506,367.8 506.6,367.5 507.1,362.3 507.7,363.4 508.2,364.9 508.8,364.5 509.3,366.7 509.9,363.5 510.4,364.9 511,365.1 511.5,363.9 512.1,364.3 512.6,363.9 513.2,366.8 513.7,367.2 514.3,368.2 514.8,367.8 515.4,364.6 515.9,364.4 516.5,362.7 517,365.5 517.6,368.4 518.1,366.9 518.7,366.8 519.2,366.9 519.8,365.2 520.3,367.3 520.9,365.5 521.4,366.4 522,363.7 522.5,367.9 523.1,367.9 523.6,366.5 524.2,366.2 524.7,367.9 525.3,364.8 525.8,366.5 526.4,368 526.9,366.9 527.5,368 528,367.2 528.6,366.3 529.1,369 529.7,367.6 530.2,368.5 530.8,367.5 531.3,366.4 531.9,367.3 532.4,365.3 533,364.9 533.5,365.8 534.1,367.3 534.6,367.9 535.2,369.9 535.7,365.6 536.3,365.6 536.8,368.8 537.4,366.3 537.9,369.6 538.5,367.8 539,366.1 539.6,367.3 540.1,364.8 540.7,370.2 541.2,368.8 541.8,367.2 542.3,365.1 542.9,366 543.4,367.9 544,366.5 544.5,369 545.1,366.6 545.6,365.9 546.2,364.3 546.7,362.9 547.3,367.8 547.8,366.2 548.4,364.5 548.9,368.3 549.5,364.8 550,366.6 550.6,367.8 551.1,369.1 551.7,368.9 552.2,366.8 552.8,369.5 553.3,365.9 553.9,363 554.4,361.9 555,365.8 555.5,366.9 556.1,368.2 556.6,365.4 557.2,362.7 557.7,363.3 558.3,367 558.8,368.6 559.4,362.7 559.9,366.8 560.5,367.7 561,366.5 561.6,365.5 562.1,364.6 562.7,363.2 563.2,363.9 563.8,363.4 564.3,366.2 564.9,366.2 565.4,365 566,365.7 566.5,366 567.1,366.6 567.6,364.4 568.2,365 568.7,364.8 569.3,363.5 569.8,365.5 570.4,362.7 570.9,365.2 571.5,362 572,364.4 572.6,367.2 573.1,366.7 573.7,365.3 574.2,364.2 574.8,365.5 575.3,361.7 575.9,362.3 576.4,362.5 577,362.3 577.5,362.4 578.1,363.2 578.6,364 579.2,362.3 579.7,364 580.3,363.3 580.8,364.9 581.4,364.2 581.9,362.1 582.5,361.1 583,367 583.6,364.7 584.1,360.3 584.7,358.8 585.2,361.9 585.8,360.8 586.3,362.5 586.9,360.9 587.4,362.5 588,362.9 588.5,360.5 589.1,361.2 589.6,361.6 590.2,364 590.7,359.9 591.3,360.3 591.8,359.9 592.4,361.2 592.9,364.2 593.5,363.2 594,357.9 594.6,360.7 595.1,362 595.7,360 596.2,359 596.8,361.9 597.3,359.7 597.9,360.4 598.4,361.2 599,358 599.5,362.3 600.1,361.3 600.6,362.1 601.2,360.6 601.7,362.8 602.3,363 602.8,363.1 603.4,363.3 603.9,360.1 604.5,360.1 605,359.6 605.6,362.9 606.1,362 606.7,361.2 607.2,361.1 607.8,362.3 608.3,361.6 608.9,361.7 609.4,362.1 610,359.3 610.5,359.4 611.1,360.7 611.6,359.1 612.2,361.7 612.7,364.4 613.3,361.7 613.8,361.4 614.4,360.5 614.9,361.5 615.5,362.2 616,362.2 616.6,362.2 617.1,360.7 617.7,362.2 618.2,362.4 618.8,363 619.3,363.1 619.9,360.3 620.4,360.1 621,360.7 621.5,362.7 622.1,360.6 622.6,363.7 623.2,362.7 623.7,362.4 624.3,364.3 624.8,361.9 625.4,361 625.9,361.5 626.5,360.9 627,359.9 627.6,360 628.1,357.7 628.7,363.2 629.2,360.2 629.8,358.3 630.3,359.1 630.9,359.7 631.4,358.6 632,358.4 632.5,356.7 633.1,359 633.6,361.9 634.2,362.3 634.7,362.1 635.3,360.1 635.8,360.3 636.4,362 636.9,363.5 637.5,360.4 638,361.4 638.6,363 639.1,361.2 639.7,359.4 640.2,359.4 640.8,359.1 641.3,356.7 641.9,358.1 642.4,357.2 643,357.3 643.5,354.7 644.1,356 644.6,356.6 645.2,357.3 645.7,356.6 646.3,360.5 646.8,360.8 647.4,362.9 647.9,360.6 648.5,361.6 649,360.3 649.6,358 650.1,357.1 650.7,358.4 651.2,356.7 651.8,357.9 652.3,355.6 652.9,359.1 653.4,356.2 654,358.2 654.5,359.4 655.1,358.6 655.6,360 656.2,361.9 656.7,357.8 657.3,355.4 657.8,358.7 658.4,359 658.9,358.4 659.5,359.5 660,358.1 660.6,359.5 661.1,357.6 661.7,355.5 662.2,354.3 662.8,357.4 663.3,357.6 663.9,358.7 664.4,356.1 665,357.8 665.5,354.7 666.1,357.3 666.6,358.2 667.2,356.1 667.7,358.1 668.3,357.7 668.8,357.1 669.4,355.6 669.9,354.2 670.5,359.2 671,357 671.6,354.3 672.1,356 672.7,353.8 673.2,351.4 673.8,353.1 674.3,355 674.9,355.5 675.4,355.9 676,355.8 676.5,357.3 677.1,357.1 677.6,353.7 678.2,355.9 678.7,354.4 679.3,352.1 679.8,353.3 680.4,353.6 680.9,357.1 681.5,356.2 682,354.2 682.6,355.7 683.1,354.3 683.7,353.7 684.2,355.2 684.8,354.9 685.3,356.1 685.9,354.4 686.4,355.4 687,356.7 687.5,355.4 688.1,356 688.6,358.7 689.2,356.4 689.7,354.2 690.3,352.9 690.8,356.2 691.4,356.1 691.9,355.6 692.5,353.4 693,356.2 693.6,355.1 694.1,357.2 694.7,355.3 695.2,353 695.8,355.6 696.3,354 696.9,353.2 697.4,352.9 698,351.4 698.5,351.3 699.1,350.3 699.6,354.3 700.2,353.2 700.7,354.7 701.3,355.6 701.8,356.9 702.4,355.2 702.9,357.8 703.5,352.4 704,353.1 704.6,354.5 705.1,352.7 705.7,356.5 706.2,355.9 706.8,352.7 707.3,352.1 707.9,354.6 708.4,355 709,357.5 709.5,354.9 710.1,351.4 710.6,355.1 711.2,355 711.7,354.9 712.3,353.8 712.8,355.7 713.4,351.8 713.9,353.5 714.5,354.6 715,353.2 715.6,355.2 716.1,356.3 716.7,356.2 717.2,355.7 717.8,355.1 718.3,356.1 718.9,356.3 719.4,357 720,355.2 720.5,356.9 721.1,355 721.6,356.2 722.2,355.9 722.7,355.6 723.3,354.8 723.8,354.7 724.4,352.1 724.9,352 725.5,353 726,354.8 726.6,352.2 727.1,351.3 727.7,351.3 728.2,357.3 728.8,355.3" fill="none" stroke="#E81E05" stroke-width="2.1" stroke-linejoin="round" style="mix-blend-mode:multiply"/>
<polyline points="73.2,422 73.8,423.2 74.3,422.7 74.8,421.9 75.4,423 75.9,419.8 76.5,419.8 77,419.9 77.6,421.3 78.1,421.5 78.7,422 79.2,423.2 79.8,424.3 80.3,424.1 80.9,422.3 81.4,423.8 82,422.9 82.5,425.8 83.1,425.1 83.6,423.7 84.2,423 84.7,421.2 85.3,422.3 85.8,420.7 86.4,422.8 86.9,419.5 87.5,419.6 88,425 88.6,426.1 89.1,426.3 89.7,420.8 90.2,419.5 90.8,419.1 91.3,418.5 91.9,421.8 92.4,421 93,422.4 93.5,421.8 94.1,421.1 94.6,425.9 95.2,425 95.7,421.8 96.3,424.7 96.8,422.3 97.4,422.2 97.9,425.2 98.5,422.3 99,422.2 99.6,422.1 100.1,425.7 100.7,427.4 101.2,424.8 101.8,426.9 102.3,421.8 102.9,422.1 103.4,424.9 104,423.1 104.5,423.5 105.1,423.5 105.6,424.3 106.2,423.8 106.7,420.5 107.3,421.3 107.8,420.9 108.4,423.2 108.9,419.8 109.5,419 110,424 110.6,423.8 111.1,427.3 111.7,424.4 112.2,418.5 112.8,423 113.3,423.2 113.9,422.3 114.4,420.2 115,421.5 115.5,423.3 116.1,423.5 116.6,423.1 117.2,423.9 117.7,423.4 118.3,421.1 118.8,422.6 119.4,423.5 119.9,426.4 120.5,424.1 121,421.2 121.6,424.2 122.1,424.5 122.7,422.3 123.2,420.3 123.8,424.6 124.3,420.1 124.9,420.1 125.4,421.3 126,418.8 126.5,419 127.1,419.8 127.6,417.9 128.2,415.3 128.7,415.2 129.3,415.9 129.8,418 130.4,414.6 130.9,417.8 131.5,414.4 132,417.2 132.6,419.6 133.1,419.5 133.7,417.3 134.2,420.4 134.8,421 135.3,420.4 135.9,419.3 136.4,419 137,419.5 137.5,424.1 138.1,422.3 138.6,421.5 139.2,419.6 139.7,420.2 140.3,419.3 140.8,418.1 141.4,419 141.9,418.2 142.5,418.8 143,418.5 143.6,417.1 144.1,418.7 144.7,419.2 145.2,413.2 145.8,415.4 146.3,416.2 146.9,416 147.4,418.4 148,416.8 148.5,414.9 149.1,412.5 149.6,414.8 150.2,410.9 150.7,411.6 151.3,410.9 151.8,410.8 152.4,410.7 152.9,408.8 153.5,407.8 154,409.2 154.6,408.1 155.1,411.7 155.7,411.1 156.2,408.6 156.8,411.1 157.3,411.2 157.9,412.6 158.4,416.1 159,418 159.5,414.2 160.1,416.7 160.6,416.7 161.2,420 161.7,420.2 162.3,417.6 162.8,416.2 163.4,417.2 163.9,418.1 164.5,418.4 165,423.8 165.6,421.9 166.1,422.5 166.7,419.4 167.2,421.1 167.8,419.4 168.3,416.9 168.9,418.1 169.4,421.7 170,431.2 170.5,425.9 171.1,419.8 171.6,416.3 172.2,414.1 172.7,418 173.3,419.6 173.8,419.8 174.4,417 174.9,416 175.5,418.2 176,417.1 176.6,417.4 177.1,418.6 177.7,419.7 178.2,416.7 178.8,416.6 179.3,417.3 179.9,415.8 180.4,418.1 181,415.2 181.5,416.8 182.1,415.7 182.6,418.3 183.2,417 183.7,415.1 184.3,415 184.8,413.1 185.4,415.9 185.9,415.3 186.5,414.8 187,415.8 187.6,416.2 188.1,414.5 188.7,412.5 189.2,415.8 189.8,415.6 190.3,414.9 190.9,415.8 191.4,414 192,416.6 192.5,414.2 193.1,413.2 193.6,413.4 194.2,412.4 194.7,412.3 195.3,412.7 195.8,411.2 196.4,412.6 196.9,412.2 197.5,415.4 198,412.3 198.6,410.3 199.1,409.2 199.7,411 200.2,411.2 200.8,409 201.3,411.2 201.9,407.5 202.4,407.2 203,407.8 203.5,408.6 204.1,407.2 204.6,410.6 205.2,411.2 205.7,409.5 206.3,408.6 206.8,407.9 207.4,407.6 207.9,408.7 208.5,409 209,408.3 209.6,406.3 210.1,403.4 210.7,401.8 211.2,404.5 211.8,402.3 212.3,402.8 212.9,405.8 213.4,405.3 214,404.7 214.5,404 215.1,404.5 215.6,404.5 216.2,401.4 216.7,399.6 217.3,399.4 217.8,400.4 218.4,404.5 218.9,402.1 219.5,400.9 220,401.9 220.6,401.7 221.1,398.5 221.7,394.5 222.2,401.3 222.8,398 223.3,396.3 223.9,398.5 224.4,394.9 225,394.5 225.5,392 226.1,395.1 226.6,392.7 227.2,393 227.7,394 228.3,392.2 228.8,395.7 229.4,392.1 229.9,387.8 230.5,390.2 231,390.8 231.6,390.7 232.1,387.3 232.7,386.1 233.2,386 233.8,387.3 234.3,385.4 234.9,386.9 235.4,386.1 236,385 236.5,381.6 237.1,378 237.6,379.9 238.2,382.4 238.7,382 239.3,378.2 239.8,379.4 240.4,378.2 240.9,378.2 241.5,374.8 242,373.6 242.6,374.3 243.1,376.7 243.7,374.5 244.2,374.2 244.8,375.9 245.3,372.9 245.9,371.6 246.4,370.5 247,373.2 247.5,371 248.1,368.4 248.6,368.8 249.2,370.2 249.7,371 250.3,372 250.8,373.6 251.4,372.7 251.9,371.1 252.5,368.2 253,371.3 253.6,373.6 254.1,374.1 254.7,374.7 255.2,373 255.8,374.9 256.3,371.6 256.9,371.4 257.4,371.3 258,376.4 258.5,378.6 259.1,379.9 259.6,383 260.2,379.4 260.7,381.6 261.3,381.9 261.8,382.1 262.4,385.6 262.9,385.4 263.5,384.8 264,388.4 264.6,388.1 265.1,389.2 265.7,391.9 266.2,391.2 266.8,391.2 267.3,393.2 267.9,396.2 268.4,391.9 269,396.7 269.5,397.5 270.1,397.2 270.6,397.7 271.2,395 271.7,397.3 272.3,399.6 272.8,399.1 273.4,394.9 273.9,397 274.5,396.5 275,396.7 275.6,397.3 276.1,401.2 276.7,404.2 277.2,402.4 277.8,404.3 278.3,402.2 278.9,402 279.4,405.1 280,408.1 280.5,407.7 281.1,401 281.6,402.7 282.2,404.6 282.7,405.5 283.3,403.9 283.8,410.1 284.4,404.2 284.9,405.7 285.5,404.9 286,405.8 286.6,407 287.1,406.3 287.7,407.8 288.2,405.2 288.8,405.7 289.3,408.5 289.9,406.6 290.4,409.2 291,408.5 291.5,407.3 292.1,409.2 292.6,408.7 293.2,413.1 293.7,411.8 294.3,414.2 294.8,410.5 295.4,412.9 295.9,411.8 296.5,413.5 297,410.8 297.6,413.2 298.1,415.7 298.7,411.4 299.2,409.7 299.8,414.4 300.3,410.1 300.9,410.3 301.4,409.4 302,407.4 302.5,408.6 303.1,409.5 303.6,406 304.2,410.6 304.7,410.4 305.3,405.5 305.8,408.1 306.4,412.9 306.9,408.8 307.5,409.1 308,413.5 308.6,405.6 309.1,409.8 309.7,412.3 310.2,412.9 310.8,407.2 311.3,408.9 311.9,407.6 312.4,410.1 313,410.1 313.5,407 314.1,406.3 314.6,403.4 315.2,404.2 315.7,404 316.3,404.2 316.8,403.5 317.4,401.9 317.9,402.6 318.5,401.5 319,401.6 319.6,399.8 320.1,402.9 320.7,403.3 321.2,403.1 321.8,398.6 322.3,399 322.9,397.8 323.4,397.8 324,398.4 324.5,398.9 325.1,395.7 325.6,399.1 326.2,398.8 326.7,398.5 327.3,394.8 327.8,394.7 328.4,394 328.9,392.1 329.5,390.9 330,391.2 330.6,389.8 331.1,388.2 331.7,389.5 332.2,390.1 332.8,391.8 333.3,393.6 333.9,388.9 334.4,389.9 335,390.9 335.5,388.3 336.1,388.6 336.6,389.5 337.2,389.3 337.7,391.2 338.3,393.6 338.8,395 339.4,392 339.9,390.6 340.5,392.8 341,391.6 341.6,391.5 342.1,393.3 342.7,391.2 343.2,395.1 343.8,393.7 344.3,395 344.9,394.4 345.4,396.5 346,395.9 346.5,394.8 347.1,397.2 347.6,400.9 348.2,399.3 348.7,403.2 349.3,407.4 349.8,406 350.4,408 350.9,407.3 351.5,409.9 352,409.2 352.6,406 353.1,408.5 353.7,413.1 354.2,412.7 354.8,412.1 355.3,414.2 355.9,412.4 356.4,417.9 357,415.5 357.5,417.9 358.1,418.7 358.6,418.3 359.2,416.8 359.7,419.1 360.3,420 360.8,420.5 361.4,417.7 361.9,420.3 362.5,421.2 363,422 363.6,422.4 364.1,421.7 364.7,420.4 365.2,423.1 365.8,421.7 366.3,421.7 366.9,423.5 367.4,427.3 368,426.7 368.5,427.5 369.1,425.4 369.6,424.8 370.2,425.9 370.7,426 371.3,426 371.8,426.4 372.4,425.2 372.9,425.3 373.5,425.4 374,428.4 374.6,426.4 375.1,426 375.7,427.2 376.2,427.6 376.8,427.7 377.3,423.3 377.9,424.6 378.4,424.8 379,425.1 379.5,426 380.1,427.3 380.6,426.9 381.2,425.2 381.7,425 382.3,422.6 382.8,423 383.4,427.2 383.9,426.3 384.5,423.3 385,424.4 385.6,425.8 386.1,426.5 386.7,423.9 387.2,424.4 387.8,427.9 388.3,430.7 388.9,428.2 389.4,424.7 390,424.3 390.5,424.2 391.1,425.1 391.6,427.7 392.2,430.1 392.7,424.1 393.3,425.4 393.8,426.8 394.4,426.2 394.9,426 395.5,426 396,429.1 396.6,428.4 397.1,426.2 397.7,430 398.2,429.6 398.8,425.5 399.3,424.3 399.9,426.2 400.4,427.5 401,424.9 401.5,428.5 402.1,428.3 402.6,429.1 403.2,425.2 403.7,423.4 404.3,426.4 404.8,426.4 405.4,429.2 405.9,426.1 406.5,427.4 407,422.5 407.6,423.6 408.1,426.6 408.7,422.5 409.2,424 409.8,425.4 410.3,427.5 410.9,430.6 411.4,426.3 412,425.1 412.5,429.7 413.1,431.7 413.6,428.5 414.2,426.9 414.7,428.5 415.3,429.4 415.8,425.8 416.4,429.4 416.9,425.3 417.5,425.8 418,423.1 418.6,427.9 419.1,428.8 419.7,429.3 420.2,426.3 420.8,427.8 421.3,425 421.9,426.9 422.4,430.1 423,429.4 423.5,426.6 424.1,429.8 424.6,427.3 425.2,427.1 425.7,429.2 426.3,425.9 426.8,427.6 427.4,427.7 427.9,425.5 428.5,426.8 429,427.7 429.6,428.3 430.1,428.2 430.7,429.8 431.2,429.3 431.8,427.6 432.3,427.5 432.9,428.8 433.4,426.1 434,428.4 434.5,426.9 435.1,427.3 435.6,424.4 436.2,428.1 436.7,425.2 437.3,426.7 437.8,426.8 438.4,429.3 438.9,428.2 439.5,429.5 440,427.9 440.6,426.7 441.1,428.9 441.7,426.5 442.2,423.8 442.8,422.9 443.3,427.3 443.9,428.3 444.4,426.8 445,428.9 445.5,430.6 446.1,428.8 446.6,426.8 447.2,432.1 447.7,428 448.3,428.5 448.8,426.6 449.4,423.3 449.9,425.6 450.5,425.2 451,428.2 451.6,427.6 452.1,426.6 452.7,429.5 453.2,427.2 453.8,424.9 454.3,424.7 454.9,424.1 455.4,423.8 456,427 456.5,426.4 457.1,427.8 457.6,428 458.2,424.6 458.7,425.7 459.3,425.1 459.8,425.3 460.4,429.2 460.9,431.1 461.5,430.3 462,424.5 462.6,428.4 463.1,429.2 463.7,430.6 464.2,427.6 464.8,424.6 465.3,424.1 465.9,428.2 466.4,430.3 467,430.4 467.5,427.3 468.1,428.3 468.6,429.3 469.2,427 469.7,429 470.3,427.5 470.8,427.4 471.4,426 471.9,428.8 472.5,426.3 473,428 473.6,425.4 474.1,425 474.7,425.9 475.2,428.5 475.8,427.7 476.3,427.7 476.9,428.4 477.4,429.1 478,428.5 478.5,428.2 479.1,427 479.6,430.1 480.2,425.3 480.7,424 481.3,426 481.8,427.4 482.4,426.4 482.9,428.6 483.5,425.8 484,425.3 484.6,428.6 485.1,425.5 485.7,428.5 486.2,427.9 486.8,428.3 487.3,427.6 487.9,428.4 488.4,429.3 489,425.7 489.5,424.4 490.1,428 490.6,427.3 491.2,425.5 491.7,429 492.3,426.7 492.8,427.9 493.4,426.7 493.9,427.9 494.5,424.8 495,424 495.6,428.2 496.1,425.5 496.7,429.4 497.2,431.6 497.8,428 498.3,428 498.9,429 499.4,427.3 500,429 500.5,426.7 501.1,425.9 501.6,429.9 502.2,430.4 502.7,427.7 503.3,426.5 503.8,427.7 504.4,429.1 504.9,429.3 505.5,429.7 506,427.6 506.6,427.7 507.1,427.7 507.7,430.8 508.2,430.7 508.8,427.6 509.3,427.8 509.9,428.9 510.4,428.5 511,427.8 511.5,428.9 512.1,428 512.6,427.5 513.2,430.4 513.7,427.2 514.3,428.7 514.8,428.1 515.4,427.6 515.9,426.7 516.5,428.3 517,429.9 517.6,427.7 518.1,427.8 518.7,428.6 519.2,427.3 519.8,426 520.3,426.8 520.9,430.2 521.4,425.8 522,426.1 522.5,425.6 523.1,426.9 523.6,424.9 524.2,427.2 524.7,424 525.3,428.7 525.8,427.2 526.4,429.6 526.9,426.7 527.5,426.2 528,427.3 528.6,427.7 529.1,426.7 529.7,429.2 530.2,427.4 530.8,426.6 531.3,426.4 531.9,425.7 532.4,429.9 533,428.4 533.5,428.7 534.1,426 534.6,425.1 535.2,425.7 535.7,424.9 536.3,427.2 536.8,428.2 537.4,429.2 537.9,425.5 538.5,430.4 539,430.4 539.6,428.8 540.1,429.1 540.7,428.5 541.2,427.9 541.8,427.3 542.3,429.2 542.9,425.6 543.4,422.8 544,422.8 544.5,423.7 545.1,425.2 545.6,428 546.2,426.7 546.7,425.4 547.3,429.9 547.8,429.8 548.4,429.5 548.9,427 549.5,428.3 550,429.6 550.6,425.4 551.1,424.9 551.7,423.9 552.2,427.2 552.8,426 553.3,425.6 553.9,424.1 554.4,426.8 555,427.1 555.5,428.1 556.1,430.3 556.6,429.2 557.2,428.9 557.7,426.8 558.3,425.7 558.8,425.8 559.4,425.6 559.9,428.3 560.5,427.7 561,426.3 561.6,423.8 562.1,426.9 562.7,424.4 563.2,426.9 563.8,427.9 564.3,425.2 564.9,424.2 565.4,425.6 566,428 566.5,425.5 567.1,425 567.6,425.1 568.2,427.3 568.7,429.2 569.3,430.1 569.8,430.8 570.4,425.9 570.9,424.7 571.5,427.3 572,429 572.6,428.2 573.1,425.2 573.7,424.2 574.2,422.6 574.8,426.8 575.3,426.7 575.9,427.3 576.4,427.2 577,426.3 577.5,426.8 578.1,429.7 578.6,430.8 579.2,428.4 579.7,428 580.3,427 580.8,427.6 581.4,426 581.9,428.4 582.5,427.8 583,428.5 583.6,424.7 584.1,424.4 584.7,426.3 585.2,430.2 585.8,424.9 586.3,425.1 586.9,425.8 587.4,424.5 588,426.3 588.5,425.8 589.1,426.6 589.6,426.7 590.2,424 590.7,426.2 591.3,424 591.8,427.6 592.4,426 592.9,427.3 593.5,428.6 594,430.5 594.6,425.6 595.1,424 595.7,425.7 596.2,425.4 596.8,426.4 597.3,426.8 597.9,426.2 598.4,429.4 599,422.9 599.5,423.5 600.1,426.8 600.6,424.7 601.2,427.3 601.7,424.4 602.3,426.8 602.8,429.7 603.4,426.8 603.9,428.4 604.5,424.4 605,425.8 605.6,424.7 606.1,428 606.7,427 607.2,426.5 607.8,422.6 608.3,426.1 608.9,427.7 609.4,428.3 610,427.6 610.5,427.5 611.1,426.6 611.6,429.4 612.2,427 612.7,427.2 613.3,425.5 613.8,429 614.4,428.3 614.9,427 615.5,423.8 616,421.6 616.6,424.9 617.1,425.1 617.7,428.2 618.2,424.7 618.8,423.8 619.3,425.8 619.9,425 620.4,424.9 621,423 621.5,421 622.1,426.3 622.6,427.2 623.2,427.9 623.7,424.3 624.3,424.3 624.8,425.8 625.4,425.2 625.9,423.7 626.5,424.8 627,426 627.6,424.9 628.1,427.1 628.7,428 629.2,427.8 629.8,426.8 630.3,424.3 630.9,420.5 631.4,427.3 632,425.8 632.5,427 633.1,427.3 633.6,428.5 634.2,427.2 634.7,425.6 635.3,424.4 635.8,421.8 636.4,421.3 636.9,423.5 637.5,421.6 638,424.8 638.6,424.9 639.1,424.9 639.7,422.9 640.2,423.3 640.8,424.6 641.3,424.2 641.9,426.2 642.4,423.3 643,422.3 643.5,424.6 644.1,425.8 644.6,426 645.2,424.6 645.7,424.8 646.3,426.1 646.8,426 647.4,421.9 647.9,422.7 648.5,424.6 649,422.8 649.6,422.6 650.1,423.1 650.7,424.9 651.2,423 651.8,424.5 652.3,423.4 652.9,419.9 653.4,419.7 654,418.4 654.5,422.6 655.1,420.1 655.6,425.5 656.2,424.8 656.7,422.3 657.3,422.3 657.8,424 658.4,425.7 658.9,421.7 659.5,421.9 660,422.8 660.6,423.8 661.1,422.4 661.7,421.1 662.2,423.7 662.8,417.5 663.3,424.2 663.9,425.6 664.4,424.4 665,421.1 665.5,419.3 666.1,421 666.6,420.9 667.2,419.6 667.7,420.3 668.3,422.4 668.8,420 669.4,419.8 669.9,421 670.5,420.4 671,421 671.6,423.1 672.1,421.5 672.7,422.7 673.2,425 673.8,422.9 674.3,422.1 674.9,422.8 675.4,426.3 676,420.4 676.5,422.7 677.1,419.5 677.6,420.2 678.2,420.1 678.7,422.8 679.3,422.9 679.8,423.9 680.4,422.8 680.9,425.1 681.5,425 682,420.4 682.6,419.1 683.1,419.7 683.7,422.2 684.2,424.3 684.8,421.1 685.3,422.5 685.9,423.4 686.4,425.6 687,421.9 687.5,424.8 688.1,423 688.6,422.4 689.2,421.5 689.7,421.4 690.3,421 690.8,425.5 691.4,418.7 691.9,417.6 692.5,419.4 693,422.8 693.6,420.4 694.1,425 694.7,423.5 695.2,425.4 695.8,425.4 696.3,422.7 696.9,421.9 697.4,421.8 698,421.9 698.5,423.9 699.1,423.8 699.6,422 700.2,419 700.7,421.3 701.3,425.8 701.8,422.6 702.4,422.5 702.9,419.9 703.5,417.7 704,421.4 704.6,419.5 705.1,423.3 705.7,423 706.2,420.8 706.8,422.5 707.3,423.1 707.9,423.9 708.4,420.6 709,422.4 709.5,421.5 710.1,422.9 710.6,425.1 711.2,420.3 711.7,421.9 712.3,420 712.8,420.4 713.4,424.3 713.9,422.6 714.5,421.7 715,423.3 715.6,421.9 716.1,420.7 716.7,420.5 717.2,419.5 717.8,421.4 718.3,419.8 718.9,420 719.4,421.8 720,421 720.5,426.4 721.1,421.1 721.6,422.4 722.2,423.9 722.7,423 723.3,424.5 723.8,422.8 724.4,421.3 724.9,418.5 725.5,422.7 726,423.1 726.6,423.1 727.1,422.3 727.7,424.4 728.2,424.4 728.8,425.6" fill="none" stroke="#8C0B05" stroke-width="2.1" stroke-linejoin="round" style="mix-blend-mode:multiply"/>
<polyline points="73.2,472.1 73.8,467 74.3,468.2 74.8,470.8 75.4,467.7 75.9,468.6 76.5,468.1 77,472.3 77.6,469.8 78.1,471.9 78.7,469.9 79.2,473.2 79.8,470.2 80.3,468.7 80.9,470.3 81.4,477.9 82,473.9 82.5,468.8 83.1,468.3 83.6,479.6 84.2,474.8 84.7,473.7 85.3,474.4 85.8,479 86.4,477.8 86.9,479 87.5,475.7 88,472.8 88.6,474.1 89.1,473.1 89.7,469.5 90.2,466.4 90.8,475.1 91.3,478.1 91.9,477.9 92.4,477.6 93,476.5 93.5,472.1 94.1,470.3 94.6,471.2 95.2,471.8 95.7,471.4 96.3,469.8 96.8,475.3 97.4,477.2 97.9,481.1 98.5,482.9 99,476.4 99.6,477.9 100.1,476.5 100.7,477.4 101.2,483.1 101.8,484.1 102.3,480.9 102.9,481.5 103.4,480.5 104,477.7 104.5,476.7 105.1,474.8 105.6,481.3 106.2,475.9 106.7,475.7 107.3,476.4 107.8,474.7 108.4,481.7 108.9,481.1 109.5,472.2 110,473 110.6,479.3 111.1,477.1 111.7,478.6 112.2,479.5 112.8,479.6 113.3,477 113.9,478.2 114.4,479.1 115,476.5 115.5,479.3 116.1,479.6 116.6,480.4 117.2,482 117.7,479.9 118.3,476.3 118.8,481.2 119.4,481.6 119.9,476.9 120.5,475.1 121,479 121.6,480.8 122.1,474.1 122.7,475.4 123.2,473.4 123.8,475.1 124.3,477.1 124.9,481.3 125.4,474.1 126,478.8 126.5,478.5 127.1,480.8 127.6,476 128.2,474.3 128.7,475.6 129.3,473.9 129.8,477.3 130.4,474.2 130.9,477.4 131.5,473.6 132,469.4 132.6,473.5 133.1,471.1 133.7,472.6 134.2,473.1 134.8,475.7 135.3,471.1 135.9,477.9 136.4,479.3 137,477.7 137.5,473.8 138.1,471.9 138.6,473.7 139.2,472.7 139.7,474.8 140.3,476.6 140.8,477.9 141.4,476.6 141.9,472.6 142.5,479.7 143,482.5 143.6,475 144.1,473.8 144.7,481.3 145.2,481.4 145.8,477.4 146.3,477.4 146.9,470.6 147.4,472.1 148,476.2 148.5,467.3 149.1,471.5 149.6,467.6 150.2,474.6 150.7,467.4 151.3,464.2 151.8,464.6 152.4,464.3 152.9,466.6 153.5,470.1 154,463.1 154.6,463.1 155.1,465.7 155.7,462.1 156.2,466.5 156.8,467.9 157.3,469.2 157.9,468.9 158.4,471.6 159,475.1 159.5,472.3 160.1,476 160.6,474.7 161.2,469.1 161.7,476.7 162.3,476.7 162.8,479.9 163.4,475.7 163.9,475.9 164.5,474.2 165,471.1 165.6,475.1 166.1,480.6 166.7,478.3 167.2,476 167.8,474.2 168.3,471.5 168.9,475.2 169.4,480.9 170,490.7 170.5,480.1 171.1,473.8 171.6,472.3 172.2,479.2 172.7,479.7 173.3,477.7 173.8,473.2 174.4,473.7 174.9,478.4 175.5,479.9 176,483.7 176.6,481.9 177.1,478.3 177.7,476.5 178.2,470.1 178.8,476 179.3,470.1 179.9,472.9 180.4,473 181,476.1 181.5,476.9 182.1,477.7 182.6,479.2 183.2,475.4 183.7,476.4 184.3,475.8 184.8,471.5 185.4,474.7 185.9,472.4 186.5,473.9 187,475.3 187.6,472.1 188.1,468.9 188.7,473.8 189.2,471.2 189.8,471 190.3,473.7 190.9,469.9 191.4,470.5 192,471.8 192.5,467.5 193.1,466.7 193.6,468.5 194.2,472.1 194.7,465 195.3,469.7 195.8,471.7 196.4,468.2 196.9,467.8 197.5,463 198,468.5 198.6,466.2 199.1,467.9 199.7,463.7 200.2,469 200.8,465.7 201.3,466.1 201.9,468.9 202.4,467.9 203,464.1 203.5,465.4 204.1,467.1 204.6,466 205.2,465.6 205.7,464.3 206.3,463.8 206.8,463.9 207.4,461.5 207.9,464.5 208.5,465.9 209,463 209.6,461.6 210.1,461.4 210.7,460.5 211.2,462.6 211.8,464.7 212.3,464.8 212.9,465.7 213.4,460.4 214,464 214.5,461.5 215.1,461.4 215.6,459.3 216.2,457.8 216.7,458.2 217.3,456.5 217.8,455.9 218.4,453.5 218.9,460.2 219.5,463.9 220,461.7 220.6,454.7 221.1,457.2 221.7,462.3 222.2,455.6 222.8,461.1 223.3,459.8 223.9,450.7 224.4,455.9 225,456.6 225.5,455 226.1,450.4 226.6,451.8 227.2,458.8 227.7,454 228.3,449.3 228.8,453.4 229.4,453.5 229.9,450.8 230.5,453.6 231,450.5 231.6,450.3 232.1,448.2 232.7,453.3 233.2,451.4 233.8,447.6 234.3,453.7 234.9,452.3 235.4,449.6 236,451.5 236.5,446.7 237.1,446.6 237.6,446.1 238.2,449.3 238.7,446.7 239.3,447.7 239.8,446.8 240.4,445.9 240.9,442.9 241.5,444.8 242,437.6 242.6,438.3 243.1,435.1 243.7,441.1 244.2,443.2 244.8,437.8 245.3,439.9 245.9,436.7 246.4,441.2 247,438 247.5,444.8 248.1,444.1 248.6,444.4 249.2,439.7 249.7,434.2 250.3,436.2 250.8,438.4 251.4,439.2 251.9,438.6 252.5,438.5 253,438.4 253.6,447.6 254.1,443.2 254.7,441.8 255.2,436 255.8,443.4 256.3,443.5 256.9,443.4 257.4,443.3 258,443.7 258.5,450.4 259.1,447.9 259.6,454.6 260.2,455.5 260.7,452 261.3,448.1 261.8,453.9 262.4,452.9 262.9,452.4 263.5,455.3 264,460.3 264.6,450.5 265.1,450.2 265.7,451.5 266.2,459.3 266.8,456.9 267.3,461 267.9,464 268.4,458.8 269,458.5 269.5,459.3 270.1,460.7 270.6,459.8 271.2,461 271.7,454.6 272.3,456.3 272.8,455.4 273.4,462.2 273.9,459.8 274.5,458.3 275,459.9 275.6,463.9 276.1,467.7 276.7,461.1 277.2,461.5 277.8,465.9 278.3,462.3 278.9,467.6 279.4,464.8 280,471.2 280.5,469.4 281.1,467.4 281.6,464.7 282.2,461.7 282.7,464.1 283.3,471.4 283.8,464.3 284.4,467.3 284.9,467.2 285.5,469.4 286,468.2 286.6,469.4 287.1,468.5 287.7,473.3 288.2,469.9 288.8,468.8 289.3,475.9 289.9,472.9 290.4,474.1 291,470.3 291.5,469.7 292.1,472.3 292.6,470.2 293.2,470.9 293.7,469.4 294.3,471 294.8,469.4 295.4,472.1 295.9,466.1 296.5,471.5 297,473.2 297.6,472.2 298.1,478.4 298.7,475.5 299.2,477.3 299.8,476.9 300.3,473.6 300.9,470 301.4,469.5 302,470.7 302.5,468.6 303.1,470.1 303.6,470.8 304.2,468 304.7,470.3 305.3,468 305.8,474.2 306.4,468.7 306.9,470 307.5,468.2 308,461.6 308.6,461.8 309.1,465.1 309.7,464.8 310.2,471.7 310.8,467.9 311.3,469.2 311.9,468.3 312.4,467.3 313,467.2 313.5,468.5 314.1,468.4 314.6,462.7 315.2,465 315.7,463.9 316.3,464.9 316.8,463.8 317.4,465.8 317.9,460.7 318.5,459.8 319,466 319.6,464.5 320.1,467.3 320.7,465.9 321.2,462.7 321.8,465.4 322.3,463.6 322.9,460.8 323.4,465 324,459.9 324.5,463.4 325.1,462.1 325.6,456.7 326.2,458.6 326.7,455.6 327.3,455.8 327.8,458.1 328.4,461.9 328.9,454.1 329.5,459 330,459.3 330.6,460.8 331.1,459.6 331.7,462.5 332.2,461.6 332.8,458.5 333.3,450.3 333.9,452.9 334.4,454.9 335,455.3 335.5,452.7 336.1,457.7 336.6,455.1 337.2,451.3 337.7,454.7 338.3,450.3 338.8,453.7 339.4,454.6 339.9,454.7 340.5,456.7 341,453.8 341.6,453.1 342.1,451.6 342.7,455.8 343.2,451.6 343.8,454.6 344.3,460.8 344.9,466.9 345.4,461.3 346,464 346.5,462.2 347.1,461.5 347.6,463 348.2,462.9 348.7,458.9 349.3,461 349.8,461.9 350.4,462.7 350.9,463.6 351.5,466.4 352,465.6 352.6,467.5 353.1,466 353.7,466 354.2,466 354.8,464.7 355.3,465.8 355.9,471.2 356.4,473.4 357,470.5 357.5,475.4 358.1,474.5 358.6,473.9 359.2,470.4 359.7,469.6 360.3,470.9 360.8,475.4 361.4,473.9 361.9,476.4 362.5,475.6 363,478.5 363.6,481.3 364.1,478.8 364.7,474.6 365.2,477.1 365.8,476.8 366.3,479.8 366.9,480.4 367.4,476.4 368,478 368.5,481 369.1,483.6 369.6,482.7 370.2,481.1 370.7,481 371.3,486.2 371.8,480.9 372.4,483.9 372.9,481.8 373.5,483.6 374,482.7 374.6,485.4 375.1,479.3 375.7,479.9 376.2,485.5 376.8,484.4 377.3,480.5 377.9,484 378.4,482.5 379,486.8 379.5,482 380.1,484.7 380.6,484.2 381.2,481.7 381.7,478.9 382.3,484.7 382.8,488.2 383.4,486.3 383.9,478.1 384.5,483 385,491.6 385.6,482.6 386.1,477.8 386.7,482 387.2,483.7 387.8,482.9 388.3,484.4 388.9,488.5 389.4,480.8 390,490.2 390.5,489.6 391.1,491.4 391.6,485.3 392.2,484.9 392.7,480.7 393.3,481.9 393.8,482.5 394.4,477.5 394.9,478 395.5,482.8 396,480.5 396.6,483.3 397.1,486.5 397.7,484.4 398.2,480.4 398.8,478.9 399.3,479.2 399.9,482.9 400.4,488.6 401,484.5 401.5,483.3 402.1,483 402.6,490.2 403.2,489.6 403.7,486.1 404.3,475 404.8,485.5 405.4,486.8 405.9,484.9 406.5,480.5 407,485.5 407.6,490.7 408.1,479.4 408.7,485.3 409.2,484 409.8,486.1 410.3,480 410.9,484.2 411.4,482.3 412,481.1 412.5,489 413.1,482.9 413.6,484.1 414.2,491 414.7,488.1 415.3,484 415.8,477.5 416.4,476.1 416.9,479.9 417.5,477.8 418,482 418.6,484.9 419.1,486.1 419.7,479.9 420.2,481.9 420.8,483 421.3,486.7 421.9,483.7 422.4,483.5 423,479.7 423.5,484.3 424.1,484.7 424.6,482.2 425.2,484 425.7,483 426.3,487.8 426.8,489.1 427.4,484.7 427.9,484.2 428.5,483.9 429,491.7 429.6,489.2 430.1,486.2 430.7,485.5 431.2,480.7 431.8,483.4 432.3,484 432.9,483 433.4,484.4 434,486.3 434.5,482.6 435.1,485.2 435.6,481.5 436.2,489 436.7,488.1 437.3,479.6 437.8,482.8 438.4,483 438.9,491.9 439.5,488.2 440,490.1 440.6,488.5 441.1,492.5 441.7,489.6 442.2,484.3 442.8,485.5 443.3,483.8 443.9,484.1 444.4,483.1 445,484.2 445.5,490.3 446.1,489.3 446.6,486.1 447.2,484.5 447.7,486.7 448.3,487.6 448.8,488.8 449.4,487.4 449.9,484.8 450.5,488.6 451,487.5 451.6,491.2 452.1,489.6 452.7,493.2 453.2,489.7 453.8,484.2 454.3,485.3 454.9,486 455.4,486.2 456,480.5 456.5,483.8 457.1,485.8 457.6,492.1 458.2,486.8 458.7,484.8 459.3,488.6 459.8,491.5 460.4,491.2 460.9,489.8 461.5,489.9 462,486.1 462.6,482.6 463.1,483 463.7,492.9 464.2,490.5 464.8,483.7 465.3,487.1 465.9,484.3 466.4,487.9 467,490.7 467.5,485.2 468.1,480.8 468.6,486.3 469.2,486.7 469.7,483.5 470.3,478.3 470.8,483.8 471.4,482.7 471.9,486.8 472.5,485.5 473,485.4 473.6,482.6 474.1,482.3 474.7,486.7 475.2,490.7 475.8,490.9 476.3,481.6 476.9,482.1 477.4,482.6 478,482.4 478.5,478.4 479.1,480.8 479.6,478.5 480.2,486.6 480.7,484.8 481.3,490.3 481.8,487.6 482.4,484.9 482.9,485.8 483.5,485.2 484,491.4 484.6,489.9 485.1,482.9 485.7,485.3 486.2,488.7 486.8,486.3 487.3,488.1 487.9,485.2 488.4,482 489,482.1 489.5,484.8 490.1,485.7 490.6,484.7 491.2,478.6 491.7,486.5 492.3,483.6 492.8,483.2 493.4,481.3 493.9,485.9 494.5,483.9 495,487 495.6,485.6 496.1,485.1 496.7,482.8 497.2,480.2 497.8,486.6 498.3,485.3 498.9,488.6 499.4,492.5 500,483.9 500.5,486.2 501.1,484.3 501.6,481.6 502.2,480.8 502.7,485.1 503.3,489.7 503.8,483.8 504.4,483.6 504.9,483.3 505.5,480.5 506,485.5 506.6,485.2 507.1,483.6 507.7,482.2 508.2,482 508.8,483.6 509.3,477 509.9,484.3 510.4,482.2 511,482.8 511.5,482.4 512.1,479.4 512.6,484.8 513.2,481.9 513.7,482 514.3,482.9 514.8,476.3 515.4,485.6 515.9,486.4 516.5,476.3 517,481.2 517.6,478.7 518.1,484 518.7,478.5 519.2,481 519.8,480 520.3,483 520.9,483 521.4,481.9 522,483 522.5,485 523.1,484.5 523.6,490.8 524.2,482.2 524.7,480 525.3,485.5 525.8,480.6 526.4,483 526.9,487.8 527.5,479.5 528,484.9 528.6,490.1 529.1,484.9 529.7,477 530.2,476 530.8,477.9 531.3,487.5 531.9,485.9 532.4,483.1 533,485.1 533.5,484.6 534.1,482.6 534.6,478.9 535.2,487.4 535.7,486 536.3,482.3 536.8,482.8 537.4,483.6 537.9,490.2 538.5,485.3 539,483.3 539.6,482.4 540.1,485.2 540.7,485.5 541.2,480.6 541.8,485.6 542.3,479 542.9,483.3 543.4,487 544,480 544.5,482 545.1,477.8 545.6,483.6 546.2,483.1 546.7,485.3 547.3,482.8 547.8,480.5 548.4,477.3 548.9,483.1 549.5,482.1 550,480.8 550.6,475.4 551.1,481.1 551.7,484.9 552.2,483.5 552.8,480.9 553.3,481.4 553.9,488.6 554.4,485.2 555,480.6 555.5,486.7 556.1,482.5 556.6,475.8 557.2,480.6 557.7,485.4 558.3,481.4 558.8,480.5 559.4,488.5 559.9,482.3 560.5,483.4 561,482.4 561.6,485.9 562.1,483.8 562.7,480.8 563.2,487.2 563.8,483.9 564.3,483.2 564.9,484.8 565.4,479.1 566,480.5 566.5,482.5 567.1,483.6 567.6,480.1 568.2,479.2 568.7,480.1 569.3,479.9 569.8,483.2 570.4,484.8 570.9,483.7 571.5,481.3 572,482.5 572.6,480.4 573.1,476.1 573.7,485.2 574.2,479.8 574.8,478.2 575.3,481.3 575.9,475.7 576.4,474.2 577,474.2 577.5,475.4 578.1,486.2 578.6,482.1 579.2,485.7 579.7,484.6 580.3,482.5 580.8,485 581.4,478.3 581.9,478 582.5,477.7 583,482.3 583.6,479 584.1,480.9 584.7,476.4 585.2,476 585.8,476.6 586.3,481.5 586.9,479.1 587.4,484.8 588,483.7 588.5,480.8 589.1,483.8 589.6,484.8 590.2,474.3 590.7,481 591.3,488.8 591.8,487.5 592.4,481.8 592.9,475.1 593.5,473.3 594,473.3 594.6,477.4 595.1,481.1 595.7,476.8 596.2,486.1 596.8,483.4 597.3,486 597.9,481.4 598.4,487.8 599,486 599.5,484.8 600.1,479.9 600.6,476.9 601.2,487.9 601.7,481.6 602.3,482.5 602.8,484.9 603.4,481 603.9,481.6 604.5,483.6 605,485.1 605.6,488.4 606.1,482 606.7,483.9 607.2,486.1 607.8,481.3 608.3,477.8 608.9,481 609.4,487.4 610,485.5 610.5,478.1 611.1,478.4 611.6,479.6 612.2,477.8 612.7,484 613.3,487.4 613.8,485.6 614.4,486.5 614.9,488.3 615.5,487.3 616,483.3 616.6,479.5 617.1,477.4 617.7,484.2 618.2,478 618.8,477.9 619.3,475.6 619.9,477.5 620.4,481.5 621,476.8 621.5,479.4 622.1,475.3 622.6,476.1 623.2,475.9 623.7,480.9 624.3,484.5 624.8,480.3 625.4,480.9 625.9,475.6 626.5,474.6 627,478.3 627.6,480.4 628.1,480.2 628.7,482.1 629.2,478.3 629.8,477.2 630.3,480.8 630.9,477.3 631.4,476.8 632,477.1 632.5,479.6 633.1,476.5 633.6,483.1 634.2,484.6 634.7,480.8 635.3,475.8 635.8,487.8 636.4,482.2 636.9,485.4 637.5,482.8 638,481.7 638.6,482.7 639.1,480.7 639.7,483 640.2,483.1 640.8,479.4 641.3,478.9 641.9,479.8 642.4,484.7 643,483.9 643.5,484 644.1,480.2 644.6,480.4 645.2,481.4 645.7,475.6 646.3,478.5 646.8,475.6 647.4,476.2 647.9,475 648.5,481.4 649,479.3 649.6,474.3 650.1,477 650.7,478.7 651.2,479.7 651.8,477.7 652.3,476.6 652.9,477 653.4,480 654,481.7 654.5,487.6 655.1,483.7 655.6,483.5 656.2,480.2 656.7,480.4 657.3,479.7 657.8,481 658.4,477.3 658.9,476.5 659.5,473.1 660,472.1 660.6,477.2 661.1,482.9 661.7,480.9 662.2,478.3 662.8,474.1 663.3,475.5 663.9,477.5 664.4,476.6 665,480.2 665.5,479.7 666.1,483.6 666.6,482 667.2,483.9 667.7,480.7 668.3,475.2 668.8,475.4 669.4,474.2 669.9,484.7 670.5,480 671,478.2 671.6,477.3 672.1,480.7 672.7,476.7 673.2,481.7 673.8,483.2 674.3,484.6 674.9,480 675.4,480.2 676,481 676.5,478.9 677.1,480 677.6,478 678.2,480.2 678.7,477.3 679.3,480.5 679.8,481.7 680.4,483.3 680.9,479.2 681.5,479.5 682,481 682.6,481.5 683.1,476.8 683.7,472 684.2,480.6 684.8,474.5 685.3,481.5 685.9,477.3 686.4,473.6 687,474.3 687.5,474.7 688.1,484 688.6,479.1 689.2,479.5 689.7,476.2 690.3,474.8 690.8,477.7 691.4,476.9 691.9,477.3 692.5,482.5 693,482.1 693.6,481 694.1,484.2 694.7,482.8 695.2,480 695.8,474.6 696.3,480.5 696.9,476.7 697.4,480.1 698,480.6 698.5,481.1 699.1,479.1 699.6,474.2 700.2,478.5 700.7,480.8 701.3,475.7 701.8,475.7 702.4,479.8 702.9,480.7 703.5,479.5 704,480.5 704.6,477.6 705.1,474.3 705.7,472.5 706.2,477.2 706.8,473.3 707.3,471.5 707.9,475.9 708.4,476.9 709,484.7 709.5,478.5 710.1,479.9 710.6,476.8 711.2,477.5 711.7,471.1 712.3,477.3 712.8,479.7 713.4,474.2 713.9,481.4 714.5,482.3 715,484.7 715.6,483.6 716.1,479.3 716.7,478.6 717.2,479.7 717.8,478.2 718.3,480.5 718.9,484.4 719.4,485.5 720,483.5 720.5,483.7 721.1,480.7 721.6,483.2 722.2,483.2 722.7,481 723.3,477.4 723.8,481.5 724.4,477.1 724.9,478.9 725.5,473.9 726,478.9 726.6,482.7 727.1,477.3 727.7,479.6 728.2,477.9 728.8,475.4" fill="none" stroke="#3A0606" stroke-width="2.1" stroke-linejoin="round" style="mix-blend-mode:multiply"/>
<path d="M72.2 516 H734.5" stroke="#000" stroke-width="2" fill="none"/>
<path d="M73.2 516V526.5M205.2 516V526.5M337.3 516V526.5M469.4 516V526.5M601.4 516V526.5M733.5 516V526.5M139.2 516V521.3M271.3 516V521.3M403.3 516V521.3M535.4 516V521.3M667.4 516V521.3" stroke="#000" stroke-width="2" fill="none"/>
<text x="74.2" y="558" font-size="30.1" text-anchor="middle">800</text>
<text x="206" y="558" font-size="30.1" text-anchor="middle">1200</text>
<text x="337.8" y="558" font-size="30.1" text-anchor="middle">1600</text>
<text x="469.6" y="558" font-size="30.1" text-anchor="middle">2000</text>
<text x="601.4" y="558" font-size="30.1" text-anchor="middle">2400</text>
<text x="733.2" y="558" font-size="30.1" text-anchor="middle">2800</text>
<text x="257.8" y="611" font-size="36.7" xml:space="preserve">Raman  shift (cm<tspan font-size="23" dy="-11.5">-1</tspan><tspan dy="11.5">)</tspan></text>
<text x="-0.6" y="23.4" font-size="33" font-weight="bold">a</text>
<text x="248" y="48.6" font-size="30.5" text-anchor="middle">D</text>
<text x="334.6" y="48.6" font-size="30.5" text-anchor="middle">G</text>
<text x="115.6" y="100.6" font-size="30.5">SO<tspan font-size="21.5" dy="7.8">4</tspan><tspan font-size="21.5" dy="-17.4">2-</tspan></text>
<text x="763.4" y="187" font-size="27">-0.3</text>
<text x="832" y="187" font-size="27">V</text>
<text x="763.4" y="248.7" font-size="27">-0.25</text>
<text x="832" y="248.7" font-size="27">V</text>
<text x="763.4" y="310.3" font-size="27">-0.2</text>
<text x="832" y="310.3" font-size="27">V</text>
<text x="763.4" y="369.8" font-size="27">-0.15</text>
<text x="832" y="369.8" font-size="27">V</text>
<text x="763.4" y="429.6" font-size="27">-0.1</text>
<text x="832" y="429.6" font-size="27">V</text>
<text x="787.6" y="484.5" font-size="27">0</text>
<text x="832" y="484.5" font-size="27">V</text>
<path d="M884.3 486.5V160" stroke="#000" stroke-width="2.9" stroke-dasharray="13.6 6.5" fill="none"/>
<path d="M884.3 146.5L891.2 160.2H877.4Z" fill="#000"/>
</g>
<g id="panel-b">
<rect x="1138.3" y="109.3" width="43.5" height="407.5" fill="#dbe8fc"/>
<rect x="1230.2" y="52" width="148.8" height="464.8" fill="#f2f2f2"/>
<rect x="1582.6" y="137.9" width="43.8" height="373.7" fill="#edf6e6"/>
<polyline points="1084,146.7 1084.6,146.9 1085.2,153.4 1085.9,142.5 1086.5,151.1 1087.1,139.8 1087.7,145.6 1088.3,147.1 1089,155.2 1089.6,151.2 1090.2,147 1090.8,157.3 1091.4,161.4 1092.1,150 1092.7,155.1 1093.3,150.4 1093.9,152.9 1094.5,154.4 1095.2,146.6 1095.8,152.4 1096.4,147.9 1097,147.5 1097.6,150.7 1098.3,143.3 1098.9,144.5 1099.5,154.6 1100.1,159.6 1100.7,162.2 1101.4,155.8 1102,160.8 1102.6,167 1103.2,166.4 1103.8,152.1 1104.5,146.5 1105.1,157.1 1105.7,167.7 1106.3,159 1106.9,163.1 1107.6,160.1 1108.2,159.1 1108.8,159.2 1109.4,158.7 1110,154.8 1110.7,166.3 1111.3,164 1111.9,155 1112.5,154.2 1113.1,149.6 1113.8,156.8 1114.4,147.8 1115,151.6 1115.6,158.4 1116.2,158.9 1116.9,159 1117.5,149.2 1118.1,157.4 1118.7,154.4 1119.3,161.7 1120,154.6 1120.6,163.6 1121.2,158.9 1121.8,162.2 1122.4,153.4 1123.1,151.8 1123.7,151.7 1124.3,159.4 1124.9,153.5 1125.5,154 1126.2,161.4 1126.8,159.8 1127.4,155.3 1128,157.4 1128.6,145 1129.3,146.2 1129.9,156.6 1130.5,170.9 1131.1,171.2 1131.7,171.4 1132.4,165.4 1133,157 1133.6,163.9 1134.2,153.3 1134.8,144.9 1135.5,157.2 1136.1,164.6 1136.7,164.9 1137.3,169.7 1137.9,166.7 1138.6,163.6 1139.2,154.3 1139.8,155.6 1140.4,148.2 1141,148.7 1141.7,159.2 1142.3,150.5 1142.9,147.8 1143.5,140.3 1144.1,156.7 1144.8,135.8 1145.4,137.1 1146,148.6 1146.6,142.8 1147.2,141.9 1147.9,149.4 1148.5,155.2 1149.1,153.9 1149.7,145.9 1150.3,153.2 1151,144.4 1151.6,144 1152.2,143.6 1152.8,150.8 1153.4,148.6 1154.1,144.4 1154.7,148.3 1155.3,142.8 1155.9,143.6 1156.5,144 1157.2,141.9 1157.8,138.1 1158.4,134.9 1159,146.3 1159.6,130.8 1160.3,139 1160.9,133.9 1161.5,131.9 1162.1,124.3 1162.7,130.9 1163.4,128.6 1164,136 1164.6,127.8 1165.2,118.5 1165.8,118.5 1166.5,128.8 1167.1,128.6 1167.7,123.1 1168.3,133.2 1168.9,129.4 1169.6,127.5 1170.2,135.3 1170.8,129.1 1171.4,136.8 1172,134.3 1172.7,146.2 1173.3,152.4 1173.9,152.5 1174.5,160.4 1175.1,152.6 1175.8,158.8 1176.4,155.2 1177,149 1177.6,157.7 1178.2,165.6 1178.9,169.6 1179.5,161.2 1180.1,159.8 1180.7,166.3 1181.3,152.6 1182,163.5 1182.6,148.6 1183.2,147.7 1183.8,152.6 1184.4,152.9 1185.1,160.4 1185.7,150.9 1186.3,153.6 1186.9,152.9 1187.5,155.4 1188.2,158.3 1188.8,160.6 1189.4,157.5 1190,156.8 1190.6,154.5 1191.3,144.7 1191.9,140.5 1192.5,151.3 1193.1,144 1193.7,145.2 1194.4,150.8 1195,148.7 1195.6,142.9 1196.2,143.6 1196.8,148.1 1197.5,156.9 1198.1,141.3 1198.7,145.1 1199.3,152.6 1199.9,150.3 1200.6,144.7 1201.2,146.6 1201.8,149 1202.4,152.8 1203,139.1 1203.7,139.6 1204.3,145.9 1204.9,148.2 1205.5,147.6 1206.1,148.2 1206.8,150.8 1207.4,149 1208,158.8 1208.6,144.8 1209.2,142.5 1209.9,135.8 1210.5,145.3 1211.1,145.5 1211.7,143.2 1212.3,137 1213,152.5 1213.6,147.6 1214.2,148.4 1214.8,136.3 1215.4,142.4 1216.1,144.5 1216.7,151.6 1217.3,146.7 1217.9,147.9 1218.5,133.1 1219.2,136.3 1219.8,137.9 1220.4,136.3 1221,133.8 1221.6,131.9 1222.3,139.2 1222.9,129.8 1223.5,133 1224.1,132.1 1224.7,124.7 1225.4,124.3 1226,108.9 1226.6,113.6 1227.2,123.1 1227.8,114.9 1228.5,102.1 1229.1,117.2 1229.7,107 1230.3,118.3 1230.9,112.6 1231.6,103.4 1232.2,103.7 1232.8,115.6 1233.4,110.1 1234,106.5 1234.7,106.2 1235.3,103.6 1235.9,99.6 1236.5,104.9 1237.1,110.1 1237.8,103 1238.4,108.7 1239,106.7 1239.6,90.7 1240.2,98.2 1240.9,102.7 1241.5,84.2 1242.1,86.6 1242.7,91.8 1243.3,84.4 1244,86.1 1244.6,83.3 1245.2,77.6 1245.8,79.1 1246.4,76.3 1247.1,76.1 1247.7,74.6 1248.3,69.2 1248.9,65.8 1249.5,64.7 1250.2,69.3 1250.8,61 1251.4,71 1252,60.2 1252.6,72.3 1253.3,62.8 1253.9,58.5 1254.5,56.3 1255.1,60.6 1255.7,59.4 1256.4,52.5 1257,56.2 1257.6,58.4 1258.2,56.9 1258.8,62.4 1259.5,42.4 1260.1,49.9 1260.7,49.4 1261.3,55.4 1261.9,65.2 1262.6,49.4 1263.2,48.7 1263.8,52.1 1264.4,59.9 1265,62.7 1265.7,52.8 1266.3,61 1266.9,58.2 1267.5,63.9 1268.1,60.6 1268.8,63.2 1269.4,61.8 1270,57.7 1270.6,57.7 1271.2,67.1 1271.9,64.4 1272.5,63.8 1273.1,69.7 1273.7,76.8 1274.3,81.4 1275,76.9 1275.6,80.5 1276.2,87.1 1276.8,83.7 1277.4,93.7 1278.1,93.7 1278.7,89.3 1279.3,99.4 1279.9,99 1280.5,111.2 1281.2,106.6 1281.8,116.6 1282.4,123.9 1283,119 1283.6,118.3 1284.3,114.3 1284.9,117 1285.5,122.5 1286.1,131.4 1286.7,130.3 1287.4,119.5 1288,129.2 1288.6,121.4 1289.2,134.2 1289.8,134.7 1290.5,131.5 1291.1,121.8 1291.7,130.2 1292.3,125.6 1292.9,124.6 1293.6,128.2 1294.2,121.3 1294.8,128.5 1295.4,133.6 1296,137.9 1296.7,131.3 1297.3,130.7 1297.9,141.2 1298.5,143.8 1299.1,128.6 1299.8,137.7 1300.4,142.8 1301,135.1 1301.6,142.8 1302.2,138.2 1302.9,136.7 1303.5,131.9 1304.1,145.2 1304.7,135.7 1305.3,126.1 1306,127.1 1306.6,132.5 1307.2,130.6 1307.8,145.5 1308.4,135.6 1309.1,135.8 1309.7,138.8 1310.3,142.8 1310.9,132.3 1311.5,127.5 1312.2,130.8 1312.8,140.2 1313.4,137.7 1314,142.1 1314.6,135.5 1315.3,143.6 1315.9,141.8 1316.5,140.1 1317.1,142.2 1317.7,141.7 1318.4,141.1 1319,131.2 1319.6,138.7 1320.2,138.2 1320.8,142.2 1321.5,140.9 1322.1,136.1 1322.7,140.9 1323.3,147.8 1323.9,144.1 1324.6,140.3 1325.2,139.8 1325.8,144.4 1326.4,135.8 1327,137.1 1327.7,134.9 1328.3,127.7 1328.9,137.7 1329.5,140.5 1330.1,133.7 1330.8,132.2 1331.4,135.4 1332,141.8 1332.6,132.4 1333.2,140.5 1333.9,138.6 1334.5,119.4 1335.1,123.4 1335.7,127 1336.3,122.9 1337,128.2 1337.6,125 1338.2,124.3 1338.8,119.2 1339.4,108.4 1340.1,116.4 1340.7,109.4 1341.3,116.9 1341.9,114.4 1342.5,124.5 1343.2,115.6 1343.8,99.6 1344.4,117 1345,110.9 1345.6,116.5 1346.3,113.4 1346.9,100.3 1347.5,96.2 1348.1,106.6 1348.7,96.4 1349.4,86.8 1350,94 1350.6,97.4 1351.2,102.8 1351.8,97.7 1352.5,95.1 1353.1,100.4 1353.7,100.1 1354.3,103.8 1354.9,93.9 1355.6,110.5 1356.2,97.9 1356.8,108.3 1357.4,111.3 1358,104.2 1358.7,107.8 1359.3,107.9 1359.9,116.1 1360.5,121.5 1361.1,119.4 1361.8,122.8 1362.4,121.6 1363,132.5 1363.6,138.2 1364.2,138 1364.9,136.7 1365.5,149.8 1366.1,144 1366.7,146.3 1367.3,147 1368,154.4 1368.6,155.7 1369.2,150.4 1369.8,154.7 1370.4,156.4 1371.1,166.2 1371.7,177.2 1372.3,177.9 1372.9,179.1 1373.5,179.4 1374.2,169.1 1374.8,167.8 1375.4,163.8 1376,175.6 1376.6,176.4 1377.3,169 1377.9,176.1 1378.5,175.4 1379.1,181.4 1379.7,177 1380.4,174.4 1381,177.7 1381.6,178.5 1382.2,184.7 1382.8,180.1 1383.5,178.8 1384.1,182 1384.7,175.7 1385.3,178.4 1385.9,186.3 1386.6,179.4 1387.2,188.8 1387.8,182.2 1388.4,182.7 1389,187 1389.7,185.9 1390.3,178.1 1390.9,174.1 1391.5,183.1 1392.1,178.7 1392.8,181.1 1393.4,186.7 1394,183.4 1394.6,180.7 1395.2,176.7 1395.9,181.9 1396.5,196 1397.1,181.2 1397.7,174.6 1398.3,178.6 1399,188.3 1399.6,182.4 1400.2,181.7 1400.8,181.7 1401.4,182.9 1402.1,177 1402.7,173.7 1403.3,179.6 1403.9,191.5 1404.5,174.9 1405.2,178.5 1405.8,179.4 1406.4,178.7 1407,181.7 1407.6,178 1408.3,185.3 1408.9,178.1 1409.5,172.9 1410.1,178.4 1410.7,184.1 1411.4,195.6 1412,184.8 1412.6,191.8 1413.2,175.8 1413.8,185.5 1414.5,190.8 1415.1,184 1415.7,187.8 1416.3,182.1 1416.9,179.7 1417.6,180.9 1418.2,186.1 1418.8,173.4 1419.4,188.4 1420,183.2 1420.7,180.1 1421.3,189 1421.9,186.2 1422.5,197.4 1423.1,181.4 1423.8,182.3 1424.4,181.2 1425,191.1 1425.6,182 1426.2,176 1426.9,170.8 1427.5,172.2 1428.1,182 1428.7,179.9 1429.3,190.7 1430,178.1 1430.6,182.9 1431.2,177 1431.8,182.5 1432.4,180.7 1433.1,181.8 1433.7,174.4 1434.3,188.3 1434.9,182.9 1435.5,182.7 1436.2,182.4 1436.8,182.7 1437.4,192.7 1438,194.5 1438.6,190.1 1439.3,182.2 1439.9,187 1440.5,184.9 1441.1,174.9 1441.7,180.7 1442.4,187 1443,183.7 1443.6,185.1 1444.2,192.8 1444.8,195.4 1445.5,179.9 1446.1,188.7 1446.7,189.6 1447.3,191.3 1447.9,186.7 1448.6,189.8 1449.2,177.5 1449.8,184.3 1450.4,192 1451,182.8 1451.7,184.7 1452.3,183.9 1452.9,188.9 1453.5,195.4 1454.1,188.2 1454.8,200 1455.4,188.8 1456,193.9 1456.6,193.4 1457.2,183.7 1457.9,182.6 1458.5,187.8 1459.1,182.7 1459.7,179.4 1460.3,185 1461,179.5 1461.6,185.7 1462.2,185.4 1462.8,190.9 1463.4,195.1 1464.1,180.6 1464.7,184.5 1465.3,191.7 1465.9,203.8 1466.5,192.5 1467.2,190.5 1467.8,185.5 1468.4,200.9 1469,189.2 1469.6,191.3 1470.3,193.7 1470.9,182 1471.5,178.6 1472.1,178.2 1472.7,185.2 1473.4,191.1 1474,183.9 1474.6,196.8 1475.2,185.6 1475.8,188.2 1476.5,186.2 1477.1,180.6 1477.7,183 1478.3,185 1478.9,178.3 1479.6,183.7 1480.2,180 1480.8,190 1481.4,180.7 1482,178.2 1482.7,178.7 1483.3,186.1 1483.9,193.2 1484.5,180.7 1485.1,188.2 1485.8,190.3 1486.4,184.7 1487,189.1 1487.6,189.5 1488.2,183.5 1488.9,173.4 1489.5,182.8 1490.1,182.3 1490.7,185.2 1491.3,188.1 1492,197.1 1492.6,186.2 1493.2,190.9 1493.8,187.9 1494.4,182.8 1495.1,179.1 1495.7,175.7 1496.3,172.3 1496.9,183.9 1497.5,187.6 1498.2,181.1 1498.8,188.3 1499.4,186.2 1500,184.7 1500.6,180 1501.3,179.4 1501.9,187.3 1502.5,187.8 1503.1,184.1 1503.7,189.4 1504.4,188.3 1505,178.2 1505.6,191 1506.2,185.8 1506.8,196.3 1507.5,183.2 1508.1,172.6 1508.7,185.3 1509.3,194.8 1509.9,186 1510.6,186.4 1511.2,197.4 1511.8,193.8 1512.4,191.5 1513,183.4 1513.7,181.2 1514.3,176.9 1514.9,177.2 1515.5,182.6 1516.1,188.4 1516.8,196.2 1517.4,196.6 1518,189.7 1518.6,187.5 1519.2,188.5 1519.9,185.5 1520.5,194.2 1521.1,184 1521.7,183.4 1522.3,176.9 1523,175.6 1523.6,185.4 1524.2,191 1524.8,191.9 1525.4,192.4 1526.1,181.9 1526.7,194.9 1527.3,190.9 1527.9,185 1528.5,185.5 1529.2,180.8 1529.8,180.3 1530.4,185.7 1531,183.5 1531.6,186.1 1532.3,186.9 1532.9,177.1 1533.5,190.7 1534.1,198.4 1534.7,185.1 1535.4,188.2 1536,191.9 1536.6,187.5 1537.2,187.5 1537.8,182.5 1538.5,182.5 1539.1,186.7 1539.7,193.3 1540.3,188.7 1540.9,192.3 1541.6,189.4 1542.2,186.3 1542.8,190.8 1543.4,190.3 1544,193.8 1544.7,196.6 1545.3,191.7 1545.9,190.5 1546.5,193.2 1547.1,185.7 1547.8,185.1 1548.4,191.2 1549,181.4 1549.6,176 1550.2,178.9 1550.9,188.1 1551.5,188.3 1552.1,186.7 1552.7,186.4 1553.3,181 1554,185 1554.6,182.6 1555.2,190.8 1555.8,187.5 1556.4,190.6 1557.1,190.2 1557.7,186.9 1558.3,184.4 1558.9,182.9 1559.5,189 1560.2,190.8 1560.8,182.5 1561.4,183.8 1562,187.5 1562.6,187.3 1563.3,192.1 1563.9,189.1 1564.5,194.7 1565.1,185.2 1565.7,189.4 1566.4,185.9 1567,181.6 1567.6,172.8 1568.2,180.7 1568.8,185.4 1569.5,188.6 1570.1,193.5 1570.7,190.2 1571.3,185.6 1571.9,181.4 1572.6,182.7 1573.2,187.3 1573.8,177.6 1574.4,177.3 1575,183.8 1575.7,193.7 1576.3,189 1576.9,191.5 1577.5,186.3 1578.1,180.4 1578.8,182 1579.4,188.4 1580,184.1 1580.6,186 1581.2,187.7 1581.9,197.7 1582.5,197.1 1583.1,179.2 1583.7,177.6 1584.3,188.2 1585,186.3 1585.6,188.7 1586.2,190.2 1586.8,196.4 1587.4,174.9 1588.1,176.7 1588.7,171.2 1589.3,188.7 1589.9,185.5 1590.5,181.7 1591.2,182.8 1591.8,187.2 1592.4,184.5 1593,174 1593.6,182.3 1594.3,187.6 1594.9,179.8 1595.5,181.1 1596.1,174.1 1596.7,186.5 1597.4,173.8 1598,174 1598.6,176.5 1599.2,177.2 1599.8,178.1 1600.5,168.2 1601.1,174 1601.7,168.2 1602.3,169.1 1602.9,170.3 1603.6,163.5 1604.2,152.6 1604.8,170.1 1605.4,163.4 1606,158.6 1606.7,170.4 1607.3,174.9 1607.9,171 1608.5,178.9 1609.1,176.4 1609.8,172.8 1610.4,174.1 1611,184.1 1611.6,182.5 1612.2,178.6 1612.9,183.9 1613.5,186.7 1614.1,183.2 1614.7,186.1 1615.3,192 1616,186.4 1616.6,191.7 1617.2,187.2 1617.8,189.5 1618.4,185.4 1619.1,184.8 1619.7,177.3 1620.3,184.3 1620.9,170.9 1621.5,174.6 1622.2,177.8 1622.8,178.6 1623.4,189.2 1624,179.2 1624.6,183.4 1625.3,186.2 1625.9,189.4 1626.5,188.7 1627.1,187.6 1627.7,188.1 1628.4,195.4 1629,180 1629.6,175 1630.2,182.5 1630.8,184.7 1631.5,189.6 1632.1,186 1632.7,190.9 1633.3,175.4 1633.9,179 1634.6,186.2 1635.2,183.1 1635.8,188 1636.4,183.2 1637,181.7 1637.7,188.1 1638.3,189.2 1638.9,184.3 1639.5,192.1 1640.1,183.7 1640.8,185.5 1641.4,170.2 1642,184.3 1642.6,191.3 1643.2,188.2 1643.9,180.1 1644.5,187.4 1645.1,184.6 1645.7,178.2 1646.3,175.8 1647,182.5 1647.6,177 1648.2,176 1648.8,185.3 1649.4,185.8 1650.1,187.9 1650.7,179 1651.3,181.9 1651.9,191.1 1652.5,180.7 1653.2,176 1653.8,181.7 1654.4,182.4 1655,171.6 1655.6,178.9 1656.3,182.6 1656.9,171 1657.5,165.7 1658.1,170 1658.7,175.1 1659.4,176.1 1660,178.8 1660.6,170.6 1661.2,182.5 1661.8,187 1662.5,180.6 1663.1,173.9 1663.7,171.6 1664.3,175.6 1664.9,175.1 1665.6,175.2 1666.2,170.6 1666.8,173 1667.4,170 1668,166.8 1668.7,165.5 1669.3,163.2 1669.9,175 1670.5,161.6 1671.1,169 1671.8,172.3 1672.4,175.3 1673,171 1673.6,176.2 1674.2,171.2 1674.9,170.1 1675.5,168.4 1676.1,164.9 1676.7,167.1 1677.3,169.4 1678,171.6 1678.6,180.8 1679.2,164.8 1679.8,166.7 1680.4,165.2 1681.1,173.4 1681.7,176.7 1682.3,170.4 1682.9,166.5 1683.5,174.7 1684.2,172 1684.8,161.8 1685.4,164.6 1686,169.7 1686.6,165.3 1687.3,183.6 1687.9,168.4 1688.5,167.9 1689.1,170.7 1689.7,171.3 1690.4,165.2 1691,166 1691.6,170.6 1692.2,173.6 1692.8,174.5 1693.5,171.4 1694.1,168.9 1694.7,170.5 1695.3,167.9 1695.9,162 1696.6,161.7 1697.2,170.9 1697.8,167.1 1698.4,167.2 1699,172.9 1699.7,168.3 1700.3,166.1 1700.9,175.2 1701.5,168 1702.1,160.4 1702.8,163.9 1703.4,168.7 1704,178.2 1704.6,172.6 1705.2,174.5 1705.9,164.3 1706.5,172.6 1707.1,159.6 1707.7,172.5 1708.3,174 1709,182.9 1709.6,174.3 1710.2,174.5 1710.8,169.9 1711.4,165.9 1712.1,170 1712.7,175.7 1713.3,164.5 1713.9,171.7 1714.5,179.7 1715.2,164.9 1715.8,158.7 1716.4,156.7 1717,156.5 1717.6,172 1718.3,168.8 1718.9,164.3 1719.5,156.2 1720.1,171.4 1720.7,167.5 1721.4,169.4 1722,171 1722.6,179.7 1723.2,169.2 1723.8,176.4 1724.5,178.3 1725.1,173.5 1725.7,179.9 1726.3,166.1 1726.9,171 1727.6,182.2 1728.2,181.3 1728.8,178.5 1729.4,178.4 1730,163.1 1730.7,169.7 1731.3,171.7 1731.9,168.7 1732.5,163 1733.1,165.9 1733.8,178.8 1734.4,171.3 1735,167.5 1735.6,180.4 1736.2,178.3 1736.9,172.7 1737.5,175 1738.1,163.4 1738.7,165 1739.3,177.5 1740,167.9 1740.6,169.5 1741.2,178.8 1741.8,179.8 1742.4,170.1 1743.1,167.1 1743.7,168.4 1744.3,175 1744.9,166.4 1745.5,171.8" fill="none" stroke="#FF9412" stroke-width="2.1" stroke-linejoin="round" style="mix-blend-mode:multiply"/>
<polyline points="1084,213 1084.6,206.1 1085.2,219.2 1085.9,215.6 1086.5,213.7 1087.1,207.6 1087.7,221.2 1088.3,212.8 1089,220.8 1089.6,216.4 1090.2,218.8 1090.8,218.2 1091.4,222.9 1092.1,225.1 1092.7,215.6 1093.3,225.3 1093.9,226.1 1094.5,228.1 1095.2,231.2 1095.8,215.2 1096.4,230 1097,214.3 1097.6,215.7 1098.3,221.4 1098.9,226.6 1099.5,225.2 1100.1,222.9 1100.7,222.9 1101.4,210.5 1102,216.3 1102.6,230.4 1103.2,205.3 1103.8,211.1 1104.5,212.8 1105.1,208.3 1105.7,210.9 1106.3,212.6 1106.9,210.8 1107.6,211.2 1108.2,205.7 1108.8,213.8 1109.4,209 1110,205.3 1110.7,222.6 1111.3,212.1 1111.9,210.2 1112.5,201.9 1113.1,213.2 1113.8,208.1 1114.4,209.2 1115,217.8 1115.6,219.2 1116.2,212.7 1116.9,218.7 1117.5,219.9 1118.1,217.3 1118.7,212.5 1119.3,219.6 1120,210.4 1120.6,219.3 1121.2,219.6 1121.8,213 1122.4,212.6 1123.1,232.8 1123.7,212.4 1124.3,219.5 1124.9,219.1 1125.5,223.6 1126.2,224 1126.8,227.5 1127.4,230.1 1128,223 1128.6,214.1 1129.3,218 1129.9,223.5 1130.5,224.7 1131.1,228.5 1131.7,221.9 1132.4,214.4 1133,215.9 1133.6,220.7 1134.2,225.8 1134.8,227 1135.5,225.8 1136.1,213.9 1136.7,215.3 1137.3,220.8 1137.9,219.5 1138.6,220.2 1139.2,206.2 1139.8,210.6 1140.4,191 1141,196.3 1141.7,199.1 1142.3,195.3 1142.9,199.4 1143.5,193.3 1144.1,193.1 1144.8,198.2 1145.4,192.8 1146,207.3 1146.6,201.4 1147.2,209 1147.9,210.1 1148.5,208.4 1149.1,212.7 1149.7,216.5 1150.3,214.6 1151,230.5 1151.6,217.5 1152.2,220.8 1152.8,228.4 1153.4,226.9 1154.1,229.4 1154.7,211.5 1155.3,217.8 1155.9,219.1 1156.5,225.2 1157.2,213.9 1157.8,214.1 1158.4,223.7 1159,216.4 1159.6,213.6 1160.3,208.8 1160.9,213.6 1161.5,196.5 1162.1,197.1 1162.7,197.5 1163.4,200.3 1164,199.2 1164.6,185.9 1165.2,194.2 1165.8,189.9 1166.5,208.4 1167.1,195.9 1167.7,198.1 1168.3,189.6 1168.9,189.5 1169.6,187.9 1170.2,199.4 1170.8,207.3 1171.4,197.4 1172,208.5 1172.7,215.9 1173.3,223 1173.9,215.5 1174.5,226.5 1175.1,215.5 1175.8,222 1176.4,220.8 1177,222.4 1177.6,231.4 1178.2,231.1 1178.9,240.4 1179.5,231.6 1180.1,224.5 1180.7,233.6 1181.3,230.6 1182,225.9 1182.6,234.5 1183.2,237.4 1183.8,221.5 1184.4,223.6 1185.1,232.9 1185.7,224.1 1186.3,235.6 1186.9,228 1187.5,229.1 1188.2,227.8 1188.8,220.2 1189.4,223.3 1190,220.9 1190.6,221.7 1191.3,230.1 1191.9,229.5 1192.5,223.9 1193.1,224.9 1193.7,231.6 1194.4,224 1195,219.4 1195.6,224.1 1196.2,217.3 1196.8,211.1 1197.5,231 1198.1,211.3 1198.7,215.9 1199.3,217.6 1199.9,213.1 1200.6,223.9 1201.2,225.9 1201.8,217.8 1202.4,204 1203,211.1 1203.7,196 1204.3,210.4 1204.9,214.3 1205.5,214.1 1206.1,216.5 1206.8,211.2 1207.4,203.3 1208,203.8 1208.6,212.5 1209.2,195.6 1209.9,204.9 1210.5,198.2 1211.1,216.7 1211.7,199.1 1212.3,190.2 1213,206.6 1213.6,209.2 1214.2,200.4 1214.8,201.1 1215.4,194 1216.1,198.7 1216.7,205.4 1217.3,203.7 1217.9,200.9 1218.5,196.8 1219.2,205.4 1219.8,211.3 1220.4,210.3 1221,193.8 1221.6,198 1222.3,192.7 1222.9,193.6 1223.5,197.7 1224.1,209.4 1224.7,200.5 1225.4,195.5 1226,190.6 1226.6,195.2 1227.2,182.8 1227.8,192.8 1228.5,195.8 1229.1,185.4 1229.7,197 1230.3,201.6 1230.9,186.5 1231.6,190.9 1232.2,184.1 1232.8,180.5 1233.4,188 1234,186.4 1234.7,175.9 1235.3,171.4 1235.9,179.7 1236.5,171.6 1237.1,169.9 1237.8,174.8 1238.4,174.1 1239,178.4 1239.6,188.3 1240.2,171.1 1240.9,182.3 1241.5,167.7 1242.1,171.8 1242.7,178.1 1243.3,184.9 1244,164.5 1244.6,178 1245.2,170.3 1245.8,169.1 1246.4,170.5 1247.1,178 1247.7,178.6 1248.3,170.9 1248.9,161.4 1249.5,157.2 1250.2,147.1 1250.8,147.5 1251.4,162.2 1252,144.5 1252.6,147.5 1253.3,150 1253.9,148.9 1254.5,146.5 1255.1,144 1255.7,144.8 1256.4,156 1257,153.7 1257.6,149 1258.2,142.5 1258.8,145.4 1259.5,147.1 1260.1,140.9 1260.7,137.8 1261.3,145.3 1261.9,141.5 1262.6,140.5 1263.2,144.7 1263.8,145.7 1264.4,140.7 1265,155.1 1265.7,151.8 1266.3,149.1 1266.9,154.8 1267.5,161.3 1268.1,156.2 1268.8,141.3 1269.4,146.8 1270,156.3 1270.6,161.3 1271.2,171.3 1271.9,169.8 1272.5,165.9 1273.1,172.4 1273.7,166.3 1274.3,175.1 1275,163.4 1275.6,179.4 1276.2,174.3 1276.8,179.7 1277.4,175.5 1278.1,168.5 1278.7,174.3 1279.3,178 1279.9,180.8 1280.5,181.5 1281.2,184.1 1281.8,179.8 1282.4,172.8 1283,176.4 1283.6,175.6 1284.3,182.3 1284.9,184 1285.5,187.1 1286.1,185 1286.7,193.3 1287.4,193.8 1288,195.5 1288.6,194.7 1289.2,197.2 1289.8,199.4 1290.5,195.6 1291.1,181.9 1291.7,188.1 1292.3,203.1 1292.9,185.5 1293.6,194.8 1294.2,193.6 1294.8,205.7 1295.4,203 1296,198.9 1296.7,200 1297.3,191 1297.9,210.4 1298.5,208.5 1299.1,199.1 1299.8,199.1 1300.4,206.3 1301,201.4 1301.6,199.7 1302.2,209.6 1302.9,207 1303.5,209.9 1304.1,214.1 1304.7,205.6 1305.3,217.6 1306,217.4 1306.6,204.7 1307.2,202.5 1307.8,210 1308.4,213.3 1309.1,208.4 1309.7,210 1310.3,210.8 1310.9,210.4 1311.5,214.5 1312.2,222.4 1312.8,226.4 1313.4,212.1 1314,213 1314.6,210.1 1315.3,212.5 1315.9,211.3 1316.5,221.1 1317.1,225.4 1317.7,212.7 1318.4,221.6 1319,212.3 1319.6,214.7 1320.2,217.9 1320.8,213.3 1321.5,210 1322.1,215.4 1322.7,219.5 1323.3,215.1 1323.9,225 1324.6,221.4 1325.2,213.3 1325.8,218.3 1326.4,213.2 1327,215.9 1327.7,217.3 1328.3,216.1 1328.9,221.2 1329.5,213.9 1330.1,212.9 1330.8,207.3 1331.4,198 1332,200.1 1332.6,203.5 1333.2,188 1333.9,199.6 1334.5,201.9 1335.1,205.6 1335.7,201.1 1336.3,202.4 1337,194.7 1337.6,188.3 1338.2,190.3 1338.8,180 1339.4,189.2 1340.1,175.8 1340.7,186.2 1341.3,176.5 1341.9,174.3 1342.5,170.3 1343.2,173.9 1343.8,176.4 1344.4,167.7 1345,163.8 1345.6,172.5 1346.3,166.2 1346.9,176.5 1347.5,182 1348.1,173.6 1348.7,188.9 1349.4,178.9 1350,169.4 1350.6,183.7 1351.2,179.2 1351.8,172.5 1352.5,173.4 1353.1,181.9 1353.7,188.4 1354.3,176.8 1354.9,169.2 1355.6,170.8 1356.2,179.1 1356.8,178.4 1357.4,181 1358,182.9 1358.7,191.6 1359.3,184.2 1359.9,184.9 1360.5,175 1361.1,185.1 1361.8,180.2 1362.4,186.8 1363,195.5 1363.6,194.3 1364.2,201.6 1364.9,193.3 1365.5,204 1366.1,212.2 1366.7,215.3 1367.3,220 1368,216.1 1368.6,224.2 1369.2,219.2 1369.8,222.4 1370.4,231.2 1371.1,237.1 1371.7,236.2 1372.3,225.9 1372.9,228.7 1373.5,229.4 1374.2,233.8 1374.8,244.3 1375.4,245.1 1376,232.6 1376.6,238.9 1377.3,240.5 1377.9,236.2 1378.5,237.2 1379.1,246.7 1379.7,242 1380.4,241.3 1381,239.8 1381.6,228.5 1382.2,239.3 1382.8,248.3 1383.5,257.3 1384.1,259.3 1384.7,244.2 1385.3,245.7 1385.9,243.4 1386.6,248.5 1387.2,241.5 1387.8,247.8 1388.4,251.8 1389,252.9 1389.7,252 1390.3,255.6 1390.9,249.6 1391.5,247.1 1392.1,248.8 1392.8,248 1393.4,251.8 1394,256.7 1394.6,251.5 1395.2,241.2 1395.9,239.1 1396.5,250.5 1397.1,254.5 1397.7,255.3 1398.3,237.7 1399,252.8 1399.6,266.1 1400.2,256 1400.8,252 1401.4,258.8 1402.1,250.1 1402.7,246.2 1403.3,258.1 1403.9,249 1404.5,256 1405.2,250.9 1405.8,251 1406.4,247.7 1407,254.9 1407.6,253.5 1408.3,252.6 1408.9,250.8 1409.5,249.5 1410.1,258.8 1410.7,262.6 1411.4,260.5 1412,248.7 1412.6,254.7 1413.2,244.2 1413.8,260 1414.5,265.3 1415.1,264.4 1415.7,259 1416.3,258.1 1416.9,253.7 1417.6,248.9 1418.2,257.3 1418.8,260.3 1419.4,252.7 1420,245.2 1420.7,248.1 1421.3,249.6 1421.9,248.3 1422.5,241.3 1423.1,241.6 1423.8,250.2 1424.4,262.8 1425,244 1425.6,252.3 1426.2,250.8 1426.9,254.2 1427.5,253.6 1428.1,259.4 1428.7,254.8 1429.3,249.4 1430,253.1 1430.6,253.5 1431.2,257.8 1431.8,257.4 1432.4,257.4 1433.1,254.1 1433.7,252.2 1434.3,251.2 1434.9,253.6 1435.5,260 1436.2,263.2 1436.8,252.1 1437.4,251.6 1438,252.5 1438.6,263.3 1439.3,250.7 1439.9,253 1440.5,239.7 1441.1,251.8 1441.7,247.5 1442.4,251.6 1443,258 1443.6,246.5 1444.2,238.8 1444.8,251.7 1445.5,249.1 1446.1,255.1 1446.7,262.1 1447.3,249.7 1447.9,244.7 1448.6,246 1449.2,241.3 1449.8,245.4 1450.4,257.3 1451,249.3 1451.7,243.5 1452.3,252.9 1452.9,256 1453.5,241.7 1454.1,250.7 1454.8,249.5 1455.4,254.4 1456,248.9 1456.6,249.4 1457.2,245.7 1457.9,263.9 1458.5,259.1 1459.1,259 1459.7,258.9 1460.3,255.5 1461,261.5 1461.6,258.7 1462.2,267.6 1462.8,262.8 1463.4,265.2 1464.1,248.9 1464.7,249.3 1465.3,250 1465.9,244.3 1466.5,248.2 1467.2,249.4 1467.8,246 1468.4,256.2 1469,249.7 1469.6,253.4 1470.3,244.7 1470.9,249.9 1471.5,248.1 1472.1,247.7 1472.7,257.8 1473.4,256.7 1474,248.2 1474.6,246.6 1475.2,256 1475.8,249.4 1476.5,251 1477.1,260.5 1477.7,262.1 1478.3,255.5 1478.9,253.5 1479.6,254.5 1480.2,252.3 1480.8,253 1481.4,260 1482,257 1482.7,255.4 1483.3,252.5 1483.9,258.1 1484.5,251.5 1485.1,255.2 1485.8,247.1 1486.4,249.4 1487,253.5 1487.6,249.3 1488.2,253.1 1488.9,253.1 1489.5,249.8 1490.1,255.3 1490.7,254.4 1491.3,250.3 1492,252.5 1492.6,257 1493.2,247.5 1493.8,243.8 1494.4,254.7 1495.1,246.8 1495.7,247 1496.3,237.6 1496.9,246.1 1497.5,251 1498.2,242.7 1498.8,250.7 1499.4,243.4 1500,246.4 1500.6,256 1501.3,260.8 1501.9,252.2 1502.5,258 1503.1,248.6 1503.7,255.1 1504.4,242.5 1505,250.9 1505.6,247.9 1506.2,244 1506.8,247.3 1507.5,247.4 1508.1,248.5 1508.7,253.3 1509.3,246.4 1509.9,244.7 1510.6,248.3 1511.2,246.3 1511.8,248.5 1512.4,242.4 1513,252.2 1513.7,244.6 1514.3,253.3 1514.9,255.2 1515.5,246.9 1516.1,252.6 1516.8,257.9 1517.4,250.2 1518,252 1518.6,245 1519.2,254.4 1519.9,251.9 1520.5,258.9 1521.1,257.2 1521.7,251.4 1522.3,245 1523,253.4 1523.6,256.9 1524.2,249.6 1524.8,255 1525.4,253.4 1526.1,249 1526.7,245.2 1527.3,248 1527.9,254.6 1528.5,245.5 1529.2,247.8 1529.8,248.4 1530.4,245.2 1531,239.5 1531.6,250.1 1532.3,255.5 1532.9,249.5 1533.5,243 1534.1,247.9 1534.7,247 1535.4,250 1536,243.2 1536.6,251.9 1537.2,246.8 1537.8,254.4 1538.5,249.8 1539.1,246.2 1539.7,246.8 1540.3,251.2 1540.9,252.2 1541.6,255.1 1542.2,243.2 1542.8,243.8 1543.4,246.5 1544,235.7 1544.7,243.8 1545.3,250.5 1545.9,245.9 1546.5,248.4 1547.1,246 1547.8,248.4 1548.4,243.5 1549,253.8 1549.6,255.5 1550.2,253.8 1550.9,260.8 1551.5,255.4 1552.1,250.8 1552.7,239.1 1553.3,241.8 1554,251.8 1554.6,259.4 1555.2,249.8 1555.8,255 1556.4,247.7 1557.1,248.2 1557.7,246.4 1558.3,247.4 1558.9,247.1 1559.5,251.4 1560.2,244.2 1560.8,258.2 1561.4,256.4 1562,241.7 1562.6,240.2 1563.3,260.6 1563.9,247.5 1564.5,253.3 1565.1,246 1565.7,265.5 1566.4,246.2 1567,259.4 1567.6,255.8 1568.2,250.2 1568.8,249.1 1569.5,245.4 1570.1,237.9 1570.7,251.1 1571.3,262.2 1571.9,252.5 1572.6,254.4 1573.2,257.4 1573.8,244.8 1574.4,247.1 1575,241.6 1575.7,252.7 1576.3,246 1576.9,258.5 1577.5,258.7 1578.1,246.7 1578.8,253.4 1579.4,253.4 1580,248.8 1580.6,250.1 1581.2,251.8 1581.9,241.4 1582.5,255.8 1583.1,249.1 1583.7,246.5 1584.3,253.9 1585,246.5 1585.6,259.4 1586.2,259.8 1586.8,253.6 1587.4,259.7 1588.1,262.1 1588.7,251.5 1589.3,240.4 1589.9,239.1 1590.5,243.5 1591.2,253 1591.8,254.1 1592.4,250.4 1593,260.9 1593.6,250.7 1594.3,253 1594.9,242.9 1595.5,242.8 1596.1,246.4 1596.7,252.4 1597.4,234.6 1598,250.2 1598.6,240.1 1599.2,249.1 1599.8,243.8 1600.5,234.4 1601.1,233.6 1601.7,248.5 1602.3,238.2 1602.9,232.7 1603.6,224.4 1604.2,223.4 1604.8,235.7 1605.4,240.2 1606,244.7 1606.7,239 1607.3,233.6 1607.9,229.8 1608.5,244.4 1609.1,238.5 1609.8,233.4 1610.4,239 1611,242.7 1611.6,251.5 1612.2,247.2 1612.9,255.8 1613.5,255.8 1614.1,252.9 1614.7,238.6 1615.3,237.4 1616,249.2 1616.6,256.5 1617.2,264.5 1617.8,247.1 1618.4,256.4 1619.1,258.2 1619.7,261 1620.3,257 1620.9,253.9 1621.5,253.9 1622.2,256.3 1622.8,261.2 1623.4,249.6 1624,250.4 1624.6,248.3 1625.3,252.8 1625.9,239.4 1626.5,258.1 1627.1,255.5 1627.7,248.3 1628.4,250.8 1629,250.7 1629.6,249 1630.2,251.4 1630.8,267.5 1631.5,267.9 1632.1,246.5 1632.7,252.3 1633.3,254.4 1633.9,246.3 1634.6,249.2 1635.2,249.8 1635.8,251.4 1636.4,242.8 1637,243 1637.7,254.9 1638.3,256.7 1638.9,257.7 1639.5,257.6 1640.1,247.5 1640.8,254.5 1641.4,250.5 1642,256.8 1642.6,251.5 1643.2,254.9 1643.9,247.5 1644.5,258 1645.1,251.8 1645.7,252.2 1646.3,245 1647,255.8 1647.6,255.4 1648.2,258.3 1648.8,244.4 1649.4,249 1650.1,245.8 1650.7,243.1 1651.3,245.9 1651.9,239.9 1652.5,249.1 1653.2,236.6 1653.8,234.7 1654.4,234.1 1655,242.1 1655.6,234.1 1656.3,227.6 1656.9,236.9 1657.5,244 1658.1,234.9 1658.7,238.1 1659.4,234.4 1660,237.7 1660.6,239.6 1661.2,226.7 1661.8,244.1 1662.5,237.8 1663.1,242.8 1663.7,243.4 1664.3,232.5 1664.9,245 1665.6,236.7 1666.2,231.7 1666.8,238.8 1667.4,250.4 1668,249.6 1668.7,226.9 1669.3,232.6 1669.9,235.9 1670.5,234.4 1671.1,231.4 1671.8,232.6 1672.4,230.1 1673,244.6 1673.6,240.6 1674.2,229.1 1674.9,237.5 1675.5,246.4 1676.1,237.9 1676.7,244.6 1677.3,232.5 1678,234.6 1678.6,252.6 1679.2,242.4 1679.8,232 1680.4,245.5 1681.1,239 1681.7,244.9 1682.3,240 1682.9,230.1 1683.5,246.9 1684.2,240.8 1684.8,230.4 1685.4,244.2 1686,241.2 1686.6,253.1 1687.3,253.9 1687.9,243.7 1688.5,230.6 1689.1,227.3 1689.7,235 1690.4,228.9 1691,237.1 1691.6,244.6 1692.2,243.1 1692.8,248.5 1693.5,246.9 1694.1,243.6 1694.7,237.8 1695.3,234 1695.9,235.8 1696.6,238.1 1697.2,245.9 1697.8,238.9 1698.4,233.4 1699,231.4 1699.7,230.4 1700.3,231.2 1700.9,247.9 1701.5,247.4 1702.1,241.9 1702.8,242.5 1703.4,237.9 1704,232.4 1704.6,228.9 1705.2,236.9 1705.9,242.3 1706.5,246 1707.1,236.7 1707.7,241 1708.3,232 1709,238.1 1709.6,236.1 1710.2,239.7 1710.8,228.9 1711.4,236 1712.1,236.6 1712.7,234.7 1713.3,242.8 1713.9,242.1 1714.5,243.1 1715.2,248 1715.8,234.8 1716.4,241.7 1717,228.1 1717.6,234.1 1718.3,229.5 1718.9,230.5 1719.5,238 1720.1,243 1720.7,242 1721.4,244.1 1722,243.9 1722.6,238 1723.2,240.6 1723.8,236.6 1724.5,231.1 1725.1,241.2 1725.7,235.8 1726.3,226.6 1726.9,224.8 1727.6,235.4 1728.2,235.5 1728.8,233.9 1729.4,237.1 1730,233.9 1730.7,232.7 1731.3,228.2 1731.9,235.9 1732.5,243.2 1733.1,232 1733.8,229.9 1734.4,236.9 1735,238.8 1735.6,239.9 1736.2,232.6 1736.9,234.8 1737.5,231.1 1738.1,235.1 1738.7,227.5 1739.3,233.9 1740,225.7 1740.6,242.9 1741.2,227.3 1741.8,232.5 1742.4,240.3 1743.1,234.1 1743.7,236.7 1744.3,227.9 1744.9,236.9 1745.5,241" fill="none" stroke="#FF6A05" stroke-width="2.1" stroke-linejoin="round" style="mix-blend-mode:multiply"/>
<polyline points="1084,279.4 1084.6,275.1 1085.2,268.8 1085.9,277.7 1086.5,278.1 1087.1,267.2 1087.7,268.5 1088.3,263.9 1089,261.4 1089.6,279.8 1090.2,271.2 1090.8,275.2 1091.4,273.9 1092.1,271.9 1092.7,264.5 1093.3,262.8 1093.9,271.3 1094.5,277.6 1095.2,260.8 1095.8,262.2 1096.4,267.1 1097,276.1 1097.6,275.3 1098.3,276.9 1098.9,274 1099.5,266 1100.1,269.2 1100.7,278.9 1101.4,274.8 1102,265.4 1102.6,279.6 1103.2,277.4 1103.8,278.9 1104.5,287.1 1105.1,273.9 1105.7,270 1106.3,259.7 1106.9,271.7 1107.6,278.2 1108.2,276.2 1108.8,276.1 1109.4,282 1110,280.5 1110.7,280.2 1111.3,277.3 1111.9,276.9 1112.5,283.6 1113.1,278.3 1113.8,275.1 1114.4,273.5 1115,275.9 1115.6,278.4 1116.2,281.1 1116.9,279.5 1117.5,276.3 1118.1,267.6 1118.7,279.3 1119.3,272.4 1120,275.8 1120.6,285.1 1121.2,281.7 1121.8,274.3 1122.4,281.9 1123.1,277.8 1123.7,273.9 1124.3,285.6 1124.9,284.7 1125.5,293.7 1126.2,277.5 1126.8,278.6 1127.4,281.6 1128,287.8 1128.6,279.6 1129.3,289 1129.9,282.6 1130.5,275.5 1131.1,277.2 1131.7,278.2 1132.4,277.7 1133,274.4 1133.6,275.5 1134.2,282.8 1134.8,283.5 1135.5,289.4 1136.1,273.4 1136.7,267.3 1137.3,284.6 1137.9,277.5 1138.6,275 1139.2,265.2 1139.8,267.7 1140.4,263.5 1141,260.6 1141.7,265.9 1142.3,253.9 1142.9,256.5 1143.5,246 1144.1,258.4 1144.8,253.7 1145.4,272.5 1146,259.2 1146.6,275.6 1147.2,265.9 1147.9,260.2 1148.5,271.3 1149.1,275.3 1149.7,270.1 1150.3,263.5 1151,264.1 1151.6,274.2 1152.2,282.6 1152.8,271 1153.4,282.2 1154.1,294.7 1154.7,277.3 1155.3,287.3 1155.9,289.1 1156.5,281 1157.2,283.1 1157.8,272.7 1158.4,277.4 1159,283.4 1159.6,270.4 1160.3,263.2 1160.9,250.8 1161.5,270.1 1162.1,273.1 1162.7,257.4 1163.4,255.4 1164,252.2 1164.6,259.2 1165.2,241.9 1165.8,250.7 1166.5,232.5 1167.1,247.2 1167.7,241.6 1168.3,253.3 1168.9,253.8 1169.6,249.8 1170.2,251 1170.8,251 1171.4,271.8 1172,276.3 1172.7,269.8 1173.3,265.6 1173.9,277.5 1174.5,279.3 1175.1,278.3 1175.8,283.3 1176.4,289.2 1177,287.4 1177.6,291.6 1178.2,289 1178.9,289.9 1179.5,285 1180.1,291.9 1180.7,289.5 1181.3,285.9 1182,287.8 1182.6,285.3 1183.2,284.7 1183.8,288.6 1184.4,291.4 1185.1,276.2 1185.7,281 1186.3,283.5 1186.9,276.3 1187.5,283.8 1188.2,281.1 1188.8,278.3 1189.4,269.6 1190,269.1 1190.6,278.3 1191.3,290.8 1191.9,280 1192.5,266.6 1193.1,283.6 1193.7,281 1194.4,286.3 1195,276.2 1195.6,282.7 1196.2,280.9 1196.8,270.3 1197.5,272.9 1198.1,276.2 1198.7,270.6 1199.3,281.8 1199.9,274.4 1200.6,280.3 1201.2,274.5 1201.8,278.3 1202.4,278.4 1203,262.9 1203.7,269 1204.3,276.3 1204.9,271.1 1205.5,281 1206.1,281.8 1206.8,268.9 1207.4,271.2 1208,273.8 1208.6,266.5 1209.2,278.7 1209.9,279.7 1210.5,270.4 1211.1,263.1 1211.7,260.3 1212.3,259.8 1213,268.6 1213.6,260.1 1214.2,268.3 1214.8,277.9 1215.4,258.1 1216.1,256.7 1216.7,266.8 1217.3,263.6 1217.9,253 1218.5,257.7 1219.2,258 1219.8,262.5 1220.4,253.2 1221,254.3 1221.6,255.1 1222.3,258.1 1222.9,255 1223.5,246.2 1224.1,244.8 1224.7,259.9 1225.4,253 1226,254.7 1226.6,254.5 1227.2,256.4 1227.8,262.8 1228.5,256.1 1229.1,258.9 1229.7,257.7 1230.3,255.6 1230.9,246.4 1231.6,245.9 1232.2,256.6 1232.8,250.8 1233.4,248.9 1234,248.5 1234.7,242.3 1235.3,242.7 1235.9,248.7 1236.5,242.9 1237.1,238.3 1237.8,248.7 1238.4,251 1239,245.2 1239.6,236.9 1240.2,246.1 1240.9,243.8 1241.5,229.8 1242.1,229 1242.7,224.6 1243.3,219.2 1244,236.5 1244.6,240.9 1245.2,218.9 1245.8,229.1 1246.4,225.8 1247.1,226.5 1247.7,228.9 1248.3,228.5 1248.9,221.9 1249.5,215.6 1250.2,220.2 1250.8,227.2 1251.4,209 1252,206.7 1252.6,207.1 1253.3,204.1 1253.9,205.1 1254.5,212.7 1255.1,210.6 1255.7,205.9 1256.4,205 1257,199.5 1257.6,206.8 1258.2,198.8 1258.8,194.5 1259.5,196.1 1260.1,199.6 1260.7,209.6 1261.3,202.7 1261.9,199.2 1262.6,214.9 1263.2,206.7 1263.8,214.2 1264.4,212.5 1265,214.7 1265.7,205.8 1266.3,214.3 1266.9,212.6 1267.5,205.1 1268.1,218.8 1268.8,218.7 1269.4,221.4 1270,228.5 1270.6,211.4 1271.2,223.4 1271.9,215.9 1272.5,214.1 1273.1,224.8 1273.7,225.5 1274.3,217.1 1275,227.1 1275.6,232.5 1276.2,241.2 1276.8,243 1277.4,237.7 1278.1,228 1278.7,234.7 1279.3,241 1279.9,244.9 1280.5,248.4 1281.2,245.3 1281.8,246.8 1282.4,242.4 1283,243.1 1283.6,249.6 1284.3,254.2 1284.9,243.2 1285.5,245.8 1286.1,248.7 1286.7,255.5 1287.4,254.1 1288,269.6 1288.6,260.2 1289.2,251.5 1289.8,255.6 1290.5,254.9 1291.1,257.9 1291.7,262.1 1292.3,271 1292.9,273.5 1293.6,272.6 1294.2,259.7 1294.8,267.1 1295.4,259.4 1296,265.3 1296.7,270.2 1297.3,268.9 1297.9,282.1 1298.5,274.8 1299.1,269.5 1299.8,269.7 1300.4,277.5 1301,264.3 1301.6,268.5 1302.2,266 1302.9,270.9 1303.5,263.5 1304.1,270.8 1304.7,280.3 1305.3,272.7 1306,282.2 1306.6,273.8 1307.2,274.9 1307.8,269.1 1308.4,278 1309.1,279.7 1309.7,277.8 1310.3,281.8 1310.9,274 1311.5,285.6 1312.2,278.1 1312.8,267.3 1313.4,270.5 1314,271.7 1314.6,264.6 1315.3,263.1 1315.9,278.8 1316.5,275.5 1317.1,277.4 1317.7,285.3 1318.4,277.6 1319,266.3 1319.6,273.1 1320.2,265 1320.8,277.2 1321.5,273 1322.1,275.6 1322.7,262 1323.3,251.6 1323.9,265 1324.6,269.9 1325.2,266.5 1325.8,262.6 1326.4,261.4 1327,260.4 1327.7,265.9 1328.3,254.7 1328.9,258.4 1329.5,264.4 1330.1,261.6 1330.8,257.5 1331.4,256.5 1332,261.6 1332.6,263.7 1333.2,249.9 1333.9,268.5 1334.5,261.7 1335.1,256.9 1335.7,248.6 1336.3,248.1 1337,257.9 1337.6,256 1338.2,241.3 1338.8,242.7 1339.4,247 1340.1,242.5 1340.7,258.1 1341.3,257.1 1341.9,246.5 1342.5,236.4 1343.2,243.5 1343.8,241.3 1344.4,239.5 1345,233.9 1345.6,243 1346.3,240.2 1346.9,246 1347.5,244.9 1348.1,236.7 1348.7,237.8 1349.4,233 1350,236.7 1350.6,231 1351.2,239.8 1351.8,223.8 1352.5,237 1353.1,238 1353.7,243.4 1354.3,234.9 1354.9,240.1 1355.6,244.7 1356.2,242.3 1356.8,244.4 1357.4,245.4 1358,245.1 1358.7,246.6 1359.3,243.2 1359.9,254.8 1360.5,258.5 1361.1,270.7 1361.8,261.2 1362.4,274.7 1363,276.7 1363.6,257.9 1364.2,268 1364.9,280.2 1365.5,276.2 1366.1,281 1366.7,284.8 1367.3,276.5 1368,282.6 1368.6,281.8 1369.2,291 1369.8,271.9 1370.4,280.5 1371.1,278.9 1371.7,285.2 1372.3,291 1372.9,292.3 1373.5,291.5 1374.2,297.9 1374.8,290.2 1375.4,299.2 1376,297.3 1376.6,285.6 1377.3,297.2 1377.9,300.5 1378.5,300.5 1379.1,293.1 1379.7,299.1 1380.4,313.8 1381,317 1381.6,301.2 1382.2,302 1382.8,298.3 1383.5,290.3 1384.1,293.5 1384.7,301.6 1385.3,312.3 1385.9,313.4 1386.6,315.9 1387.2,321.1 1387.8,306.8 1388.4,306.1 1389,298.1 1389.7,303.8 1390.3,309.7 1390.9,316.1 1391.5,304 1392.1,304 1392.8,306.9 1393.4,307.6 1394,299.7 1394.6,310.9 1395.2,308.1 1395.9,307.5 1396.5,305.6 1397.1,308.3 1397.7,306.3 1398.3,308.7 1399,317.8 1399.6,312.2 1400.2,313.8 1400.8,311.9 1401.4,302.5 1402.1,297.7 1402.7,311.1 1403.3,306.6 1403.9,308.7 1404.5,306.4 1405.2,302.2 1405.8,317.3 1406.4,327.3 1407,324.4 1407.6,307.2 1408.3,307.7 1408.9,312.6 1409.5,304.8 1410.1,308.6 1410.7,312.6 1411.4,323.1 1412,304.7 1412.6,310.4 1413.2,304.2 1413.8,297.6 1414.5,311.6 1415.1,299.9 1415.7,306.5 1416.3,315 1416.9,313.4 1417.6,310.2 1418.2,317.7 1418.8,309.2 1419.4,307 1420,318.5 1420.7,314 1421.3,307.4 1421.9,303.3 1422.5,306.3 1423.1,316.8 1423.8,309.6 1424.4,311.9 1425,320.5 1425.6,322.5 1426.2,305.9 1426.9,317.7 1427.5,297.5 1428.1,311.6 1428.7,303.1 1429.3,304.9 1430,306.4 1430.6,305.9 1431.2,308.7 1431.8,308.1 1432.4,321.6 1433.1,312.2 1433.7,305.1 1434.3,310.6 1434.9,306.7 1435.5,310 1436.2,307.8 1436.8,310.5 1437.4,313.1 1438,317.1 1438.6,320.9 1439.3,317.9 1439.9,312.2 1440.5,307.9 1441.1,303.5 1441.7,318.1 1442.4,310.1 1443,308.6 1443.6,311.6 1444.2,316.1 1444.8,321.9 1445.5,317.2 1446.1,305.1 1446.7,312.9 1447.3,310.2 1447.9,305 1448.6,316.4 1449.2,311.4 1449.8,310.9 1450.4,315.9 1451,315.2 1451.7,315.6 1452.3,313.8 1452.9,308.3 1453.5,307.1 1454.1,309.3 1454.8,310.7 1455.4,316.8 1456,304.2 1456.6,310.1 1457.2,296.8 1457.9,314.7 1458.5,316.7 1459.1,308.6 1459.7,307.4 1460.3,309.3 1461,305.1 1461.6,310.5 1462.2,315.9 1462.8,305.4 1463.4,309.7 1464.1,305 1464.7,318.1 1465.3,303 1465.9,305.9 1466.5,311.2 1467.2,311.7 1467.8,307.4 1468.4,312.7 1469,309 1469.6,314.5 1470.3,303.9 1470.9,306 1471.5,319.4 1472.1,321.7 1472.7,323.2 1473.4,308.4 1474,326.6 1474.6,316.5 1475.2,326.6 1475.8,319.3 1476.5,306.5 1477.1,313.7 1477.7,310.8 1478.3,314.1 1478.9,308.8 1479.6,312.5 1480.2,313.2 1480.8,306.9 1481.4,313.4 1482,307.9 1482.7,306.6 1483.3,302.9 1483.9,312.4 1484.5,310.1 1485.1,300.4 1485.8,302.5 1486.4,310.8 1487,311.4 1487.6,312 1488.2,307.6 1488.9,310.9 1489.5,311.5 1490.1,316.6 1490.7,312.3 1491.3,321.5 1492,312.7 1492.6,315.5 1493.2,322.6 1493.8,306.4 1494.4,308.3 1495.1,319.1 1495.7,312.2 1496.3,309.4 1496.9,322 1497.5,323.3 1498.2,316.9 1498.8,310.3 1499.4,316.2 1500,309.7 1500.6,321.7 1501.3,307.6 1501.9,303.9 1502.5,300.2 1503.1,307.7 1503.7,318 1504.4,312.6 1505,318.6 1505.6,315.8 1506.2,315 1506.8,315 1507.5,312.7 1508.1,308.8 1508.7,317.3 1509.3,316.8 1509.9,323.7 1510.6,315.1 1511.2,317.1 1511.8,310.2 1512.4,315.5 1513,305.7 1513.7,301.3 1514.3,314.3 1514.9,310.8 1515.5,312.9 1516.1,312.2 1516.8,312.8 1517.4,298.7 1518,302.7 1518.6,310.3 1519.2,306.9 1519.9,310.6 1520.5,307.2 1521.1,310.3 1521.7,313.2 1522.3,309 1523,299.3 1523.6,310.9 1524.2,312.9 1524.8,310.1 1525.4,310.2 1526.1,304.2 1526.7,311.4 1527.3,312.8 1527.9,315.5 1528.5,311.2 1529.2,300.5 1529.8,300.1 1530.4,306.8 1531,320.9 1531.6,311.1 1532.3,315.1 1532.9,311.5 1533.5,313.5 1534.1,313 1534.7,305.4 1535.4,310 1536,319.4 1536.6,305.4 1537.2,308.3 1537.8,311.9 1538.5,311.9 1539.1,313.8 1539.7,305.5 1540.3,322.4 1540.9,318.7 1541.6,318.6 1542.2,320.5 1542.8,310.5 1543.4,315.4 1544,309.1 1544.7,309.9 1545.3,315 1545.9,318.8 1546.5,313.2 1547.1,308.8 1547.8,308.9 1548.4,319.6 1549,313.6 1549.6,298.3 1550.2,314.3 1550.9,316.9 1551.5,305.7 1552.1,300.6 1552.7,304.4 1553.3,312.8 1554,307 1554.6,298.4 1555.2,313.4 1555.8,325.3 1556.4,308.7 1557.1,311 1557.7,308.9 1558.3,308.8 1558.9,305.2 1559.5,308.8 1560.2,315.5 1560.8,313.6 1561.4,297.3 1562,298.3 1562.6,303.5 1563.3,310.9 1563.9,314.6 1564.5,321 1565.1,319.7 1565.7,300.1 1566.4,303.6 1567,313.2 1567.6,314.9 1568.2,303.8 1568.8,312.5 1569.5,314 1570.1,308.4 1570.7,304.1 1571.3,313.9 1571.9,300.8 1572.6,306.3 1573.2,316.5 1573.8,309.2 1574.4,298 1575,305.3 1575.7,300.5 1576.3,302.9 1576.9,304.1 1577.5,310.4 1578.1,315.7 1578.8,303.3 1579.4,299.6 1580,303.4 1580.6,317.1 1581.2,314.9 1581.9,300.4 1582.5,304 1583.1,302.9 1583.7,306.1 1584.3,307.2 1585,307.8 1585.6,310.5 1586.2,320.9 1586.8,304.5 1587.4,298.3 1588.1,307.2 1588.7,302.3 1589.3,308.8 1589.9,298.1 1590.5,295.5 1591.2,297.1 1591.8,290.6 1592.4,294.6 1593,307.2 1593.6,296.9 1594.3,296.6 1594.9,306 1595.5,300.7 1596.1,301.8 1596.7,305.3 1597.4,306.6 1598,301.7 1598.6,297.4 1599.2,288.1 1599.8,297.7 1600.5,303.4 1601.1,304 1601.7,289 1602.3,295.4 1602.9,300.3 1603.6,297.9 1604.2,287.4 1604.8,288.8 1605.4,285.9 1606,300.8 1606.7,308.7 1607.3,299.1 1607.9,289.1 1608.5,292.3 1609.1,303.6 1609.8,301.9 1610.4,308.5 1611,295.4 1611.6,304.9 1612.2,300.9 1612.9,305 1613.5,311.1 1614.1,310.2 1614.7,319.5 1615.3,310.6 1616,308.9 1616.6,298.7 1617.2,307.7 1617.8,299.6 1618.4,310.8 1619.1,306.1 1619.7,312.2 1620.3,309.6 1620.9,306.5 1621.5,303.2 1622.2,306.1 1622.8,320.3 1623.4,312.8 1624,314.2 1624.6,321.5 1625.3,323.3 1625.9,315.2 1626.5,302.9 1627.1,296.3 1627.7,313.8 1628.4,305.1 1629,313.9 1629.6,318.4 1630.2,315.6 1630.8,323.1 1631.5,319.9 1632.1,306.8 1632.7,305.5 1633.3,304.1 1633.9,294.2 1634.6,309.3 1635.2,308.2 1635.8,311.7 1636.4,304.2 1637,302.6 1637.7,299.3 1638.3,305.6 1638.9,299.2 1639.5,307.3 1640.1,314.6 1640.8,311.3 1641.4,303.4 1642,305.2 1642.6,302.2 1643.2,303.6 1643.9,312.4 1644.5,304.8 1645.1,296.6 1645.7,294.2 1646.3,307.7 1647,303.9 1647.6,305.1 1648.2,297.2 1648.8,298 1649.4,292.6 1650.1,305.9 1650.7,298.7 1651.3,310.6 1651.9,302.3 1652.5,307.5 1653.2,301.9 1653.8,297 1654.4,304 1655,302.4 1655.6,297.6 1656.3,304.5 1656.9,305.8 1657.5,296.9 1658.1,310.8 1658.7,305 1659.4,290.1 1660,304.6 1660.6,301.8 1661.2,292.1 1661.8,293.6 1662.5,302.8 1663.1,306.5 1663.7,293.2 1664.3,296.6 1664.9,291.8 1665.6,305.2 1666.2,292.5 1666.8,290.3 1667.4,297.3 1668,305.7 1668.7,301.2 1669.3,303 1669.9,298.3 1670.5,296 1671.1,300.3 1671.8,297.1 1672.4,299.2 1673,291.6 1673.6,297.9 1674.2,299.8 1674.9,300.5 1675.5,297.8 1676.1,287.7 1676.7,293.4 1677.3,291.4 1678,295 1678.6,296.9 1679.2,295.1 1679.8,303 1680.4,305.2 1681.1,297 1681.7,296.5 1682.3,281.6 1682.9,295.1 1683.5,292.6 1684.2,304.2 1684.8,311.1 1685.4,295.3 1686,293.6 1686.6,290.1 1687.3,289.1 1687.9,301.4 1688.5,296.4 1689.1,293.2 1689.7,295.9 1690.4,302.7 1691,303.8 1691.6,285.4 1692.2,295.5 1692.8,293.1 1693.5,300.6 1694.1,296.1 1694.7,298.3 1695.3,292.7 1695.9,300.5 1696.6,287.2 1697.2,297.6 1697.8,289.5 1698.4,289 1699,298.6 1699.7,287.5 1700.3,288.6 1700.9,289.4 1701.5,291.5 1702.1,300.8 1702.8,311.1 1703.4,300.9 1704,307 1704.6,289.8 1705.2,293.4 1705.9,287.5 1706.5,281.3 1707.1,287.5 1707.7,287.9 1708.3,300.8 1709,309.4 1709.6,300.6 1710.2,304.1 1710.8,297.1 1711.4,296.7 1712.1,303.7 1712.7,287.4 1713.3,309.5 1713.9,299.5 1714.5,284.9 1715.2,294.2 1715.8,291.7 1716.4,290.6 1717,289.3 1717.6,292 1718.3,290.4 1718.9,291.4 1719.5,290.1 1720.1,281.3 1720.7,294.5 1721.4,298.3 1722,292.8 1722.6,288 1723.2,285 1723.8,299 1724.5,293 1725.1,302 1725.7,301.2 1726.3,298.9 1726.9,293.5 1727.6,289.5 1728.2,281.4 1728.8,292 1729.4,288.2 1730,292.6 1730.7,294.9 1731.3,283.8 1731.9,303 1732.5,296 1733.1,297.6 1733.8,285.7 1734.4,294.5 1735,293.6 1735.6,290.6 1736.2,293.2 1736.9,298.7 1737.5,304.9 1738.1,288.1 1738.7,296.7 1739.3,311.1 1740,310.1 1740.6,302.2 1741.2,288.7 1741.8,298.5 1742.4,296.2 1743.1,291.2 1743.7,309.1 1744.3,301.9 1744.9,298.6 1745.5,304.6" fill="none" stroke="#FF4420" stroke-width="2.1" stroke-linejoin="round" style="mix-blend-mode:multiply"/>
<polyline points="1084,347.6 1084.6,334.9 1085.2,334.5 1085.9,330.3 1086.5,328.8 1087.1,326.3 1087.7,337.9 1088.3,339.2 1089,327.8 1089.6,336.3 1090.2,341.2 1090.8,349.9 1091.4,346.4 1092.1,340.4 1092.7,335.3 1093.3,342.2 1093.9,347.7 1094.5,346.6 1095.2,341 1095.8,341.7 1096.4,330.7 1097,339.5 1097.6,346.8 1098.3,339.8 1098.9,339.3 1099.5,345.8 1100.1,340.1 1100.7,348.6 1101.4,343 1102,345.8 1102.6,337.9 1103.2,341.5 1103.8,349.5 1104.5,333.2 1105.1,345.9 1105.7,327.7 1106.3,335.2 1106.9,341.7 1107.6,335.9 1108.2,339.9 1108.8,350.8 1109.4,342.7 1110,328 1110.7,341.2 1111.3,346 1111.9,341.6 1112.5,339.7 1113.1,339.7 1113.8,329.6 1114.4,334.6 1115,348.7 1115.6,348.3 1116.2,346.1 1116.9,338.6 1117.5,337.5 1118.1,342.9 1118.7,341.3 1119.3,340.5 1120,336.8 1120.6,342.2 1121.2,336.2 1121.8,337.7 1122.4,344.7 1123.1,329.8 1123.7,340.1 1124.3,333.6 1124.9,324.8 1125.5,328.4 1126.2,330.2 1126.8,343.4 1127.4,347 1128,355.4 1128.6,341.4 1129.3,337.5 1129.9,338.6 1130.5,349 1131.1,346.2 1131.7,341.4 1132.4,334.7 1133,350.1 1133.6,331.9 1134.2,335.6 1134.8,336.8 1135.5,342 1136.1,331.1 1136.7,344.3 1137.3,338.4 1137.9,331.5 1138.6,328.4 1139.2,334.8 1139.8,331.5 1140.4,338.4 1141,325.3 1141.7,332.2 1142.3,341.7 1142.9,333 1143.5,334.5 1144.1,334.2 1144.8,317.8 1145.4,333.2 1146,329.6 1146.6,335.7 1147.2,340 1147.9,338.4 1148.5,337.7 1149.1,329.7 1149.7,341.6 1150.3,341.9 1151,344.3 1151.6,348.7 1152.2,337.3 1152.8,349.6 1153.4,356.8 1154.1,342 1154.7,330.7 1155.3,350.9 1155.9,346.5 1156.5,343.5 1157.2,339 1157.8,333.1 1158.4,330.3 1159,333.3 1159.6,332.6 1160.3,328.6 1160.9,323.1 1161.5,326.6 1162.1,317.2 1162.7,305.4 1163.4,305.4 1164,300.8 1164.6,311.9 1165.2,305.3 1165.8,311.9 1166.5,310.5 1167.1,318.1 1167.7,318.1 1168.3,315.9 1168.9,310.5 1169.6,304.2 1170.2,319.7 1170.8,329.8 1171.4,326.2 1172,327.8 1172.7,331.4 1173.3,331.6 1173.9,344 1174.5,340 1175.1,345.4 1175.8,345 1176.4,338.2 1177,354.2 1177.6,345.9 1178.2,340.9 1178.9,353.5 1179.5,352.4 1180.1,346.3 1180.7,340.9 1181.3,336.8 1182,338.8 1182.6,347.8 1183.2,341.9 1183.8,352 1184.4,345.6 1185.1,351.5 1185.7,342.6 1186.3,346.2 1186.9,346.5 1187.5,344.9 1188.2,345.1 1188.8,341.9 1189.4,342.8 1190,355 1190.6,349.9 1191.3,352.9 1191.9,354 1192.5,348.7 1193.1,351.1 1193.7,346.9 1194.4,342.7 1195,339.7 1195.6,336.1 1196.2,333.7 1196.8,349.9 1197.5,341.9 1198.1,340 1198.7,344.7 1199.3,323 1199.9,336.2 1200.6,339 1201.2,338.5 1201.8,334 1202.4,333.7 1203,342.6 1203.7,351.7 1204.3,343 1204.9,338.8 1205.5,337.1 1206.1,334.6 1206.8,328.2 1207.4,335.2 1208,330 1208.6,322.6 1209.2,330.5 1209.9,330.3 1210.5,331 1211.1,331.1 1211.7,324.8 1212.3,327.4 1213,327.5 1213.6,321.1 1214.2,331.5 1214.8,336.9 1215.4,331.7 1216.1,330.1 1216.7,330.2 1217.3,332.3 1217.9,323.8 1218.5,328.3 1219.2,326.7 1219.8,322.6 1220.4,326.6 1221,323 1221.6,325.2 1222.3,332.8 1222.9,340.1 1223.5,328.3 1224.1,320.7 1224.7,333.3 1225.4,322.7 1226,328.3 1226.6,327.8 1227.2,328.2 1227.8,324.1 1228.5,317.7 1229.1,327.7 1229.7,324 1230.3,317.9 1230.9,322.6 1231.6,317.3 1232.2,333.5 1232.8,326.3 1233.4,314.7 1234,315.5 1234.7,311.7 1235.3,308.2 1235.9,306.6 1236.5,308.8 1237.1,312.1 1237.8,310.2 1238.4,307.1 1239,309.9 1239.6,314 1240.2,305.1 1240.9,313.7 1241.5,315.9 1242.1,301.1 1242.7,303.3 1243.3,301.4 1244,304.7 1244.6,311.4 1245.2,308.6 1245.8,297.1 1246.4,301.7 1247.1,299.7 1247.7,309.2 1248.3,300.2 1248.9,294.5 1249.5,295.6 1250.2,294 1250.8,286.2 1251.4,287.2 1252,285.4 1252.6,282.8 1253.3,280.8 1253.9,287.9 1254.5,288.4 1255.1,295.4 1255.7,282.7 1256.4,278.5 1257,279.9 1257.6,296.1 1258.2,281.9 1258.8,287.6 1259.5,262 1260.1,265.7 1260.7,284.4 1261.3,270.9 1261.9,278.8 1262.6,266.3 1263.2,260.8 1263.8,271 1264.4,271.6 1265,271.6 1265.7,284.3 1266.3,270 1266.9,270.5 1267.5,279 1268.1,282.3 1268.8,272.1 1269.4,278.9 1270,279.6 1270.6,273.3 1271.2,286 1271.9,284.2 1272.5,285 1273.1,287.5 1273.7,296 1274.3,284.8 1275,296.3 1275.6,295.9 1276.2,292.9 1276.8,298.1 1277.4,302.7 1278.1,305.9 1278.7,301.2 1279.3,308.6 1279.9,308.6 1280.5,302.5 1281.2,309.8 1281.8,314.3 1282.4,308.1 1283,321.9 1283.6,328.3 1284.3,305.4 1284.9,314.6 1285.5,310.9 1286.1,309.1 1286.7,323.6 1287.4,321.2 1288,320.5 1288.6,326.6 1289.2,324 1289.8,317 1290.5,322.5 1291.1,335.3 1291.7,331.6 1292.3,335.8 1292.9,332.5 1293.6,323.6 1294.2,323.6 1294.8,336.6 1295.4,339.9 1296,349.7 1296.7,347.9 1297.3,341.1 1297.9,351.4 1298.5,328.8 1299.1,333.4 1299.8,335.8 1300.4,326.5 1301,338.4 1301.6,334.3 1302.2,339.7 1302.9,347.1 1303.5,337.8 1304.1,338.5 1304.7,346 1305.3,336.2 1306,349.2 1306.6,344.5 1307.2,333.5 1307.8,338.9 1308.4,349.6 1309.1,338.9 1309.7,347.7 1310.3,340.4 1310.9,336.7 1311.5,342.4 1312.2,350 1312.8,339.3 1313.4,331.8 1314,342.9 1314.6,346.9 1315.3,345.4 1315.9,347.4 1316.5,342.1 1317.1,337.3 1317.7,337.6 1318.4,348.9 1319,340.5 1319.6,340.7 1320.2,342.7 1320.8,345.5 1321.5,334.5 1322.1,334.4 1322.7,331.3 1323.3,344.6 1323.9,337.4 1324.6,332.8 1325.2,341 1325.8,333.9 1326.4,335.8 1327,343.4 1327.7,342.5 1328.3,344.5 1328.9,329.7 1329.5,326.3 1330.1,329.4 1330.8,331 1331.4,319.7 1332,324.1 1332.6,334.7 1333.2,328.1 1333.9,320.9 1334.5,320.4 1335.1,313.8 1335.7,326.9 1336.3,327.4 1337,307 1337.6,322.2 1338.2,325.1 1338.8,327.4 1339.4,309.7 1340.1,323.6 1340.7,325.7 1341.3,318.5 1341.9,314.1 1342.5,308.8 1343.2,300.3 1343.8,315.1 1344.4,296.8 1345,306.4 1345.6,313.6 1346.3,310.7 1346.9,313.8 1347.5,308.8 1348.1,302.1 1348.7,300.8 1349.4,296.6 1350,300.3 1350.6,296.9 1351.2,307.4 1351.8,295.8 1352.5,299 1353.1,302.7 1353.7,302.4 1354.3,306.7 1354.9,291.8 1355.6,290.4 1356.2,291.9 1356.8,306 1357.4,305.7 1358,306 1358.7,315.7 1359.3,318.1 1359.9,309.5 1360.5,319.1 1361.1,325.2 1361.8,336.5 1362.4,334.8 1363,334.8 1363.6,336 1364.2,329.7 1364.9,326.3 1365.5,330.4 1366.1,347.3 1366.7,343.7 1367.3,343.5 1368,330.5 1368.6,340.7 1369.2,344 1369.8,340.9 1370.4,343.2 1371.1,354 1371.7,351.4 1372.3,340 1372.9,349.3 1373.5,352.8 1374.2,351.6 1374.8,356.4 1375.4,364.4 1376,362.9 1376.6,348 1377.3,349.6 1377.9,355.2 1378.5,362.9 1379.1,368.7 1379.7,366.1 1380.4,361.6 1381,369.8 1381.6,376.9 1382.2,360.9 1382.8,362.3 1383.5,367 1384.1,368.1 1384.7,370.4 1385.3,376 1385.9,371.6 1386.6,365.4 1387.2,376 1387.8,374.1 1388.4,376.9 1389,361 1389.7,365.1 1390.3,385 1390.9,366.7 1391.5,359.7 1392.1,368.9 1392.8,377.1 1393.4,365.1 1394,368.5 1394.6,372 1395.2,371.9 1395.9,376.2 1396.5,384.8 1397.1,376.9 1397.7,372.5 1398.3,382 1399,381.9 1399.6,371.1 1400.2,371.7 1400.8,374 1401.4,380.3 1402.1,382.6 1402.7,371.8 1403.3,374 1403.9,365.6 1404.5,367.4 1405.2,375.2 1405.8,370.1 1406.4,372.5 1407,376.9 1407.6,367.7 1408.3,379 1408.9,358.7 1409.5,360.4 1410.1,372.5 1410.7,375.2 1411.4,365.3 1412,356.8 1412.6,369.1 1413.2,369.9 1413.8,363.1 1414.5,368.1 1415.1,373.1 1415.7,362.1 1416.3,357.7 1416.9,367.7 1417.6,372.5 1418.2,383.8 1418.8,370.1 1419.4,378.4 1420,376.2 1420.7,374.5 1421.3,373.8 1421.9,375.9 1422.5,368.6 1423.1,370.3 1423.8,371.1 1424.4,359.9 1425,377.4 1425.6,374 1426.2,364 1426.9,372 1427.5,361.8 1428.1,364.1 1428.7,368.7 1429.3,376.4 1430,378.5 1430.6,374.3 1431.2,373.9 1431.8,371.1 1432.4,378.9 1433.1,376.4 1433.7,377 1434.3,372.9 1434.9,371.3 1435.5,378.2 1436.2,376.7 1436.8,373.2 1437.4,365 1438,374 1438.6,379.4 1439.3,368.5 1439.9,358.9 1440.5,372.4 1441.1,373.7 1441.7,375 1442.4,378.1 1443,383.6 1443.6,371.3 1444.2,370.5 1444.8,365.3 1445.5,375.1 1446.1,374 1446.7,371.7 1447.3,375.1 1447.9,363.8 1448.6,374.8 1449.2,378.5 1449.8,383.1 1450.4,387.6 1451,386.1 1451.7,373.3 1452.3,372.3 1452.9,383.1 1453.5,365.4 1454.1,376.8 1454.8,377 1455.4,375.5 1456,366 1456.6,360.5 1457.2,380.9 1457.9,390.5 1458.5,382.1 1459.1,382.1 1459.7,370.9 1460.3,371.4 1461,374.7 1461.6,375.1 1462.2,371.8 1462.8,368 1463.4,362.2 1464.1,379.3 1464.7,380.6 1465.3,381.9 1465.9,382.2 1466.5,384.3 1467.2,372.9 1467.8,380.2 1468.4,371.2 1469,373.6 1469.6,381.2 1470.3,379.4 1470.9,373.9 1471.5,380.2 1472.1,379.8 1472.7,367.5 1473.4,370.7 1474,360.5 1474.6,361.1 1475.2,367.7 1475.8,365.7 1476.5,376.9 1477.1,379.9 1477.7,370.5 1478.3,371.3 1478.9,380.9 1479.6,382.8 1480.2,373.9 1480.8,376.4 1481.4,374.2 1482,384.3 1482.7,383.7 1483.3,374.3 1483.9,376.1 1484.5,372.1 1485.1,371.8 1485.8,366.2 1486.4,362.6 1487,366.1 1487.6,372.4 1488.2,362.1 1488.9,362.3 1489.5,364.1 1490.1,360.6 1490.7,374.4 1491.3,374.8 1492,375.5 1492.6,366.3 1493.2,362.2 1493.8,363.5 1494.4,370.2 1495.1,364.8 1495.7,373 1496.3,371.7 1496.9,375.2 1497.5,370.1 1498.2,374.4 1498.8,376 1499.4,378.7 1500,365.6 1500.6,359.7 1501.3,362.4 1501.9,375.7 1502.5,370 1503.1,376.9 1503.7,373.6 1504.4,376.1 1505,379 1505.6,368.4 1506.2,368.7 1506.8,374.4 1507.5,375.5 1508.1,364.7 1508.7,375.4 1509.3,361.6 1509.9,368.3 1510.6,369.8 1511.2,377.1 1511.8,378.7 1512.4,375.2 1513,380.4 1513.7,375.8 1514.3,365.6 1514.9,366.5 1515.5,376.9 1516.1,377.2 1516.8,377.3 1517.4,380.3 1518,376.9 1518.6,366.3 1519.2,378.4 1519.9,387.9 1520.5,384.9 1521.1,371.8 1521.7,369.2 1522.3,365 1523,375.6 1523.6,376.8 1524.2,370.2 1524.8,377.3 1525.4,372.4 1526.1,376.8 1526.7,381.2 1527.3,369 1527.9,390 1528.5,370.6 1529.2,373 1529.8,381.3 1530.4,372.1 1531,371.1 1531.6,381.5 1532.3,380.3 1532.9,373.7 1533.5,372.6 1534.1,383.9 1534.7,391.2 1535.4,390.5 1536,367 1536.6,370.9 1537.2,364.1 1537.8,369 1538.5,373.8 1539.1,381.1 1539.7,388.9 1540.3,374.6 1540.9,373.1 1541.6,376.5 1542.2,387.1 1542.8,372.7 1543.4,371.8 1544,378.8 1544.7,392 1545.3,376.7 1545.9,383.3 1546.5,375.3 1547.1,384.1 1547.8,376.2 1548.4,378 1549,375.9 1549.6,382.9 1550.2,379.1 1550.9,387.8 1551.5,383.7 1552.1,374.3 1552.7,382.4 1553.3,370.5 1554,371.8 1554.6,376.1 1555.2,365.7 1555.8,378 1556.4,369.6 1557.1,375.8 1557.7,370 1558.3,384.1 1558.9,374.3 1559.5,369.9 1560.2,381.6 1560.8,374.5 1561.4,367.6 1562,372.7 1562.6,382.3 1563.3,377 1563.9,372.8 1564.5,373.7 1565.1,372.1 1565.7,367.2 1566.4,383.3 1567,376.4 1567.6,381.9 1568.2,382.2 1568.8,371.2 1569.5,374.8 1570.1,373.7 1570.7,372.3 1571.3,375.9 1571.9,369.7 1572.6,361.6 1573.2,376.4 1573.8,373.4 1574.4,371.3 1575,366.3 1575.7,368.4 1576.3,379.7 1576.9,368.5 1577.5,378.3 1578.1,379.1 1578.8,389.1 1579.4,377.7 1580,377 1580.6,362.4 1581.2,372.4 1581.9,378.2 1582.5,381.3 1583.1,383 1583.7,375.6 1584.3,376.5 1585,365.2 1585.6,363.1 1586.2,372.6 1586.8,372.2 1587.4,373.8 1588.1,374.9 1588.7,367.5 1589.3,355.8 1589.9,371.5 1590.5,363 1591.2,368.9 1591.8,373.5 1592.4,363.6 1593,361.8 1593.6,366.5 1594.3,365.2 1594.9,379.8 1595.5,378.9 1596.1,360.7 1596.7,373.4 1597.4,367.2 1598,369.3 1598.6,363.9 1599.2,369.4 1599.8,380.1 1600.5,367.5 1601.1,350.5 1601.7,362.9 1602.3,360 1602.9,366.4 1603.6,367.1 1604.2,363.4 1604.8,365 1605.4,377.8 1606,368 1606.7,357.3 1607.3,365.8 1607.9,362.4 1608.5,363.8 1609.1,359.1 1609.8,372 1610.4,370.7 1611,360.7 1611.6,354.6 1612.2,366.1 1612.9,364.5 1613.5,366.9 1614.1,366.3 1614.7,360.3 1615.3,370.9 1616,368.2 1616.6,367.8 1617.2,375.4 1617.8,376.8 1618.4,365.1 1619.1,376.4 1619.7,386.1 1620.3,370.5 1620.9,376 1621.5,385.5 1622.2,364 1622.8,366.4 1623.4,368.9 1624,373.2 1624.6,370.4 1625.3,378.1 1625.9,371.3 1626.5,379.4 1627.1,361.5 1627.7,371.2 1628.4,373 1629,380.2 1629.6,371.5 1630.2,379.1 1630.8,381.5 1631.5,378.7 1632.1,369.6 1632.7,381.8 1633.3,368.8 1633.9,387.9 1634.6,369.8 1635.2,363.2 1635.8,373 1636.4,379.3 1637,380.2 1637.7,376.2 1638.3,371.9 1638.9,366.5 1639.5,377.4 1640.1,380.7 1640.8,374.1 1641.4,371.7 1642,371.1 1642.6,372.8 1643.2,379.2 1643.9,370.8 1644.5,369.5 1645.1,365.3 1645.7,376.4 1646.3,371.3 1647,372.3 1647.6,385.5 1648.2,376.4 1648.8,376.1 1649.4,380.1 1650.1,372.5 1650.7,376.9 1651.3,381.1 1651.9,371 1652.5,372.4 1653.2,373.6 1653.8,379.8 1654.4,373.9 1655,383 1655.6,376.2 1656.3,384.7 1656.9,369 1657.5,372 1658.1,365.7 1658.7,373 1659.4,370 1660,381.4 1660.6,373.4 1661.2,374.9 1661.8,367.4 1662.5,364.1 1663.1,368 1663.7,373.2 1664.3,372.5 1664.9,367 1665.6,369.3 1666.2,358.4 1666.8,362.2 1667.4,369.6 1668,371.3 1668.7,374.9 1669.3,357.1 1669.9,359.6 1670.5,360.8 1671.1,362.9 1671.8,363 1672.4,372 1673,369.3 1673.6,368.6 1674.2,373.9 1674.9,371.6 1675.5,374.9 1676.1,372.8 1676.7,362.5 1677.3,370.7 1678,364.1 1678.6,358.9 1679.2,369.3 1679.8,375.4 1680.4,351.6 1681.1,371.9 1681.7,358.1 1682.3,358.4 1682.9,364.5 1683.5,366.6 1684.2,362.3 1684.8,361.7 1685.4,361.2 1686,363 1686.6,364.7 1687.3,372.7 1687.9,362.4 1688.5,363.8 1689.1,362.5 1689.7,357.8 1690.4,362.3 1691,373.4 1691.6,359.3 1692.2,365.4 1692.8,362.2 1693.5,358.5 1694.1,351.2 1694.7,354.7 1695.3,348.1 1695.9,354 1696.6,371.9 1697.2,356.5 1697.8,355.2 1698.4,364.9 1699,363.4 1699.7,349.5 1700.3,342 1700.9,347.2 1701.5,355.8 1702.1,361.9 1702.8,368.8 1703.4,371.8 1704,361.9 1704.6,353.4 1705.2,371.7 1705.9,358.9 1706.5,354.6 1707.1,359.6 1707.7,351.6 1708.3,359.3 1709,343.1 1709.6,351.7 1710.2,356 1710.8,352.9 1711.4,355.3 1712.1,344.8 1712.7,358.5 1713.3,345.2 1713.9,352.8 1714.5,355.5 1715.2,364.5 1715.8,349.8 1716.4,351.7 1717,353.5 1717.6,359.5 1718.3,356.3 1718.9,359.6 1719.5,365.2 1720.1,356.3 1720.7,367.7 1721.4,360.6 1722,371.2 1722.6,359.6 1723.2,347.9 1723.8,352.4 1724.5,363.4 1725.1,363.7 1725.7,370.8 1726.3,368.6 1726.9,370.5 1727.6,364.3 1728.2,369.8 1728.8,352.3 1729.4,364.6 1730,360.2 1730.7,372.1 1731.3,365.7 1731.9,366.4 1732.5,351.3 1733.1,364.7 1733.8,366 1734.4,360.5 1735,349.8 1735.6,354.7 1736.2,367.4 1736.9,360 1737.5,366.2 1738.1,364 1738.7,354.7 1739.3,358.2 1740,364 1740.6,375.6 1741.2,364.9 1741.8,363.8 1742.4,371.3 1743.1,365.5 1743.7,367.8 1744.3,368.3 1744.9,379 1745.5,372.9" fill="none" stroke="#E81E05" stroke-width="2.1" stroke-linejoin="round" style="mix-blend-mode:multiply"/>
<polyline points="1084,397.2 1084.6,402.7 1085.2,393 1085.9,392.6 1086.5,390.6 1087.1,395 1087.7,394 1088.3,409.1 1089,389.4 1089.6,402.7 1090.2,395.3 1090.8,398 1091.4,413.5 1092.1,396.2 1092.7,400.8 1093.3,394 1093.9,407.5 1094.5,397.2 1095.2,407.6 1095.8,401.3 1096.4,416.5 1097,390.4 1097.6,417.1 1098.3,410.7 1098.9,395.3 1099.5,387.2 1100.1,402.7 1100.7,401 1101.4,399 1102,418.2 1102.6,406.3 1103.2,391.6 1103.8,408.7 1104.5,405.2 1105.1,404.2 1105.7,403.6 1106.3,402 1106.9,396.1 1107.6,399.7 1108.2,387 1108.8,396.1 1109.4,385.9 1110,396.2 1110.7,392.8 1111.3,398.3 1111.9,394.3 1112.5,394.9 1113.1,393 1113.8,396.6 1114.4,409.3 1115,406.8 1115.6,409.6 1116.2,396.3 1116.9,406.7 1117.5,406.6 1118.1,397.1 1118.7,393.7 1119.3,397.9 1120,396 1120.6,404 1121.2,403.2 1121.8,397.2 1122.4,387.1 1123.1,396.4 1123.7,389.8 1124.3,397.1 1124.9,399.9 1125.5,401.3 1126.2,401.2 1126.8,394.2 1127.4,394.2 1128,383.7 1128.6,398.4 1129.3,404.2 1129.9,399.8 1130.5,391.8 1131.1,399.6 1131.7,394.1 1132.4,395.7 1133,408.7 1133.6,399.5 1134.2,392.4 1134.8,398.5 1135.5,395.7 1136.1,387.6 1136.7,392.1 1137.3,397.1 1137.9,386.4 1138.6,392.9 1139.2,382.2 1139.8,370.4 1140.4,377.1 1141,369.5 1141.7,377.4 1142.3,368 1142.9,368.6 1143.5,366.2 1144.1,370.7 1144.8,376.4 1145.4,377.3 1146,371.7 1146.6,388.1 1147.2,392.3 1147.9,379.9 1148.5,398.8 1149.1,396 1149.7,401.1 1150.3,406.7 1151,413.5 1151.6,406.3 1152.2,402.5 1152.8,404.4 1153.4,407.2 1154.1,395.1 1154.7,396.1 1155.3,398.4 1155.9,395.3 1156.5,396.6 1157.2,398.4 1157.8,397.2 1158.4,407.8 1159,393.2 1159.6,396.2 1160.3,394.6 1160.9,400.9 1161.5,402.2 1162.1,386.5 1162.7,382.6 1163.4,376.7 1164,376.7 1164.6,374.7 1165.2,370.8 1165.8,365.9 1166.5,366.7 1167.1,356.3 1167.7,375.4 1168.3,368.5 1168.9,363.6 1169.6,379.8 1170.2,378.3 1170.8,396.4 1171.4,379.1 1172,386.5 1172.7,382.7 1173.3,388.6 1173.9,386.4 1174.5,390.6 1175.1,390.9 1175.8,393.8 1176.4,413.4 1177,404.2 1177.6,410.9 1178.2,404.3 1178.9,412 1179.5,402.6 1180.1,402.8 1180.7,414.4 1181.3,410.8 1182,397.8 1182.6,405.8 1183.2,403.9 1183.8,411.7 1184.4,410.1 1185.1,413.5 1185.7,410.1 1186.3,402.7 1186.9,394.3 1187.5,395.9 1188.2,393 1188.8,389.8 1189.4,402.1 1190,388.3 1190.6,403.6 1191.3,405.1 1191.9,418 1192.5,406.7 1193.1,398.2 1193.7,398.6 1194.4,405.3 1195,411.5 1195.6,397.4 1196.2,406.7 1196.8,410.6 1197.5,393.1 1198.1,384.4 1198.7,381.1 1199.3,390.1 1199.9,406.3 1200.6,395.1 1201.2,385.6 1201.8,400.9 1202.4,382.8 1203,383.5 1203.7,396.8 1204.3,398.9 1204.9,387.1 1205.5,399 1206.1,392.3 1206.8,398.2 1207.4,399.5 1208,403 1208.6,402.8 1209.2,390.1 1209.9,391.3 1210.5,395.5 1211.1,393.7 1211.7,397.7 1212.3,400.6 1213,407.2 1213.6,415.2 1214.2,407.2 1214.8,409 1215.4,390.3 1216.1,398.7 1216.7,403 1217.3,403.8 1217.9,401.6 1218.5,405.5 1219.2,398.7 1219.8,396.9 1220.4,398.6 1221,407.8 1221.6,402.1 1222.3,392.1 1222.9,385 1223.5,388.7 1224.1,390.3 1224.7,384.3 1225.4,388.1 1226,395.6 1226.6,393.6 1227.2,397.6 1227.8,387.8 1228.5,396.4 1229.1,394.4 1229.7,392.6 1230.3,383.4 1230.9,378.6 1231.6,380.3 1232.2,383 1232.8,370.6 1233.4,368.7 1234,373.5 1234.7,383.1 1235.3,381.9 1235.9,390.5 1236.5,375 1237.1,373.7 1237.8,382.9 1238.4,381.7 1239,391 1239.6,384.5 1240.2,386.7 1240.9,379.1 1241.5,383 1242.1,379.9 1242.7,376.7 1243.3,377.6 1244,373.9 1244.6,371.3 1245.2,374 1245.8,381 1246.4,375.8 1247.1,377.8 1247.7,369.8 1248.3,361.2 1248.9,367.2 1249.5,357.3 1250.2,353.6 1250.8,359.3 1251.4,344.7 1252,350.2 1252.6,352 1253.3,367.7 1253.9,362.5 1254.5,355.2 1255.1,345.7 1255.7,361.6 1256.4,352 1257,340.1 1257.6,360.5 1258.2,356.8 1258.8,353.3 1259.5,358.4 1260.1,353.3 1260.7,357.3 1261.3,353.8 1261.9,360.3 1262.6,362.9 1263.2,355.7 1263.8,347.3 1264.4,350.2 1265,366.3 1265.7,345.5 1266.3,356.1 1266.9,352.9 1267.5,355.7 1268.1,357.3 1268.8,361.4 1269.4,361.8 1270,370.9 1270.6,364.6 1271.2,360.1 1271.9,360.1 1272.5,366.8 1273.1,356.2 1273.7,369.7 1274.3,377.8 1275,364 1275.6,374.9 1276.2,384.5 1276.8,383 1277.4,378.8 1278.1,371.8 1278.7,381.5 1279.3,380.6 1279.9,384.4 1280.5,385.8 1281.2,383.6 1281.8,380.4 1282.4,383 1283,377.2 1283.6,387.6 1284.3,392.9 1284.9,386.5 1285.5,381.6 1286.1,387.6 1286.7,383.4 1287.4,389.3 1288,395.2 1288.6,388.6 1289.2,376.3 1289.8,397 1290.5,397 1291.1,392.5 1291.7,388.7 1292.3,394 1292.9,406.4 1293.6,394.5 1294.2,400.8 1294.8,406.5 1295.4,404 1296,397 1296.7,418.1 1297.3,415.3 1297.9,408.6 1298.5,408.4 1299.1,408.9 1299.8,403.6 1300.4,412.6 1301,417.1 1301.6,408.6 1302.2,407.3 1302.9,411.5 1303.5,404.6 1304.1,406.8 1304.7,411.6 1305.3,393.8 1306,401.9 1306.6,409.1 1307.2,397.8 1307.8,401.6 1308.4,423.7 1309.1,417.9 1309.7,415.9 1310.3,408.1 1310.9,413.5 1311.5,406.3 1312.2,392.1 1312.8,411.5 1313.4,405 1314,402.9 1314.6,411.7 1315.3,409.8 1315.9,412.7 1316.5,419.6 1317.1,415.8 1317.7,408 1318.4,402.3 1319,402.8 1319.6,404.2 1320.2,407.4 1320.8,405.9 1321.5,403.8 1322.1,403.7 1322.7,402.3 1323.3,405.7 1323.9,406.9 1324.6,407.7 1325.2,409.1 1325.8,401.7 1326.4,406.4 1327,401.5 1327.7,398.6 1328.3,404.2 1328.9,401 1329.5,385 1330.1,387.1 1330.8,395.1 1331.4,382.8 1332,379.3 1332.6,381.2 1333.2,396.3 1333.9,383.6 1334.5,387 1335.1,391.3 1335.7,390.4 1336.3,383.8 1337,373.1 1337.6,392.6 1338.2,393.7 1338.8,372.1 1339.4,388.8 1340.1,387.6 1340.7,382.5 1341.3,383 1341.9,381.2 1342.5,388 1343.2,381.4 1343.8,379.6 1344.4,381.5 1345,366.3 1345.6,370.4 1346.3,370.9 1346.9,368 1347.5,382.5 1348.1,377.6 1348.7,368 1349.4,369.2 1350,375.3 1350.6,373 1351.2,371 1351.8,380 1352.5,374.8 1353.1,385.9 1353.7,373.5 1354.3,377.1 1354.9,375.9 1355.6,378.2 1356.2,386.6 1356.8,395.4 1357.4,387.4 1358,383.2 1358.7,378.9 1359.3,377 1359.9,394.1 1360.5,394.4 1361.1,401.3 1361.8,402.5 1362.4,395.4 1363,398.8 1363.6,406.6 1364.2,406.7 1364.9,401.7 1365.5,407.7 1366.1,402.7 1366.7,404.6 1367.3,417.4 1368,413.6 1368.6,399.8 1369.2,408.6 1369.8,412.2 1370.4,425.2 1371.1,411.5 1371.7,420.2 1372.3,419.7 1372.9,423 1373.5,423.5 1374.2,424 1374.8,417.9 1375.4,426.1 1376,436.3 1376.6,424.8 1377.3,420.5 1377.9,419.6 1378.5,409.5 1379.1,421.8 1379.7,415 1380.4,421.5 1381,423.6 1381.6,419.2 1382.2,421.3 1382.8,415.3 1383.5,420.5 1384.1,414 1384.7,426.7 1385.3,431.1 1385.9,421.2 1386.6,410.7 1387.2,415.3 1387.8,426.8 1388.4,421.4 1389,421.9 1389.7,424 1390.3,434.9 1390.9,428.7 1391.5,423.2 1392.1,424 1392.8,430.6 1393.4,427.2 1394,424.6 1394.6,427.3 1395.2,428.3 1395.9,437.2 1396.5,436.6 1397.1,432.5 1397.7,435.8 1398.3,433.5 1399,435.8 1399.6,435.8 1400.2,435.5 1400.8,432.6 1401.4,436.7 1402.1,433.9 1402.7,436.4 1403.3,431.5 1403.9,435.7 1404.5,437.8 1405.2,432.6 1405.8,424.8 1406.4,420.2 1407,431.5 1407.6,425.3 1408.3,431.4 1408.9,438.8 1409.5,443.3 1410.1,443.2 1410.7,444.6 1411.4,446.1 1412,445.1 1412.6,442.3 1413.2,437 1413.8,440.8 1414.5,439.1 1415.1,437.9 1415.7,430.2 1416.3,439.8 1416.9,446.2 1417.6,437.8 1418.2,443.7 1418.8,438.3 1419.4,431.5 1420,441.8 1420.7,441 1421.3,444.1 1421.9,442.9 1422.5,439.9 1423.1,436.7 1423.8,433.7 1424.4,448.3 1425,443.5 1425.6,448.3 1426.2,449.7 1426.9,440.1 1427.5,430.2 1428.1,424.5 1428.7,438.6 1429.3,440.3 1430,437.6 1430.6,436.6 1431.2,445.6 1431.8,433.7 1432.4,437.6 1433.1,428.2 1433.7,440.3 1434.3,447.7 1434.9,450.8 1435.5,440.5 1436.2,445.2 1436.8,447.2 1437.4,441.8 1438,424.9 1438.6,449.6 1439.3,439.3 1439.9,442.3 1440.5,438.4 1441.1,430 1441.7,435.9 1442.4,434.8 1443,440.5 1443.6,440.7 1444.2,455.8 1444.8,455.8 1445.5,439.1 1446.1,436.4 1446.7,439.8 1447.3,427 1447.9,441.6 1448.6,440.2 1449.2,438.3 1449.8,435.2 1450.4,442.5 1451,448.9 1451.7,440 1452.3,439.4 1452.9,425.5 1453.5,438.6 1454.1,438.5 1454.8,447.5 1455.4,447.6 1456,445.1 1456.6,436 1457.2,447.5 1457.9,443.5 1458.5,435.1 1459.1,426.6 1459.7,430.5 1460.3,431.8 1461,441 1461.6,441 1462.2,439.7 1462.8,446.4 1463.4,436.6 1464.1,429.4 1464.7,441.8 1465.3,434.8 1465.9,443.2 1466.5,432.2 1467.2,449.2 1467.8,451.3 1468.4,449.5 1469,444.9 1469.6,445.8 1470.3,439.9 1470.9,442.8 1471.5,440 1472.1,438 1472.7,433.5 1473.4,442.4 1474,446.4 1474.6,442.1 1475.2,431.4 1475.8,443.7 1476.5,449.2 1477.1,440.5 1477.7,432.3 1478.3,441.2 1478.9,448.2 1479.6,435.4 1480.2,445.7 1480.8,423.7 1481.4,443.5 1482,434.4 1482.7,438.9 1483.3,429.2 1483.9,435.7 1484.5,431.1 1485.1,438.2 1485.8,440.1 1486.4,442.4 1487,445.5 1487.6,437.6 1488.2,438.7 1488.9,437.3 1489.5,427.5 1490.1,433.2 1490.7,435.3 1491.3,440.7 1492,436.5 1492.6,433.2 1493.2,440.7 1493.8,444.7 1494.4,443.7 1495.1,437.3 1495.7,439.6 1496.3,435.9 1496.9,446.2 1497.5,435.1 1498.2,448.2 1498.8,449.8 1499.4,437.7 1500,430.7 1500.6,436.3 1501.3,429.3 1501.9,425 1502.5,422.9 1503.1,427.7 1503.7,433.5 1504.4,448.6 1505,440.3 1505.6,437.5 1506.2,433.2 1506.8,435 1507.5,434.9 1508.1,433 1508.7,431.2 1509.3,437.3 1509.9,431.4 1510.6,423.6 1511.2,428.4 1511.8,436.1 1512.4,424.2 1513,428.3 1513.7,427.6 1514.3,437.2 1514.9,432.2 1515.5,430.7 1516.1,432.5 1516.8,429.5 1517.4,427.5 1518,430.1 1518.6,430.2 1519.2,439.3 1519.9,430.3 1520.5,428.1 1521.1,422.4 1521.7,421.7 1522.3,435.6 1523,428.2 1523.6,432.4 1524.2,429.5 1524.8,435 1525.4,446.1 1526.1,431.8 1526.7,429.5 1527.3,420.9 1527.9,415.6 1528.5,429.2 1529.2,445.2 1529.8,433.2 1530.4,426 1531,430 1531.6,423.8 1532.3,426.6 1532.9,436.5 1533.5,436.4 1534.1,426.4 1534.7,440 1535.4,429.8 1536,434.7 1536.6,435.3 1537.2,418 1537.8,413.3 1538.5,431.4 1539.1,435.5 1539.7,426.4 1540.3,430.2 1540.9,433.7 1541.6,440.5 1542.2,424.9 1542.8,430.8 1543.4,420.4 1544,423.4 1544.7,417.2 1545.3,430 1545.9,432.1 1546.5,438.3 1547.1,425.9 1547.8,425.6 1548.4,420.6 1549,421.5 1549.6,417.6 1550.2,431.3 1550.9,436.2 1551.5,426.3 1552.1,428.6 1552.7,431.5 1553.3,425.8 1554,439.8 1554.6,419.2 1555.2,425.3 1555.8,430.4 1556.4,426.9 1557.1,425.1 1557.7,430.7 1558.3,422.3 1558.9,436.6 1559.5,431.7 1560.2,421.7 1560.8,429.3 1561.4,422.4 1562,430.6 1562.6,431.6 1563.3,435.2 1563.9,415.9 1564.5,417.5 1565.1,433.4 1565.7,435.9 1566.4,443.9 1567,428.9 1567.6,419.3 1568.2,430.9 1568.8,425.4 1569.5,428 1570.1,437.2 1570.7,439.6 1571.3,428.6 1571.9,433.6 1572.6,439.2 1573.2,430.1 1573.8,435.3 1574.4,425 1575,431.8 1575.7,434.7 1576.3,434.9 1576.9,431.4 1577.5,426 1578.1,436.7 1578.8,433.6 1579.4,431 1580,429 1580.6,440.9 1581.2,437.9 1581.9,427.9 1582.5,422.5 1583.1,443.1 1583.7,438.5 1584.3,439.9 1585,448.8 1585.6,441.7 1586.2,440.1 1586.8,434.8 1587.4,433.6 1588.1,428.9 1588.7,426.5 1589.3,426.9 1589.9,434.5 1590.5,428.7 1591.2,433.5 1591.8,441.7 1592.4,432.3 1593,435.8 1593.6,434.3 1594.3,426.3 1594.9,430.8 1595.5,431.4 1596.1,422 1596.7,419.6 1597.4,426.6 1598,430.5 1598.6,419.9 1599.2,418.8 1599.8,423.1 1600.5,425.2 1601.1,425.6 1601.7,420.4 1602.3,420.3 1602.9,424.8 1603.6,424.8 1604.2,404.4 1604.8,418.5 1605.4,420.6 1606,417.1 1606.7,412.8 1607.3,423.7 1607.9,423.7 1608.5,420.8 1609.1,422.6 1609.8,418.5 1610.4,427.9 1611,428.4 1611.6,420.2 1612.2,424.2 1612.9,410.5 1613.5,430.9 1614.1,424.9 1614.7,429.9 1615.3,435.3 1616,442.5 1616.6,433.1 1617.2,430 1617.8,431.7 1618.4,436.5 1619.1,434.1 1619.7,439.8 1620.3,432.1 1620.9,424.5 1621.5,427 1622.2,429.7 1622.8,425.5 1623.4,428.3 1624,432.7 1624.6,436 1625.3,439.7 1625.9,431.8 1626.5,429.8 1627.1,427.6 1627.7,431.5 1628.4,446.4 1629,446.4 1629.6,427 1630.2,438.2 1630.8,436.3 1631.5,431.4 1632.1,429.9 1632.7,438.1 1633.3,427.7 1633.9,419.9 1634.6,439.5 1635.2,445.4 1635.8,439.8 1636.4,425.7 1637,426.2 1637.7,431.9 1638.3,434.5 1638.9,438.3 1639.5,439.8 1640.1,412.7 1640.8,425.6 1641.4,436.6 1642,426.6 1642.6,439.5 1643.2,416.4 1643.9,420.8 1644.5,418.8 1645.1,430.3 1645.7,430.8 1646.3,424.6 1647,428.6 1647.6,429.9 1648.2,428.1 1648.8,413 1649.4,426.1 1650.1,425.9 1650.7,421.8 1651.3,415 1651.9,429.4 1652.5,413.6 1653.2,426 1653.8,430.4 1654.4,418.4 1655,417.7 1655.6,435.6 1656.3,429.7 1656.9,433.4 1657.5,427.9 1658.1,431.9 1658.7,433.6 1659.4,435.2 1660,431.5 1660.6,417.6 1661.2,419.3 1661.8,417.8 1662.5,415.1 1663.1,411.5 1663.7,413.7 1664.3,415.3 1664.9,412.2 1665.6,429 1666.2,434.7 1666.8,435.3 1667.4,427.2 1668,421.6 1668.7,413.9 1669.3,421.6 1669.9,419.4 1670.5,422.9 1671.1,421.9 1671.8,416 1672.4,437.2 1673,421.8 1673.6,425.3 1674.2,429.6 1674.9,431.4 1675.5,432 1676.1,431.1 1676.7,415.1 1677.3,416.9 1678,416.5 1678.6,414.7 1679.2,423.6 1679.8,428.3 1680.4,419.8 1681.1,412.4 1681.7,413 1682.3,413.2 1682.9,413.6 1683.5,415.8 1684.2,418.1 1684.8,416.2 1685.4,414 1686,432.7 1686.6,421.5 1687.3,412 1687.9,416.5 1688.5,423.2 1689.1,417.2 1689.7,422.7 1690.4,407.8 1691,412.8 1691.6,418.9 1692.2,411.3 1692.8,418.9 1693.5,416.1 1694.1,410.7 1694.7,418.2 1695.3,415.6 1695.9,417.2 1696.6,410.4 1697.2,423 1697.8,412.7 1698.4,424.4 1699,412.7 1699.7,412 1700.3,409.2 1700.9,416.7 1701.5,414.4 1702.1,416.6 1702.8,421 1703.4,422.6 1704,412.9 1704.6,408.4 1705.2,407.6 1705.9,429.3 1706.5,411.5 1707.1,413.3 1707.7,414.9 1708.3,427.7 1709,399.1 1709.6,401.4 1710.2,420.6 1710.8,411.5 1711.4,404.3 1712.1,407 1712.7,420.9 1713.3,428.6 1713.9,414.6 1714.5,421.4 1715.2,419.5 1715.8,414.7 1716.4,421.9 1717,429.7 1717.6,427.6 1718.3,418.2 1718.9,413.4 1719.5,418.8 1720.1,412.9 1720.7,431.3 1721.4,420.2 1722,417.8 1722.6,425.9 1723.2,411.8 1723.8,417.6 1724.5,416.8 1725.1,421 1725.7,409.8 1726.3,423 1726.9,420.8 1727.6,422.7 1728.2,419.7 1728.8,411.6 1729.4,421.1 1730,424.9 1730.7,415.4 1731.3,406.5 1731.9,408.6 1732.5,410.4 1733.1,411.7 1733.8,408.5 1734.4,404.9 1735,415.6 1735.6,415.2 1736.2,406.3 1736.9,410.8 1737.5,415.6 1738.1,425.3 1738.7,416.4 1739.3,423 1740,413.4 1740.6,427.7 1741.2,415.9 1741.8,413.6 1742.4,409.1 1743.1,417.2 1743.7,415.6 1744.3,417.1 1744.9,400.9 1745.5,412.4" fill="none" stroke="#8C0B05" stroke-width="2.1" stroke-linejoin="round" style="mix-blend-mode:multiply"/>
<polyline points="1084,477.9 1084.6,461.4 1085.2,477.5 1085.9,479.1 1086.5,474.1 1087.1,475.5 1087.7,473.8 1088.3,463 1089,465.7 1089.6,474.4 1090.2,473.7 1090.8,464.7 1091.4,477.5 1092.1,467.9 1092.7,465.1 1093.3,463.6 1093.9,465.8 1094.5,485.4 1095.2,477.5 1095.8,484.7 1096.4,474.6 1097,473.2 1097.6,465.6 1098.3,475.4 1098.9,480.3 1099.5,476.4 1100.1,475.7 1100.7,473.1 1101.4,472.9 1102,476 1102.6,478.2 1103.2,466.2 1103.8,466.4 1104.5,468.4 1105.1,460.1 1105.7,478.4 1106.3,481.4 1106.9,477 1107.6,473.6 1108.2,470.4 1108.8,476 1109.4,478.6 1110,474.8 1110.7,475 1111.3,480.2 1111.9,474.1 1112.5,477.3 1113.1,469.9 1113.8,476.4 1114.4,473 1115,475.4 1115.6,475.7 1116.2,479.7 1116.9,474.3 1117.5,478.1 1118.1,482.6 1118.7,480.7 1119.3,467.3 1120,477.6 1120.6,478.8 1121.2,473.9 1121.8,471.7 1122.4,476.6 1123.1,492.3 1123.7,474 1124.3,475.1 1124.9,478.3 1125.5,486.4 1126.2,479.5 1126.8,491 1127.4,482.2 1128,478.8 1128.6,479.8 1129.3,480.6 1129.9,494.3 1130.5,477.2 1131.1,478.7 1131.7,482.4 1132.4,480.6 1133,481 1133.6,488.4 1134.2,479.1 1134.8,474.9 1135.5,473.4 1136.1,483.5 1136.7,473.2 1137.3,477.9 1137.9,468.6 1138.6,478.6 1139.2,477.9 1139.8,473.3 1140.4,478.7 1141,480.5 1141.7,474.5 1142.3,482 1142.9,476.5 1143.5,478.8 1144.1,472.8 1144.8,470.5 1145.4,464.2 1146,467.2 1146.6,463.7 1147.2,461.7 1147.9,465.8 1148.5,456.9 1149.1,476.3 1149.7,471.2 1150.3,460.4 1151,461.5 1151.6,466 1152.2,467.9 1152.8,473.1 1153.4,470.2 1154.1,476.3 1154.7,474.3 1155.3,469.6 1155.9,468.8 1156.5,468.8 1157.2,472.1 1157.8,471.2 1158.4,457.7 1159,463.2 1159.6,457.9 1160.3,474.5 1160.9,467.7 1161.5,464.3 1162.1,452.6 1162.7,449 1163.4,460.3 1164,461.5 1164.6,453.2 1165.2,452.9 1165.8,460.9 1166.5,457.2 1167.1,451.2 1167.7,449 1168.3,456.9 1168.9,460.7 1169.6,463.7 1170.2,459.7 1170.8,468.2 1171.4,475.5 1172,477.4 1172.7,470.7 1173.3,475 1173.9,469.6 1174.5,482.9 1175.1,476.9 1175.8,477.1 1176.4,471.7 1177,488.1 1177.6,484.7 1178.2,478.8 1178.9,474.6 1179.5,484 1180.1,476.5 1180.7,474 1181.3,475.1 1182,486.5 1182.6,476.7 1183.2,474.3 1183.8,481.8 1184.4,473 1185.1,486.5 1185.7,477.9 1186.3,482 1186.9,483.3 1187.5,476 1188.2,468.8 1188.8,475.2 1189.4,471 1190,474.5 1190.6,481.3 1191.3,471.9 1191.9,480.7 1192.5,478.5 1193.1,465.7 1193.7,477.9 1194.4,477.3 1195,472.1 1195.6,472.8 1196.2,485.2 1196.8,472 1197.5,472.5 1198.1,480.9 1198.7,471.1 1199.3,468.1 1199.9,469.9 1200.6,465.3 1201.2,466.7 1201.8,467.1 1202.4,472.5 1203,471.2 1203.7,464.3 1204.3,465.7 1204.9,472.4 1205.5,475.3 1206.1,474.9 1206.8,461.6 1207.4,456 1208,467.7 1208.6,455.1 1209.2,462.2 1209.9,465.8 1210.5,462.5 1211.1,466.7 1211.7,460.1 1212.3,462.8 1213,465.9 1213.6,474.8 1214.2,465.1 1214.8,447.3 1215.4,458.4 1216.1,452.9 1216.7,465.4 1217.3,459.7 1217.9,455.1 1218.5,451.9 1219.2,460.9 1219.8,456.8 1220.4,458.7 1221,457.4 1221.6,458.1 1222.3,461.7 1222.9,461.4 1223.5,454.3 1224.1,462.7 1224.7,442 1225.4,442.9 1226,451.4 1226.6,457.7 1227.2,459.6 1227.8,455.9 1228.5,463.1 1229.1,450.3 1229.7,454.5 1230.3,451.8 1230.9,454.1 1231.6,456.1 1232.2,464.1 1232.8,447.8 1233.4,450.8 1234,446.8 1234.7,450.7 1235.3,456.4 1235.9,460.1 1236.5,454.9 1237.1,451.5 1237.8,456.1 1238.4,452.3 1239,440.1 1239.6,442.8 1240.2,456.9 1240.9,451 1241.5,443.3 1242.1,452 1242.7,443.7 1243.3,443.9 1244,448.1 1244.6,440.7 1245.2,445.4 1245.8,436.9 1246.4,438.5 1247.1,437.4 1247.7,423.5 1248.3,439.1 1248.9,430.1 1249.5,432.4 1250.2,425.3 1250.8,424.8 1251.4,422.3 1252,427 1252.6,421.1 1253.3,422.1 1253.9,419.9 1254.5,415.6 1255.1,415 1255.7,423.1 1256.4,422 1257,423.9 1257.6,430.8 1258.2,424.6 1258.8,432.8 1259.5,418.7 1260.1,424.3 1260.7,409.6 1261.3,410.4 1261.9,433.6 1262.6,425 1263.2,430.7 1263.8,417.6 1264.4,421.5 1265,431.8 1265.7,427 1266.3,427.2 1266.9,436.4 1267.5,430.1 1268.1,423.7 1268.8,429.7 1269.4,428.3 1270,439 1270.6,434.4 1271.2,432.7 1271.9,440.6 1272.5,439.8 1273.1,434.2 1273.7,435.7 1274.3,435.6 1275,437.2 1275.6,434.3 1276.2,443.1 1276.8,432.8 1277.4,434.3 1278.1,440.9 1278.7,441.5 1279.3,437.4 1279.9,443.6 1280.5,443 1281.2,437.6 1281.8,449.8 1282.4,443.2 1283,451.8 1283.6,454.2 1284.3,456.2 1284.9,461 1285.5,460.5 1286.1,452.6 1286.7,467.3 1287.4,451.8 1288,444.5 1288.6,453.7 1289.2,459.6 1289.8,466.9 1290.5,462.6 1291.1,460.6 1291.7,450 1292.3,454.1 1292.9,465.4 1293.6,457 1294.2,460 1294.8,456.5 1295.4,453.1 1296,474.1 1296.7,475.7 1297.3,467.1 1297.9,459.6 1298.5,459.8 1299.1,460.6 1299.8,469.6 1300.4,465.9 1301,469.7 1301.6,466.3 1302.2,476.6 1302.9,481.2 1303.5,468.7 1304.1,466 1304.7,471.6 1305.3,467.3 1306,465 1306.6,456.5 1307.2,465.8 1307.8,457.1 1308.4,464.8 1309.1,467.8 1309.7,476.6 1310.3,480.8 1310.9,472.3 1311.5,464.3 1312.2,473.6 1312.8,473.4 1313.4,470.2 1314,470.6 1314.6,468.2 1315.3,475.1 1315.9,475.7 1316.5,467.3 1317.1,468.4 1317.7,462.2 1318.4,467 1319,462.2 1319.6,453.8 1320.2,465.2 1320.8,469.8 1321.5,467.6 1322.1,468.7 1322.7,475.6 1323.3,462.8 1323.9,470.4 1324.6,474.5 1325.2,457.4 1325.8,459.4 1326.4,455.7 1327,461.3 1327.7,458.7 1328.3,462.4 1328.9,453.2 1329.5,469.5 1330.1,461.2 1330.8,469.6 1331.4,444.1 1332,457.8 1332.6,447 1333.2,449.2 1333.9,453 1334.5,449.3 1335.1,433.9 1335.7,441.8 1336.3,444.6 1337,443.1 1337.6,438.6 1338.2,434.5 1338.8,444.9 1339.4,450.8 1340.1,443.2 1340.7,450.4 1341.3,439 1341.9,447.7 1342.5,439.5 1343.2,441.2 1343.8,439.8 1344.4,441.9 1345,450.5 1345.6,446.5 1346.3,451.2 1346.9,450.8 1347.5,436.4 1348.1,436.7 1348.7,452.2 1349.4,442.8 1350,436.8 1350.6,440.6 1351.2,439.9 1351.8,436.3 1352.5,429.2 1353.1,435.5 1353.7,433.9 1354.3,448.4 1354.9,443.1 1355.6,438 1356.2,451.3 1356.8,453.8 1357.4,441.7 1358,447.9 1358.7,438.6 1359.3,444.2 1359.9,451.6 1360.5,448 1361.1,451.8 1361.8,464.7 1362.4,461.8 1363,473.7 1363.6,467.1 1364.2,465.1 1364.9,463.1 1365.5,469.4 1366.1,465.4 1366.7,464.4 1367.3,470.7 1368,484.1 1368.6,470.8 1369.2,470.9 1369.8,478.5 1370.4,485.7 1371.1,476.5 1371.7,488.6 1372.3,484.9 1372.9,480.2 1373.5,481 1374.2,483.1 1374.8,479.5 1375.4,485.7 1376,481.3 1376.6,483.2 1377.3,487.8 1377.9,491.1 1378.5,484 1379.1,489.3 1379.7,492.4 1380.4,476.2 1381,481.2 1381.6,475.4 1382.2,485.5 1382.8,488.5 1383.5,492.8 1384.1,488.1 1384.7,492.9 1385.3,490.3 1385.9,487.1 1386.6,488.4 1387.2,488.9 1387.8,494.1 1388.4,483.8 1389,485.8 1389.7,481.2 1390.3,487.1 1390.9,496.2 1391.5,494 1392.1,503.5 1392.8,496.7 1393.4,496.7 1394,488.4 1394.6,484.6 1395.2,482.6 1395.9,487.2 1396.5,488.8 1397.1,497.3 1397.7,489.9 1398.3,476.2 1399,490.9 1399.6,487 1400.2,476.5 1400.8,485.8 1401.4,486.7 1402.1,491.8 1402.7,494 1403.3,497.3 1403.9,496.4 1404.5,505 1405.2,498.1 1405.8,499.6 1406.4,503.5 1407,482.6 1407.6,494.8 1408.3,494 1408.9,480.8 1409.5,486.4 1410.1,484 1410.7,494.8 1411.4,490.5 1412,480 1412.6,485.2 1413.2,481.1 1413.8,491.9 1414.5,480.7 1415.1,479.7 1415.7,474.3 1416.3,489.6 1416.9,480.2 1417.6,481.4 1418.2,479.7 1418.8,489.6 1419.4,489 1420,493.9 1420.7,484.8 1421.3,477.4 1421.9,478.7 1422.5,486.6 1423.1,486.4 1423.8,492.4 1424.4,495.3 1425,496.4 1425.6,493.6 1426.2,502.7 1426.9,492.8 1427.5,497.9 1428.1,490.3 1428.7,491.6 1429.3,496.5 1430,485.5 1430.6,486 1431.2,502.8 1431.8,487.9 1432.4,493.5 1433.1,486.5 1433.7,491.2 1434.3,491.6 1434.9,494.1 1435.5,496.6 1436.2,497.7 1436.8,495.6 1437.4,487.7 1438,493.7 1438.6,497.7 1439.3,493.4 1439.9,490.9 1440.5,496 1441.1,486.2 1441.7,498.9 1442.4,496.8 1443,502.8 1443.6,492.2 1444.2,494.2 1444.8,489.4 1445.5,494.4 1446.1,500.7 1446.7,490.6 1447.3,486.3 1447.9,493 1448.6,494.5 1449.2,492.2 1449.8,496.8 1450.4,478.2 1451,490.4 1451.7,485.2 1452.3,492.6 1452.9,486.6 1453.5,490.6 1454.1,489.3 1454.8,487.8 1455.4,487.1 1456,491.2 1456.6,489.4 1457.2,503 1457.9,501.4 1458.5,500.5 1459.1,492.2 1459.7,489 1460.3,486.1 1461,491.6 1461.6,495.6 1462.2,493.5 1462.8,492 1463.4,483.7 1464.1,499.7 1464.7,489.8 1465.3,484.4 1465.9,496.9 1466.5,492.3 1467.2,504.5 1467.8,498.8 1468.4,491.7 1469,490.5 1469.6,486.7 1470.3,492.4 1470.9,500 1471.5,500.2 1472.1,496.5 1472.7,494.5 1473.4,504.4 1474,482.9 1474.6,494.5 1475.2,488.5 1475.8,488.5 1476.5,492.6 1477.1,491.1 1477.7,482.7 1478.3,489.9 1478.9,488 1479.6,481.6 1480.2,482.9 1480.8,492 1481.4,497.3 1482,496.8 1482.7,490.1 1483.3,491.8 1483.9,487.3 1484.5,481.7 1485.1,480 1485.8,490.2 1486.4,487.9 1487,492.9 1487.6,492.8 1488.2,495.4 1488.9,498.3 1489.5,497.2 1490.1,490.9 1490.7,489.1 1491.3,487 1492,492.4 1492.6,485 1493.2,493.6 1493.8,487.6 1494.4,486.7 1495.1,492 1495.7,500.3 1496.3,492.1 1496.9,489.7 1497.5,488.7 1498.2,489.7 1498.8,493.4 1499.4,479.1 1500,480.6 1500.6,497.6 1501.3,487.4 1501.9,494.4 1502.5,498.1 1503.1,493.1 1503.7,482.3 1504.4,497.1 1505,501 1505.6,491 1506.2,481.9 1506.8,483 1507.5,482.6 1508.1,488.4 1508.7,489.9 1509.3,497 1509.9,487.5 1510.6,493.4 1511.2,505 1511.8,498 1512.4,492.9 1513,489.6 1513.7,478.5 1514.3,490.1 1514.9,480.6 1515.5,493.7 1516.1,495.2 1516.8,494.7 1517.4,497 1518,502.9 1518.6,501 1519.2,492.9 1519.9,487.9 1520.5,498.3 1521.1,499.8 1521.7,498.3 1522.3,489.9 1523,493.4 1523.6,488.2 1524.2,499.5 1524.8,491.8 1525.4,497.6 1526.1,499.4 1526.7,503.6 1527.3,503.9 1527.9,502.1 1528.5,498.8 1529.2,501 1529.8,502.4 1530.4,504.9 1531,506.1 1531.6,504.9 1532.3,493.8 1532.9,510.5 1533.5,514.4 1534.1,506.4 1534.7,503.1 1535.4,500.9 1536,500.5 1536.6,505.5 1537.2,492.9 1537.8,500.4 1538.5,496.4 1539.1,492.4 1539.7,494.5 1540.3,493.2 1540.9,514.1 1541.6,507 1542.2,500.3 1542.8,505.7 1543.4,497.2 1544,495.9 1544.7,490.7 1545.3,494.6 1545.9,491.1 1546.5,503.6 1547.1,499.2 1547.8,490.8 1548.4,502.1 1549,502.6 1549.6,509.2 1550.2,502 1550.9,496.6 1551.5,495.4 1552.1,500.3 1552.7,500.1 1553.3,487.1 1554,487.4 1554.6,496.7 1555.2,488.5 1555.8,509 1556.4,505.3 1557.1,486.1 1557.7,498.1 1558.3,495.5 1558.9,492.8 1559.5,496.4 1560.2,492.7 1560.8,489.9 1561.4,493.3 1562,505.6 1562.6,504 1563.3,509.4 1563.9,499 1564.5,503 1565.1,504.2 1565.7,488.3 1566.4,490.9 1567,503 1567.6,492.9 1568.2,503.6 1568.8,500.1 1569.5,502.6 1570.1,504 1570.7,493.2 1571.3,499.9 1571.9,497 1572.6,490.8 1573.2,488.8 1573.8,490.8 1574.4,495.6 1575,493.3 1575.7,496.3 1576.3,483.7 1576.9,497.2 1577.5,494.6 1578.1,487.9 1578.8,491.7 1579.4,500 1580,494.4 1580.6,482 1581.2,490.6 1581.9,498.7 1582.5,489.3 1583.1,490.5 1583.7,495.8 1584.3,501.3 1585,505.8 1585.6,498.6 1586.2,499.2 1586.8,496.6 1587.4,500.9 1588.1,499.6 1588.7,499.2 1589.3,497.7 1589.9,495 1590.5,499.9 1591.2,494.1 1591.8,497.8 1592.4,503.2 1593,499.2 1593.6,492.8 1594.3,499.6 1594.9,493.6 1595.5,500.3 1596.1,496.6 1596.7,505 1597.4,498.7 1598,501.6 1598.6,514.6 1599.2,507.9 1599.8,502.8 1600.5,503.4 1601.1,502.1 1601.7,499.2 1602.3,493.4 1602.9,500.4 1603.6,500.4 1604.2,502.5 1604.8,514.2 1605.4,501.5 1606,494.2 1606.7,496.6 1607.3,496.2 1607.9,501.1 1608.5,494.1 1609.1,500 1609.8,499.8 1610.4,486.7 1611,493.8 1611.6,497.8 1612.2,504 1612.9,498.4 1613.5,498.9 1614.1,505 1614.7,503.2 1615.3,494.4 1616,491.8 1616.6,503.9 1617.2,506.3 1617.8,495.6 1618.4,483.3 1619.1,495.5 1619.7,492.9 1620.3,490.5 1620.9,492.5 1621.5,510.9 1622.2,499.3 1622.8,499.9 1623.4,501.3 1624,496.1 1624.6,495.5 1625.3,499.4 1625.9,497.7 1626.5,499 1627.1,500.9 1627.7,504.3 1628.4,489.9 1629,492.1 1629.6,500.8 1630.2,506.3 1630.8,508.2 1631.5,499 1632.1,497 1632.7,493.3 1633.3,500.3 1633.9,507.2 1634.6,502 1635.2,507.5 1635.8,509.3 1636.4,514.8 1637,512.9 1637.7,505.3 1638.3,502.4 1638.9,495.4 1639.5,492.9 1640.1,498.4 1640.8,508.6 1641.4,505.2 1642,511.7 1642.6,508.1 1643.2,506.5 1643.9,498.9 1644.5,500.5 1645.1,504.6 1645.7,501.5 1646.3,494.7 1647,503.9 1647.6,501.4 1648.2,507.3 1648.8,506.3 1649.4,505.5 1650.1,507.1 1650.7,502.7 1651.3,507.4 1651.9,498.6 1652.5,509.8 1653.2,502.7 1653.8,510.5 1654.4,498.3 1655,495.4 1655.6,509 1656.3,502 1656.9,504.7 1657.5,504.5 1658.1,505.9 1658.7,499.3 1659.4,495.8 1660,514.6 1660.6,490.5 1661.2,485.4 1661.8,485.8 1662.5,502.2 1663.1,506.5 1663.7,504.2 1664.3,487.9 1664.9,498.9 1665.6,500.6 1666.2,502.5 1666.8,506.6 1667.4,497.6 1668,490.4 1668.7,496.4 1669.3,504.4 1669.9,486.5 1670.5,493.6 1671.1,495.1 1671.8,489.1 1672.4,497.2 1673,497.3 1673.6,503 1674.2,492.1 1674.9,501.7 1675.5,498.1 1676.1,495.2 1676.7,495.9 1677.3,486.3 1678,485 1678.6,502.5 1679.2,496.5 1679.8,489.9 1680.4,487.3 1681.1,483 1681.7,494.4 1682.3,487.7 1682.9,491.6 1683.5,497.1 1684.2,504.9 1684.8,505.6 1685.4,502.9 1686,491.6 1686.6,496.3 1687.3,490.5 1687.9,491.1 1688.5,492.3 1689.1,492.8 1689.7,504.6 1690.4,497.2 1691,499 1691.6,499.7 1692.2,506.2 1692.8,497.5 1693.5,491.3 1694.1,490.6 1694.7,504.6 1695.3,498.6 1695.9,496.1 1696.6,496.7 1697.2,493 1697.8,484.9 1698.4,493.1 1699,493.6 1699.7,494.9 1700.3,496.1 1700.9,496.6 1701.5,488.3 1702.1,494.9 1702.8,482.8 1703.4,509.8 1704,502.7 1704.6,499.8 1705.2,506.8 1705.9,500.8 1706.5,498.5 1707.1,502.9 1707.7,501.7 1708.3,489.4 1709,506.4 1709.6,496.7 1710.2,488.1 1710.8,510 1711.4,489.3 1712.1,494.3 1712.7,494.1 1713.3,500.3 1713.9,498.2 1714.5,499.5 1715.2,503.2 1715.8,500.3 1716.4,491.6 1717,491.2 1717.6,494.2 1718.3,501.5 1718.9,500.1 1719.5,496 1720.1,492.4 1720.7,491.2 1721.4,503.8 1722,510.5 1722.6,495.8 1723.2,482.2 1723.8,491.3 1724.5,491.6 1725.1,492.9 1725.7,496.9 1726.3,496.7 1726.9,503.7 1727.6,498.7 1728.2,496.7 1728.8,505.2 1729.4,511 1730,498.3 1730.7,500.9 1731.3,493.3 1731.9,500.5 1732.5,492.6 1733.1,495.7 1733.8,496.9 1734.4,495.6 1735,494.5 1735.6,501.9 1736.2,498.5 1736.9,503.2 1737.5,500.8 1738.1,490.3 1738.7,497.2 1739.3,489.6 1740,507.7 1740.6,496.9 1741.2,491.7 1741.8,498 1742.4,485.2 1743.1,505 1743.7,494.3 1744.3,506.1 1744.9,499.9 1745.5,496.4" fill="none" stroke="#3A0606" stroke-width="2.1" stroke-linejoin="round" style="mix-blend-mode:multiply"/>
<path d="M1083.2 537.8 H1750.5" stroke="#000" stroke-width="2" fill="none"/>
<path d="M1084.2 537.8V548.1M1217.3 537.8V548.1M1350.3 537.8V548.1M1483.4 537.8V548.1M1616.4 537.8V548.1M1749.5 537.8V548.1M1150.7 537.8V542.8M1283.8 537.8V542.8M1416.8 537.8V542.8M1549.9 537.8V542.8M1683 537.8V542.8" stroke="#000" stroke-width="2" fill="none"/>
<text x="1083.8" y="579.2" font-size="30.1" text-anchor="middle">800</text>
<text x="1216.4" y="579.2" font-size="30.1" text-anchor="middle">1200</text>
<text x="1348.9" y="579.2" font-size="30.1" text-anchor="middle">1600</text>
<text x="1481.5" y="579.2" font-size="30.1" text-anchor="middle">2000</text>
<text x="1614" y="579.2" font-size="30.1" text-anchor="middle">2400</text>
<text x="1746.6" y="579.2" font-size="30.1" text-anchor="middle">2800</text>
<text x="1277.6" y="623.2" font-size="36.7" xml:space="preserve">Raman  shift (cm<tspan font-size="23" dy="-11.5">-1</tspan><tspan dy="11.5">)</tspan></text>
<text x="1021.8" y="25.3" font-size="35" font-weight="bold">b</text>
<text x="1257.6" y="39.5" font-size="30.5" text-anchor="middle">D</text>
<text x="1353.8" y="39.5" font-size="30.5" text-anchor="middle">G</text>
<text x="1126.6" y="90.5" font-size="30.5">SO<tspan font-size="21.5" dy="7.8">4</tspan><tspan font-size="21.5" dy="-17.4">2-</tspan></text>
<text x="1595.8" y="122" font-size="32" text-anchor="middle">Se-H</text>
<text x="1794.2" y="187.9" font-size="27">-0.3</text>
<text x="1863" y="187.9" font-size="27">V</text>
<text x="1794.2" y="249.6" font-size="27">-0.25</text>
<text x="1863" y="249.6" font-size="27">V</text>
<text x="1794.2" y="307.2" font-size="27">-0.2</text>
<text x="1863" y="307.2" font-size="27">V</text>
<text x="1794.2" y="370.5" font-size="27">-0.15</text>
<text x="1863" y="370.5" font-size="27">V</text>
<text x="1795.5" y="428.4" font-size="27">-0.1</text>
<text x="1865.3" y="428.4" font-size="27">V</text>
<text x="1819.6" y="492.3" font-size="27">0</text>
<text x="1865.3" y="492.3" font-size="27">V</text>
<path d="M1927.3 499V172" stroke="#000" stroke-width="2.9" stroke-dasharray="13.6 6.5" fill="none"/>
<path d="M1927.3 158.8L1934.2 172.5H1920.4Z" fill="#000"/>
</g>
<g id="panel-c">
<text x="3.2" y="679.2" font-size="34" font-weight="bold">c</text>
<polygon points="219.5,687 219.5,838 220.1,838.3 220.9,838.6 221.9,839.1 222.9,839.5 224,840 225.1,840.5 226.2,840.9 227.4,841.4 228.7,842 230,842.5 231.6,843.1 233.6,843.7 235.5,844.3 236.9,844.9 237.5,845.5 237,846 235.6,846.5 233.8,847 231.8,847.5 230,848 228.3,848.6 226.6,849.2 224.8,849.8 223.3,850.4 222,851 221.1,851.6 220.5,852.2 220.1,852.7 219.8,853.3 219.5,854 219.3,854.8 219.3,855.6 219.4,856.5 219.3,857.3 219,858 218.5,858.6 217.9,859.1 217.2,859.5 216.2,860 215,860.5 213.4,861.1 211.4,861.8 209.3,862.6 207.1,863.3 205,864 202.9,864.7 200.8,865.4 198.7,866.1 196.7,866.8 195,867.5 193.7,868.2 192.7,868.8 191.8,869.4 190.6,870 189,870.5 186.7,870.9 184,871.2 181.1,871.5 178,871.7 175,872 172,872.3 168.9,872.5 165.9,872.8 162.8,873 160,873.3 157,873.6 153.7,873.8 150.7,874.1 148.5,874.3 147.7,874.6 148.5,874.9 150.5,875.2 153.3,875.5 156.7,875.7 160,876 163.6,876.2 167.7,876.4 172,876.6 176.2,876.8 180,877 183.4,877.2 186.6,877.3 189.6,877.5 192.4,877.6 195,877.8 197.4,877.9 199.6,878 201.5,878.2 203.3,878.3 205,878.5 206.5,878.7 207.8,879 209,879.2 210,879.6 211,880 211.9,880.6 212.8,881.3 213.5,882.1 214.1,882.8 214.4,883.4 214.3,883.8 214,884.2 213.5,884.5 212.9,884.7 212.5,885 212.2,885.3 211.8,885.6 211.6,885.8 211.4,886.1 211.4,886.4 211.6,886.7 212,887 212.5,887.4 213.1,887.7 213.5,888 214,888.3 214.5,888.5 215,888.8 215.3,889 215.2,889.4 214.6,889.8 213.7,890.4 212.5,890.9 211.3,891.5 210,892 208.7,892.5 207.3,893 205.8,893.5 204.4,894 203,894.5 201.6,895 200.2,895.5 198.8,896.1 197.8,896.6 197.2,897 197.1,897.4 197.4,897.7 197.9,897.9 198.8,898.2 200,898.5 201.6,898.8 203.8,899.1 206.1,899.4 208.3,899.7 210,900 211.2,900.4 212.1,900.7 212.7,901.1 213.3,901.6 214,902 214.8,902.4 215.7,902.9 216.5,903.3 217.1,903.8 217.4,904.4 217.3,905 216.9,905.7 216.4,906.5 215.7,907.2 215,908 214.3,908.8 213.4,909.6 212.6,910.5 211.7,911.3 211,912 210.3,912.6 209.6,913.1 209,913.5 208.6,914 208.5,914.5 208.8,915.1 209.3,915.8 210.1,916.5 211,917.2 212,918 213.2,918.9 214.8,919.8 216.3,920.7 217.7,921.6 218.5,922.5 218.7,923.2 218.5,923.9 218.1,924.5 217.5,925.2 217,926 216.4,927.1 215.8,928.4 215.1,929.7 214.5,931 214.2,932 214.3,932.8 214.6,933.4 215,933.9 215.6,934.4 216,935 216.5,935.6 217.1,936.2 217.7,936.8 218,937.4 218,938 217.5,938.6 216.5,939.2 215.4,939.8 214.1,940.4 213,941 211.8,941.6 210.4,942.2 209,942.8 208,943.4 207.5,944 207.7,944.5 208.5,945 209.6,945.5 210.8,946 212,946.5 213.3,946.9 214.7,947.3 216.2,947.7 217.5,948.3 218.5,949 219.1,950 219.4,951.1 219.5,952.4 219.5,953.7 219.5,955 219.4,956.2 219.2,957.4 218.8,958.5 218.5,959.8 218,961 217.3,962.3 216.5,963.6 215.6,965 215,966.4 214.7,967.7 215,969 215.8,970.3 216.8,971.5 217.6,972.8 218,974 217.8,975.3 217.2,976.6 216.4,977.8 215.7,979.1 215.5,980.2 215.8,981.2 216.4,981.9 217.2,982.7 218,983.7 218.5,985 218.8,987 219,989.4 219,992 219,994.3 219,996 219.4,996.9 220.2,997.3 220.8,997.5 220.3,997.5 218,997.7 213.5,998.1 207.2,998.5 199.9,998.8 192.2,999.2 185,999.6 178.1,1000 170.9,1000.3 163.7,1000.7 156.8,1001 150.3,1001.4 143.5,1001.8 136.1,1002.1 129.5,1002.5 124.7,1002.8 122.8,1003.2 124.7,1003.6 129.5,1003.9 136.1,1004.3 143.5,1004.7 150.3,1005 156.8,1005.3 163.7,1005.6 170.9,1005.8 178.1,1006.1 185,1006.5 192.2,1007 199.8,1007.5 207.1,1008.1 213.4,1008.7 218,1009.2 220.3,1009.6 220.9,1010.1 220.5,1010.5 219.8,1010.8 219.5,1011 219.5,1072.9 219.8,1073.2 220.2,1073.6 220.7,1074.1 221.2,1074.7 221.7,1075.4 222.2,1076.2 222.7,1077.2 223.2,1078.2 223.8,1079.3 224.3,1080.4 224.8,1081.6 225.3,1082.8 225.8,1084.1 226.3,1085.4 226.8,1086.7 227.3,1088 227.7,1089.4 228.1,1090.7 228.6,1091.9 229.3,1092.9 230.1,1093.6 231.1,1094.2 232.1,1094.6 233.2,1095 234.3,1095.4 235.5,1095.9 236.8,1096.4 238.1,1096.9 239.4,1097.4 240.5,1097.9 241.2,1098.4 241.6,1098.9 242,1099.5 242.8,1100 244.3,1100.4 246.9,1100.8 250.5,1101.1 254.3,1101.3 257.9,1101.6 260.6,1101.9 262.6,1102.2 264.4,1102.5 265.6,1102.9 266.1,1103.2 265.6,1103.5 263.9,1103.8 261,1104.1 257.6,1104.4 253.9,1104.7 250.6,1105 246.9,1105.3 242.5,1105.7 238.5,1106.1 235.8,1106.4 235.5,1106.7 238.2,1106.9 243.3,1107.2 249.8,1107.3 256.6,1107.5 263,1107.7 269.4,1107.9 276.3,1108.1 283.2,1108.2 289,1108.4 293.2,1108.5 219.5,1108.5 219.5,686.9" fill="#FDE4CE" stroke="none"/>
<polyline points="219.5,687 219.5,838 220.1,838.3 220.9,838.6 221.9,839.1 222.9,839.5 224,840 225.1,840.5 226.2,840.9 227.4,841.4 228.7,842 230,842.5 231.6,843.1 233.6,843.7 235.5,844.3 236.9,844.9 237.5,845.5 237,846 235.6,846.5 233.8,847 231.8,847.5 230,848 228.3,848.6 226.6,849.2 224.8,849.8 223.3,850.4 222,851 221.1,851.6 220.5,852.2 220.1,852.7 219.8,853.3 219.5,854 219.3,854.8 219.3,855.6 219.4,856.5 219.3,857.3 219,858 218.5,858.6 217.9,859.1 217.2,859.5 216.2,860 215,860.5 213.4,861.1 211.4,861.8 209.3,862.6 207.1,863.3 205,864 202.9,864.7 200.8,865.4 198.7,866.1 196.7,866.8 195,867.5 193.7,868.2 192.7,868.8 191.8,869.4 190.6,870 189,870.5 186.7,870.9 184,871.2 181.1,871.5 178,871.7 175,872 172,872.3 168.9,872.5 165.9,872.8 162.8,873 160,873.3 157,873.6 153.7,873.8 150.7,874.1 148.5,874.3 147.7,874.6 148.5,874.9 150.5,875.2 153.3,875.5 156.7,875.7 160,876 163.6,876.2 167.7,876.4 172,876.6 176.2,876.8 180,877 183.4,877.2 186.6,877.3 189.6,877.5 192.4,877.6 195,877.8 197.4,877.9 199.6,878 201.5,878.2 203.3,878.3 205,878.5 206.5,878.7 207.8,879 209,879.2 210,879.6 211,880 211.9,880.6 212.8,881.3 213.5,882.1 214.1,882.8 214.4,883.4 214.3,883.8 214,884.2 213.5,884.5 212.9,884.7 212.5,885 212.2,885.3 211.8,885.6 211.6,885.8 211.4,886.1 211.4,886.4 211.6,886.7 212,887 212.5,887.4 213.1,887.7 213.5,888 214,888.3 214.5,888.5 215,888.8 215.3,889 215.2,889.4 214.6,889.8 213.7,890.4 212.5,890.9 211.3,891.5 210,892 208.7,892.5 207.3,893 205.8,893.5 204.4,894 203,894.5 201.6,895 200.2,895.5 198.8,896.1 197.8,896.6 197.2,897 197.1,897.4 197.4,897.7 197.9,897.9 198.8,898.2 200,898.5 201.6,898.8 203.8,899.1 206.1,899.4 208.3,899.7 210,900 211.2,900.4 212.1,900.7 212.7,901.1 213.3,901.6 214,902 214.8,902.4 215.7,902.9 216.5,903.3 217.1,903.8 217.4,904.4 217.3,905 216.9,905.7 216.4,906.5 215.7,907.2 215,908 214.3,908.8 213.4,909.6 212.6,910.5 211.7,911.3 211,912 210.3,912.6 209.6,913.1 209,913.5 208.6,914 208.5,914.5 208.8,915.1 209.3,915.8 210.1,916.5 211,917.2 212,918 213.2,918.9 214.8,919.8 216.3,920.7 217.7,921.6 218.5,922.5 218.7,923.2 218.5,923.9 218.1,924.5 217.5,925.2 217,926 216.4,927.1 215.8,928.4 215.1,929.7 214.5,931 214.2,932 214.3,932.8 214.6,933.4 215,933.9 215.6,934.4 216,935 216.5,935.6 217.1,936.2 217.7,936.8 218,937.4 218,938 217.5,938.6 216.5,939.2 215.4,939.8 214.1,940.4 213,941 211.8,941.6 210.4,942.2 209,942.8 208,943.4 207.5,944 207.7,944.5 208.5,945 209.6,945.5 210.8,946 212,946.5 213.3,946.9 214.7,947.3 216.2,947.7 217.5,948.3 218.5,949 219.1,950 219.4,951.1 219.5,952.4 219.5,953.7 219.5,955 219.4,956.2 219.2,957.4 218.8,958.5 218.5,959.8 218,961 217.3,962.3 216.5,963.6 215.6,965 215,966.4 214.7,967.7 215,969 215.8,970.3 216.8,971.5 217.6,972.8 218,974 217.8,975.3 217.2,976.6 216.4,977.8 215.7,979.1 215.5,980.2 215.8,981.2 216.4,981.9 217.2,982.7 218,983.7 218.5,985 218.8,987 219,989.4 219,992 219,994.3 219,996 219.4,996.9 220.2,997.3 220.8,997.5 220.3,997.5 218,997.7 213.5,998.1 207.2,998.5 199.9,998.8 192.2,999.2 185,999.6 178.1,1000 170.9,1000.3 163.7,1000.7 156.8,1001 150.3,1001.4 143.5,1001.8 136.1,1002.1 129.5,1002.5 124.7,1002.8 122.8,1003.2 124.7,1003.6 129.5,1003.9 136.1,1004.3 143.5,1004.7 150.3,1005 156.8,1005.3 163.7,1005.6 170.9,1005.8 178.1,1006.1 185,1006.5 192.2,1007 199.8,1007.5 207.1,1008.1 213.4,1008.7 218,1009.2 220.3,1009.6 220.9,1010.1 220.5,1010.5 219.8,1010.8 219.5,1011 219.5,1072.9 219.8,1073.2 220.2,1073.6 220.7,1074.1 221.2,1074.7 221.7,1075.4 222.2,1076.2 222.7,1077.2 223.2,1078.2 223.8,1079.3 224.3,1080.4 224.8,1081.6 225.3,1082.8 225.8,1084.1 226.3,1085.4 226.8,1086.7 227.3,1088 227.7,1089.4 228.1,1090.7 228.6,1091.9 229.3,1092.9 230.1,1093.6 231.1,1094.2 232.1,1094.6 233.2,1095 234.3,1095.4 235.5,1095.9 236.8,1096.4 238.1,1096.9 239.4,1097.4 240.5,1097.9 241.2,1098.4 241.6,1098.9 242,1099.5 242.8,1100 244.3,1100.4 246.9,1100.8 250.5,1101.1 254.3,1101.3 257.9,1101.6 260.6,1101.9 262.6,1102.2 264.4,1102.5 265.6,1102.9 266.1,1103.2 265.6,1103.5 263.9,1103.8 261,1104.1 257.6,1104.4 253.9,1104.7 250.6,1105 246.9,1105.3 242.5,1105.7 238.5,1106.1 235.8,1106.4 235.5,1106.7 238.2,1106.9 243.3,1107.2 249.8,1107.3 256.6,1107.5 263,1107.7 269.4,1107.9 276.3,1108.1 283.2,1108.2 289,1108.4 293.2,1108.5" fill="none" stroke="#FF7F0E" stroke-width="2.9" stroke-linejoin="round"/>
<path d="M219.5 686.9V1108.5" stroke="#FF7F0E" stroke-width="3" fill="none"/>
<path d="M108.9 898.3H308.3" stroke="#000" stroke-width="3" stroke-dasharray="15.3 15" fill="none"/>
<path d="M107.4 686.9H308.3V1108.5H107.4Z" stroke="#000" stroke-width="2" fill="none"/>
<path d="M107.4 686.9H98.4M107.4 757.2H98.4M107.4 827.4H98.4M107.4 897.7H98.4M107.4 968H98.4M107.4 1038.2H98.4M107.4 1108.5H98.4M107.4 722H102.8M107.4 792.3H102.8M107.4 862.6H102.8M107.4 932.8H102.8M107.4 1003.1H102.8M107.4 1073.4H102.8M119.5 1108.5V1117.1M144.6 1108.5V1113.5M169.6 1108.5V1117.1M194.7 1108.5V1113.5M219.7 1108.5V1117.1M244.9 1108.5V1113.5M270.1 1108.5V1117.1M295.3 1108.5V1113.5" stroke="#000" stroke-width="2" fill="none"/>
<text x="93.8" y="701.9" font-size="29.8" text-anchor="end">15</text>
<text x="93.8" y="771.8" font-size="29.8" text-anchor="end">10</text>
<text x="93.8" y="841.8" font-size="29.8" text-anchor="end">5</text>
<text x="93.8" y="911.9" font-size="29.8" text-anchor="end">0</text>
<text x="93.8" y="982" font-size="29.8" text-anchor="end">-5</text>
<text x="93.8" y="1051.7" font-size="29.8" text-anchor="end">-10</text>
<text x="93.8" y="1121.7" font-size="29.8" text-anchor="end">-15</text>
<text x="120.7" y="1146.8" font-size="30" text-anchor="middle">-4</text>
<text x="170.6" y="1146.8" font-size="30" text-anchor="middle">-2</text>
<text x="220.8" y="1146.8" font-size="30" text-anchor="middle">0</text>
<text x="269.2" y="1146.8" font-size="30" text-anchor="middle">2</text>
<text x="130.8" y="792.3" font-size="23.9">iCOHP</text>
<text x="135.5" y="824.4" font-size="22.5" fill="#FF8C2E">-2.09</text>
<text x="277.8" y="880.9" font-size="25.5">E<tspan font-size="17.5" dy="7">f</tspan></text>
<text transform="translate(55.2,899.2) rotate(-90)" font-size="32.2" text-anchor="middle">Energy (eV)</text>
<text x="197" y="1185.1" font-size="31.9" text-anchor="middle">-pCOHP</text>
<polygon points="495,689 495,836 495.1,836.2 495.2,836.5 495.4,836.9 495.6,837.3 496,837.7 496.5,838.1 497.2,838.5 498,839 498.8,839.5 499.5,840 500.2,840.6 501,841.1 501.8,841.8 502.3,842.4 502.4,843.1 502,843.9 501.3,844.7 500.3,845.5 499.3,846.3 498.4,847 497.6,847.5 496.9,847.9 496.2,848.3 495.5,848.7 495,849.4 494.8,850.4 494.8,851.6 494.8,852.9 494.5,854.2 493.7,855.2 492.2,856 490.1,856.7 487.7,857.2 485.3,857.7 483.2,858.3 481.3,858.8 479.5,859.3 477.7,859.8 476.2,860.3 475,861 474.3,861.8 474.2,862.8 474.2,863.8 473.8,864.8 472.8,865.7 471,866.5 468.5,867.3 465.8,868 462.9,868.6 460,869.2 457.2,869.6 454.2,870 451.2,870.3 448.1,870.5 445,870.8 441.3,871.1 436.9,871.3 432.7,871.5 429.6,871.8 428.4,872 429.6,872.2 432.7,872.5 436.9,872.7 441.3,873 445,873.2 448,873.4 450.7,873.6 453.5,873.8 456.5,874.1 460,874.3 464.4,874.5 469.5,874.8 474.8,875 479.5,875.3 483.2,875.7 485.6,876.2 487.1,876.7 488,877.3 488.6,877.9 489,878.5 489.2,879.2 488.9,879.9 488.4,880.6 488.1,881.4 488,882 488.4,882.5 489.2,883 490,883.4 490.7,883.9 491,884.4 491,885 490.8,885.8 490.3,886.5 489.7,887.2 489,887.9 488,888.5 486.9,889 485.6,889.5 484.2,890 483,890.5 481.7,891 480.2,891.5 478.8,892 477.8,892.5 477.4,893 477.8,893.6 478.9,894.2 480.3,894.8 481.9,895.4 483.2,896 484.4,896.5 485.8,897 487,897.4 488.2,897.9 489,898.4 489.4,899 489.5,899.7 489.5,900.4 489.5,901.2 489.8,901.9 490.5,902.6 491.6,903.3 492.7,904 493.5,904.7 493.7,905.4 493.1,906.1 492,906.9 490.5,907.7 489.1,908.4 488,909 487.1,909.5 486.3,909.9 485.6,910.2 485.1,910.6 485,911.2 485.3,912 486,912.9 487,913.9 488,915 489,916 490.1,916.9 491.3,917.8 492.5,918.7 493.5,919.8 494.1,921.3 494.3,923.3 494.2,925.7 493.8,928.3 493.4,930.7 492.9,932.6 492.3,934 491.6,935.1 490.9,935.9 490.1,936.7 489.5,937.5 488.9,938.3 488.1,939 487.5,939.7 487.2,940.5 487.4,941.3 488.3,942.1 489.8,942.8 491.5,943.7 493.1,944.8 494.1,946.4 494.5,948.7 494.4,951.6 494.2,954.7 493.8,957.7 493.4,960 492.9,961.6 492.3,962.7 491.7,963.6 491.2,964.5 491,965.6 491.3,966.9 492,968.3 492.8,969.8 493.6,971.2 494,972.7 494,974.1 493.8,975.4 493.4,976.8 493.1,978.4 493,980.2 493.1,982.5 493.4,985.3 493.7,988.2 494,990.8 494.1,992.7 494.5,993.8 495.4,994.2 495.9,994.4 495.3,994.4 492.9,994.7 487.9,995.2 481,995.7 473,996.2 465,996.7 457.8,997.2 450.7,997.7 443.1,998.1 436.1,998.6 431,999.1 429,999.5 431,999.9 436.1,1000.3 443.1,1000.7 450.7,1001.1 457.8,1001.5 464.9,1002 473,1002.5 480.9,1003 487.9,1003.5 492.9,1004 495.5,1004.4 496.2,1004.8 495.9,1005.2 495.2,1005.5 495,1005.7 495,1071.6 495.5,1071.9 496.2,1072.2 497,1072.6 497.8,1073.2 498.4,1074.1 498.8,1075.3 499,1076.9 499.1,1078.6 499.4,1080.3 499.9,1081.7 500.7,1082.9 501.7,1083.9 502.8,1084.8 503.9,1085.7 505,1086.7 506,1087.7 507.1,1088.8 508.2,1089.8 509.3,1090.8 510.4,1091.7 511.5,1092.5 512.6,1093.2 513.8,1093.8 515.1,1094.3 516.7,1094.9 518.7,1095.4 520.9,1095.9 523.3,1096.3 525.7,1096.8 528,1097.2 530.4,1097.6 533.2,1098 535.7,1098.4 537.5,1098.8 538,1099.2 536.9,1099.6 534.5,1100 531.4,1100.5 528.2,1100.8 525.5,1101.2 522.7,1101.5 519.4,1101.8 516.4,1102 514.8,1102.2 515.4,1102.5 519.3,1102.8 526,1103.2 533.7,1103.5 540.8,1103.8 545.5,1104 589.4,1105.5 495.2,1106.6 495.2,689" fill="#DEE1FB" stroke="none"/>
<polyline points="495,689 495,836 495.1,836.2 495.2,836.5 495.4,836.9 495.6,837.3 496,837.7 496.5,838.1 497.2,838.5 498,839 498.8,839.5 499.5,840 500.2,840.6 501,841.1 501.8,841.8 502.3,842.4 502.4,843.1 502,843.9 501.3,844.7 500.3,845.5 499.3,846.3 498.4,847 497.6,847.5 496.9,847.9 496.2,848.3 495.5,848.7 495,849.4 494.8,850.4 494.8,851.6 494.8,852.9 494.5,854.2 493.7,855.2 492.2,856 490.1,856.7 487.7,857.2 485.3,857.7 483.2,858.3 481.3,858.8 479.5,859.3 477.7,859.8 476.2,860.3 475,861 474.3,861.8 474.2,862.8 474.2,863.8 473.8,864.8 472.8,865.7 471,866.5 468.5,867.3 465.8,868 462.9,868.6 460,869.2 457.2,869.6 454.2,870 451.2,870.3 448.1,870.5 445,870.8 441.3,871.1 436.9,871.3 432.7,871.5 429.6,871.8 428.4,872 429.6,872.2 432.7,872.5 436.9,872.7 441.3,873 445,873.2 448,873.4 450.7,873.6 453.5,873.8 456.5,874.1 460,874.3 464.4,874.5 469.5,874.8 474.8,875 479.5,875.3 483.2,875.7 485.6,876.2 487.1,876.7 488,877.3 488.6,877.9 489,878.5 489.2,879.2 488.9,879.9 488.4,880.6 488.1,881.4 488,882 488.4,882.5 489.2,883 490,883.4 490.7,883.9 491,884.4 491,885 490.8,885.8 490.3,886.5 489.7,887.2 489,887.9 488,888.5 486.9,889 485.6,889.5 484.2,890 483,890.5 481.7,891 480.2,891.5 478.8,892 477.8,892.5 477.4,893 477.8,893.6 478.9,894.2 480.3,894.8 481.9,895.4 483.2,896 484.4,896.5 485.8,897 487,897.4 488.2,897.9 489,898.4 489.4,899 489.5,899.7 489.5,900.4 489.5,901.2 489.8,901.9 490.5,902.6 491.6,903.3 492.7,904 493.5,904.7 493.7,905.4 493.1,906.1 492,906.9 490.5,907.7 489.1,908.4 488,909 487.1,909.5 486.3,909.9 485.6,910.2 485.1,910.6 485,911.2 485.3,912 486,912.9 487,913.9 488,915 489,916 490.1,916.9 491.3,917.8 492.5,918.7 493.5,919.8 494.1,921.3 494.3,923.3 494.2,925.7 493.8,928.3 493.4,930.7 492.9,932.6 492.3,934 491.6,935.1 490.9,935.9 490.1,936.7 489.5,937.5 488.9,938.3 488.1,939 487.5,939.7 487.2,940.5 487.4,941.3 488.3,942.1 489.8,942.8 491.5,943.7 493.1,944.8 494.1,946.4 494.5,948.7 494.4,951.6 494.2,954.7 493.8,957.7 493.4,960 492.9,961.6 492.3,962.7 491.7,963.6 491.2,964.5 491,965.6 491.3,966.9 492,968.3 492.8,969.8 493.6,971.2 494,972.7 494,974.1 493.8,975.4 493.4,976.8 493.1,978.4 493,980.2 493.1,982.5 493.4,985.3 493.7,988.2 494,990.8 494.1,992.7 494.5,993.8 495.4,994.2 495.9,994.4 495.3,994.4 492.9,994.7 487.9,995.2 481,995.7 473,996.2 465,996.7 457.8,997.2 450.7,997.7 443.1,998.1 436.1,998.6 431,999.1 429,999.5 431,999.9 436.1,1000.3 443.1,1000.7 450.7,1001.1 457.8,1001.5 464.9,1002 473,1002.5 480.9,1003 487.9,1003.5 492.9,1004 495.5,1004.4 496.2,1004.8 495.9,1005.2 495.2,1005.5 495,1005.7 495,1071.6 495.5,1071.9 496.2,1072.2 497,1072.6 497.8,1073.2 498.4,1074.1 498.8,1075.3 499,1076.9 499.1,1078.6 499.4,1080.3 499.9,1081.7 500.7,1082.9 501.7,1083.9 502.8,1084.8 503.9,1085.7 505,1086.7 506,1087.7 507.1,1088.8 508.2,1089.8 509.3,1090.8 510.4,1091.7 511.5,1092.5 512.6,1093.2 513.8,1093.8 515.1,1094.3 516.7,1094.9 518.7,1095.4 520.9,1095.9 523.3,1096.3 525.7,1096.8 528,1097.2 530.4,1097.6 533.2,1098 535.7,1098.4 537.5,1098.8 538,1099.2 536.9,1099.6 534.5,1100 531.4,1100.5 528.2,1100.8 525.5,1101.2 522.7,1101.5 519.4,1101.8 516.4,1102 514.8,1102.2 515.4,1102.5 519.3,1102.8 526,1103.2 533.7,1103.5 540.8,1103.8 545.5,1104 589.4,1105.5" fill="none" stroke="#5F72F2" stroke-width="2.9" stroke-linejoin="round"/>
<path d="M495.2 689V1106.6" stroke="#5F72F2" stroke-width="3" fill="none"/>
<path d="M408.7 897.3H605.1" stroke="#000" stroke-width="3" stroke-dasharray="15.3 15" fill="none"/>
<path d="M407.2 689H605.1V1106.6H407.2Z" stroke="#000" stroke-width="2" fill="none"/>
<path d="M407.2 689H398.2M407.2 758.6H398.2M407.2 828.2H398.2M407.2 897.8H398.2M407.2 967.4H398.2M407.2 1037H398.2M407.2 1106.6H398.2M407.2 723.8H402.6M407.2 793.4H402.6M407.2 863H402.6M407.2 932.6H402.6M407.2 1002.2H402.6M407.2 1071.8H402.6M407.2 1106.6V1115.2M429.2 1106.6V1111.6M451.1 1106.6V1115.2M473 1106.6V1111.6M494.9 1106.6V1115.2M517 1106.6V1111.6M539.1 1106.6V1115.2M561.1 1106.6V1111.6M583.1 1106.6V1115.2M605 1106.6V1111.6" stroke="#000" stroke-width="2" fill="none"/>
<text x="393.6" y="696.8" font-size="29.8" text-anchor="end">15</text>
<text x="393.6" y="767" font-size="29.8" text-anchor="end">10</text>
<text x="393.6" y="837.4" font-size="29.8" text-anchor="end">5</text>
<text x="393.6" y="907.8" font-size="29.8" text-anchor="end">0</text>
<text x="393.6" y="977.8" font-size="29.8" text-anchor="end">-5</text>
<text x="393.6" y="1048.8" font-size="29.8" text-anchor="end">-10</text>
<text x="393.6" y="1119.9" font-size="29.8" text-anchor="end">-15</text>
<text x="408.2" y="1143" font-size="30" text-anchor="middle">-4</text>
<text x="451.8" y="1143" font-size="30" text-anchor="middle">-2</text>
<text x="495.2" y="1143" font-size="30" text-anchor="middle">0</text>
<text x="538.6" y="1143" font-size="30" text-anchor="middle">2</text>
<text x="581.8" y="1143" font-size="30" text-anchor="middle">4</text>
<text x="419.3" y="795" font-size="23.7">iCOHP</text>
<text x="421.7" y="826.5" font-size="22.5" fill="#6674F4">-2.36</text>
<text x="575" y="879.7" font-size="25.5">E<tspan font-size="17.5" dy="7">f</tspan></text>
<text transform="translate(356.4,898) rotate(-90)" font-size="32" text-anchor="middle">Energy (eV)</text>
<text x="507.5" y="1185.1" font-size="32" text-anchor="middle">-pCOHP</text>
</g>
</svg></body></html>
